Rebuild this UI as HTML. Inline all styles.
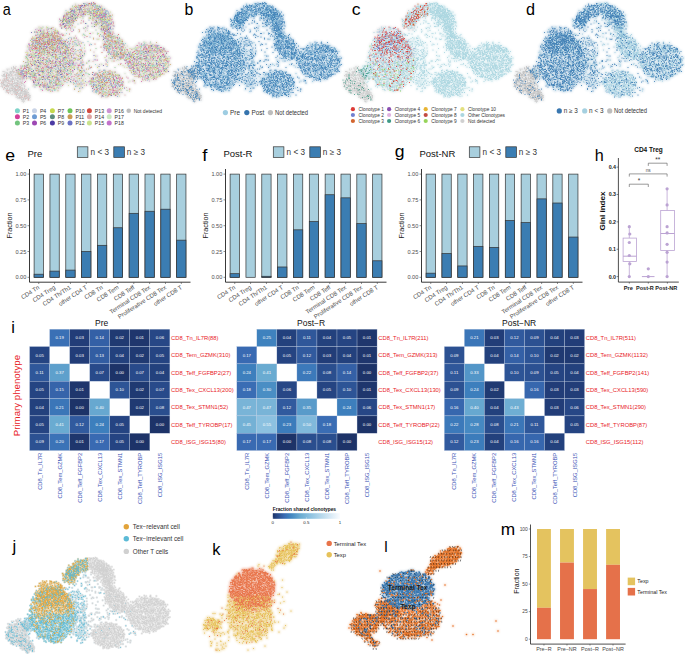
<!DOCTYPE html><html><head><meta charset="utf-8"><style>html,body{margin:0;padding:0;background:#fff;width:685px;height:654px;overflow:hidden}svg text{font-family:"Liberation Sans",sans-serif}</style></head><body><svg width="685" height="654" viewBox="0 0 685 654" style="display:block" font-family="Liberation Sans, sans-serif">
<rect width="685" height="654" fill="#fff"/>
<defs><filter id="bl" x="-5%" y="-5%" width="110%" height="110%"><feGaussianBlur stdDeviation="1.6"/></filter><filter id="bd" x="-5%" y="-5%" width="110%" height="110%"><feGaussianBlur stdDeviation="0.6"/></filter><g id="Asparse"><path id="Asparse0" d="M173 47h0m11 6h0m16 0h0m7 1h0m-12 12h0m8 6h0m-27 11h0m44 3h0m-39 2h0m47 0h0m1 6h0m-20 3h0m9 1h0m17 6h0m11 10h0m-11 5h0m-20 6h0m-24 4h0m68 2h0m-59 9h0m-29 6h0m3 1h0m5 21h0m39 8h0m26 9h0"/><path id="Asparse1" d="M181 67h0m-2 23h0m76 10h0m-85 2h0m64 3h0m-21 7h0m-21 8h0m3 0h0m47 7h0m9 0h0m-47 26h0m5 3h0m27 0h0m20 0h0m-73 1h0m-4 5h0m87 0h0m-93 8h0m59 0h0m27 8h0m-25 4h0"/><path id="Asparse2" d="M178 40h0m12 4h0m13 12h0m16 14h0m4 0h0m-43 4h0m41 11h0m-38 4h0m33 3h0m-5 1h0m30 4h0m-72 11h0m21 11h0m68 3h0m-84 4h0m40 7h0m-16 8h0m10 0h0m-21 4h0m38 1h0m-6 2h0m-48 15h0m75 2h0m-12 12h0m-49 5h0m50 11h0"/><path id="Asparse3" d="M193 41h0m-14 26h0m18 0h0m20 2h0m3 3h0m-3 9h0m4 9h0m-52 6h0m22 16h0m19 3h0m-37 11h0m42 4h0m52 1h0m-72 4h0m59 0h0m-82 10h0m40 6h0m-14 8h0m-17 4h0m-13 3h0m37 4h0m40 2h0m-52 7h0m66 3h0"/><path id="Asparse4" d="M193 43h0m6 3h0m-8 2h0m-4 28h0m0 2h0m23 9h0m-29 13h0m60 18h0m27 10h0m-27 1h0m23 0h0m-81 5h0m-10 4h0m4 0h0m91 3h0m-58 7h0m60 5h0m4 0h0m-78 15h0m17 8h0m47 2h0"/><path id="Asparse5" d="M199 72h0m-25 1h0m48 1h0m-32 14h0m30 1h0m-18 5h0m24 3h0m-22 8h0m17 12h0m7 5h0m30 1h0m-46 5h0m-30 7h0m92 3h0m-89 7h0m21 2h0m8 10h0m55 4h0m-64 10h0m14 8h0m12 12h0"/><path id="Asparse6" d="M171 62h0m45 2h0m-22 14h0m13 0h0m35 19h0m1 1h0m-55 6h0m70 3h0m-7 14h0m12 0h0m-77 2h0m13 6h0m-31 1h0m45 18h0m-44 2h0m84 4h0m-27 6h0m21 5h0m23 1h0m-102 1h0m47 5h0m6 0h0m32 3h0m-3 15h0"/><path id="Asparse7" d="M174 56h0m-5 19h0m47 20h0m11 2h0m-19 3h0m-39 6h0m25 6h0m-6 8h0m-9 1h0m34 2h0m43 1h0m-88 16h0m1 3h0m8 20h0m1 1h0m66 21h0"/><path id="Asparse8" d="M196 44h0m-7 5h0m-18 6h0m-3 2h0m24 3h0m3 8h0m-27 1h0m33 0h0m-31 2h0m-1 19h0m23 7h0m-23 10h0m48 2h0m1 7h0m24 2h0m-65 4h0m2 10h0m81 2h0m-30 1h0m-35 12h0m-18 1h0m2 1h0m44 2h0m7 9h0m38 1h0m-14 20h0m-25 8h0"/><path id="Asparse9" d="M171 47h0m5 5h0m13 1h0m14 5h0m12 26h0m14 9h0m-21 2h0m47 14h0m-67 2h0m24 9h0m37 0h0m5 4h0m-47 7h0m-9 2h0m-18 3h0m88 1h0m-2 3h0m-81 9h0m5 1h0m-4 5h0m21 3h0m42 18h0"/><path id="Asparse10" d="M175 61h0m42 24h0m32 15h0m-23 5h0m1 12h0m6 4h0m-54 2h0m24 5h0m1 1h0m-8 3h0m-24 13h0m78 2h0m13 0h0m-87 6h0m-5 4h0m29 0h0m66 2h0m-78 2h0m72 1h0m-3 2h0m-18 1h0m-1 16h0"/><path id="Asparse11" d="M186 53h0m0 13h0m12 12h0m-2 1h0m9 1h0m23 6h0m-60 25h0m62 3h0m-8 3h0m38 0h0m-13 1h0m-31 4h0m8 0h0m13 7h0m9 2h0m3 3h0m-57 14h0m14 0h0m10 5h0m-14 7h0m67 3h0m-95 2h0m38 2h0m-43 4h0m36 2h0m24 14h0m10 5h0"/></g><g id="AsparseL"><path id="AsparseL0" d="M162 46h0m-3 16h0m-35 6h0m15 0h0m-12 2h0m16 8h0m3 5h0m0 10h0m-1 3h0m17 3h0m0 1h0m-31 2h0m16 1h0m9 8h0m-8 6h0m-13 4h0m4 3h0m7 0h0m-14 2h0m8 0h0m16 4h0m3 0h0m4 5h0m1 2h0m3 12h0m-15 1h0m4 3h0m-87 2h0m70 2h0m12 6h0m-84 2h0m89 3h0m3 0h0"/><path id="AsparseL1" d="M163 41h0m4 3h0m-41 25h0m25 3h0m-2 4h0m-16 3h0m-2 8h0m0 0h0m17 3h0m-16 9h0m-5 8h0m18 0h0m16 1h0m-2 1h0m-1 8h0m-24 5h0m28 0h0m5 9h0m-25 1h0m15 3h0m-25 1h0m24 0h0m-10 9h0m14 1h0m-6 1h0m-5 2h0m-79 4h0m78 0h0m1 0h0m11 4h0m3 0h0m4 3h0m-99 10h0m96 6h0"/><path id="AsparseL2" d="M145 50h0m22 6h0m-7 27h0m-12 1h0m-25 2h0m13 4h0m0 6h0m-19 7h0m29 0h0m13 2h0m2 2h0m5 6h0m-17 2h0m3 0h0m11 1h0m-12 1h0m1 9h0m2 0h0m8 0h0m-2 1h0m-13 3h0m14 1h0m4 0h0m-8 2h0m-18 3h0m-1 2h0m5 17h0m8 6h0m-106 1h0m117 2h0m-1 4h0m-111 4h0"/><path id="AsparseL3" d="M166 36h0m-16 45h0m7 3h0m-7 4h0m-19 2h0m8 0h0m15 0h0m1 1h0m-37 10h0m13 6h0m13 0h0m-20 6h0m36 0h0m2 1h0m2 0h0m-1 2h0m-13 1h0m-25 5h0m20 4h0m0 3h0m20 0h0m-49 2h0m10 0h0m22 6h0m15 5h0m-2 3h0m-18 3h0m21 4h0m-111 1h0m84 8h0m5 4h0m18 3h0m-1 9h0"/><path id="AsparseL4" d="M147 60h0m1 16h0m-10 12h0m0 7h0m-17 2h0m8 9h0m36 5h0m-34 3h0m30 3h0m-47 2h0m42 1h0m-26 5h0m14 1h0m2 1h0m-15 6h0m18 6h0m12 2h0m-15 1h0m-84 7h0m6 2h0m97 0h0m-17 7h0m-6 1h0m12 3h0m-13 1h0m23 5h0"/><path id="AsparseL5" d="M130 84h0m26 0h0m-9 6h0m-1 6h0m-1 1h0m-26 2h0m15 0h0m24 3h0m-4 9h0m-19 2h0m15 8h0m12 3h0m-20 6h0m-3 1h0m-20 1h0m32 0h0m4 0h0m-12 5h0m13 3h0m-20 3h0m23 0h0m2 4h0m-28 2h0m35 4h0m-28 2h0m-75 1h0m93 0h0m-87 1h0m72 1h0m7 8h0m10 3h0m-94 3h0m100 4h0"/><path id="AsparseL6" d="M158 64h0m7 6h0m-35 1h0m18 5h0m2 1h0m-28 4h0m40 5h0m-22 2h0m18 3h0m-18 2h0m3 14h0m20 1h0m-13 11h0m7 0h0m-12 5h0m-4 7h0m1 5h0m6 0h0m9 0h0m-23 3h0m21 6h0m6 0h0m-106 4h0m106 2h0m-9 4h0m3 5h0m-7 1h0m16 1h0m2 0h0m-8 8h0m-21 1h0m12 6h0m11 5h0"/><path id="AsparseL7" d="M156 48h0m-23 19h0m34 1h0m-27 7h0m12 6h0m-13 5h0m-10 2h0m23 0h0m7 0h0m-24 3h0m17 1h0m12 4h0m-29 2h0m24 1h0m-22 2h0m15 2h0m8 2h0m-8 14h0m-18 7h0m-9 2h0m29 8h0m11 0h0m-30 6h0m29 3h0m-2 2h0m-10 2h0m12 0h0m-43 1h0m20 0h0m-77 3h0m59 1h0m-62 1h0m93 1h0m5 4h0m-2 4h0m5 1h0m-13 2h0m3 3h0m2 3h0m-97 5h0"/><path id="AsparseL8" d="M167 42h0m-34 14h0m11 7h0m-19 8h0m28 5h0m3 4h0m-15 2h0m-11 1h0m5 2h0m5 2h0m18 1h0m3 4h0m-29 2h0m4 1h0m11 3h0m-6 1h0m3 3h0m-11 3h0m-5 1h0m19 4h0m-11 1h0m2 0h0m23 1h0m-46 5h0m7 6h0m44 1h0m-45 1h0m26 0h0m-1 3h0m4 3h0m7 0h0m1 0h0m-32 12h0m-2 3h0m20 7h0m2 8h0m-95 2h0m-2 2h0"/><path id="AsparseL9" d="M120 76h0m23 0h0m-6 1h0m-16 4h0m11 0h0m5 2h0m13 2h0m16 0h0m0 0h0m-21 3h0m8 0h0m-20 2h0m1 3h0m-1 3h0m12 2h0m6 1h0m-14 4h0m25 0h0m-12 3h0m-2 2h0m-4 7h0m3 1h0m-22 5h0m13 3h0m24 0h0m-28 2h0m11 0h0m17 0h0m-21 2h0m9 0h0m17 1h0m-3 1h0m-32 2h0m1 1h0m5 3h0m17 2h0m13 3h0m-49 4h0m39 4h0m-2 1h0m-32 5h0m39 1h0m-16 9h0m6 1h0m-2 7h0m-81 1h0m95 1h0m-5 1h0"/><path id="AsparseL10" d="M160 35h0m-10 19h0m-5 30h0m-10 11h0m-5 5h0m8 0h0m11 0h0m5 10h0m-18 2h0m21 1h0m-6 6h0m-3 2h0m-6 12h0m6 0h0m1 1h0m10 7h0m5 0h0m-2 3h0m-93 6h0m89 7h0m7 3h0m-9 12h0"/><path id="AsparseL11" d="M147 44h0m-5 1h0m16 14h0m5 27h0m-22 14h0m15 1h0m7 0h0m2 3h0m-25 1h0m12 3h0m-2 9h0m6 1h0m3 1h0m6 1h0m-1 6h0m-1 7h0m-7 2h0m2 4h0m1 3h0m5 1h0m-23 1h0m22 0h0m-94 2h0m85 1h0m-20 4h0m0 0h0m24 0h0m1 6h0m-12 11h0m15 4h0m-13 7h0m8 4h0"/></g><g id="Agrey"><path id="Agrey0" d="M8 143h0m19 1h0m7 0h0m-20 1h0m1 2h0m26 0h0m-19 1h0m-3 1h0m12 0h0m3 0h0m4 1h0m-24 1h0m-4 1h0m31 0h0m-22 2h0m12 0h0m-11 3h0m19 0h0m-26 1h0m13 0h0m-13 1h0m3 0h0m1 3h0m-10 3h0m26 0h0m0 0h0m-17 1h0m1 1h0m12 0h0m1 0h0m-8 1h0m14 0h0m3 0h0m-27 1h0m3 0h0m-11 2h0m32 0h0m-26 1h0m21 0h0m-19 1h0m20 0h0m-17 1h0m3 1h0m14 0h0m12 0h0m1 1h0m-14 1h0m18 0h0m-18 2h0m2 0h0m-9 1h0m4 0h0m15 0h0m7 0h0m-29 3h0m16 0h0m6 1h0m8 0h0m-17 1h0m16 0h0m-29 1h0m29 0h0m-8 1h0m-8 2h0m23 0h0m-9 1h0m10 0h0m-16 2h0m-7 1h0m14 0h0m-1 1h0m-4 2h0m-8 1h0m11 0h0m0 1h0m9 0h0"/><path id="Agrey1" d="M32 139h0m-5 5h0m2 0h0m6 1h0m-1 1h0m-17 3h0m19 0h0m3 0h0m9 2h0m-36 1h0m1 1h0m30 1h0m-11 3h0m-9 1h0m-14 1h0m32 0h0m-17 1h0m-10 1h0m21 0h0m-5 4h0m0 0h0m10 0h0m-16 1h0m11 0h0m-33 1h0m43 0h0m-9 1h0m2 0h0m-2 5h0m3 0h0m-12 1h0m9 0h0m-21 3h0m-7 1h0m23 0h0m-3 1h0m5 0h0m4 2h0m-9 2h0m-11 2h0m15 3h0m4 1h0m4 2h0m2 3h0m11 0h0m-9 1h0m5 1h0m2 2h0"/><path id="Agrey2" d="M27 138h0m7 1h0m-13 5h0m3 0h0m12 0h0m8 0h0m-12 1h0m-12 1h0m20 1h0m-23 1h0m13 1h0m-22 1h0m5 0h0m31 1h0m-39 1h0m12 0h0m18 3h0m1 0h0m-9 2h0m12 0h0m-23 4h0m20 1h0m-7 2h0m15 1h0m-9 1h0m-7 1h0m0 1h0m6 0h0m-1 1h0m-13 1h0m-5 1h0m18 0h0m-16 1h0m32 0h0m-47 1h0m29 0h0m5 0h0m-12 2h0m4 0h0m3 5h0m7 0h0m2 0h0m-26 1h0m15 0h0m3 0h0m3 0h0m19 0h0m-24 2h0m1 0h0m12 0h0m-10 2h0m9 1h0m7 0h0m7 2h0m2 0h0m-19 2h0m4 2h0m0 1h0m-11 1h0m2 0h0m20 0h0m-14 1h0m0 2h0m10 2h0"/><path id="Agrey3" d="M23 136h0m1 7h0m17 1h0m-19 1h0m4 2h0m17 0h0m-25 3h0m12 0h0m13 0h0m-23 1h0m3 0h0m11 2h0m14 1h0m-30 1h0m28 0h0m-8 1h0m-24 2h0m8 0h0m16 0h0m4 0h0m-16 1h0m2 0h0m4 0h0m7 0h0m-5 2h0m-14 1h0m-3 1h0m18 3h0m0 0h0m-32 2h0m28 0h0m10 0h0m-35 1h0m16 1h0m3 0h0m14 0h0m-17 1h0m7 0h0m-17 1h0m21 0h0m4 1h0m-13 3h0m-4 1h0m6 0h0m19 1h0m-6 1h0m1 0h0m0 0h0m-21 2h0m5 0h0m1 0h0m4 2h0m20 0h0m-35 1h0m1 0h0m38 0h0m1 0h0m-26 1h0m7 0h0m6 1h0m-9 1h0m9 0h0m7 0h0m1 1h0m3 2h0m8 1h0m-1 1h0m-10 1h0m-9 1h0m-4 1h0m24 0h0m-7 2h0m0 0h0m3 3h0"/><path id="Agrey4" d="M24 143h0m-12 3h0m-3 2h0m28 0h0m-28 1h0m28 0h0m-22 1h0m3 0h0m16 1h0m10 1h0m-22 1h0m3 1h0m6 2h0m10 0h0m-33 1h0m18 0h0m18 0h0m-8 1h0m9 0h0m-37 2h0m2 0h0m-4 2h0m1 0h0m6 0h0m12 0h0m-4 1h0m5 0h0m3 1h0m8 0h0m-23 1h0m11 0h0m22 3h0m-39 1h0m28 1h0m-11 1h0m-7 1h0m8 1h0m5 0h0m7 0h0m-33 1h0m26 0h0m7 0h0m11 0h0m-36 2h0m11 0h0m0 1h0m6 0h0m15 0h0m-29 2h0m10 2h0m19 1h0m-13 1h0m17 0h0m2 0h0m-19 1h0m-2 1h0m27 0h0m-31 1h0m29 0h0m-5 1h0m3 0h0m-8 1h0m-13 2h0m22 0h0m-9 1h0m6 0h0m9 2h0m-3 1h0m3 0h0m-2 2h0m0 0h0m-9 6h0m-2 2h0"/><path id="Agrey5" d="M30 135h0m-7 1h0m-5 2h0m7 5h0m-6 1h0m2 0h0m11 2h0m-23 2h0m29 1h0m-7 1h0m5 0h0m-19 1h0m32 0h0m-11 1h0m12 1h0m-22 3h0m-16 1h0m10 1h0m18 2h0m-30 1h0m12 1h0m-19 2h0m39 0h0m1 2h0m-24 1h0m6 2h0m-10 1h0m18 0h0m-23 1h0m2 0h0m2 0h0m4 0h0m11 0h0m1 0h0m13 0h0m-9 2h0m4 0h0m-10 3h0m12 0h0m-18 1h0m1 0h0m2 1h0m16 0h0m-22 1h0m18 2h0m13 1h0m-38 2h0m41 0h0m2 0h0m-12 2h0m-10 1h0m4 0h0m4 3h0m13 2h0m3 0h0m-15 2h0m-3 1h0m16 0h0m-7 2h0m-4 2h0"/><path id="Agrey6" d="M29 137h0m-2 1h0m5 3h0m6 0h0m2 2h0m-14 1h0m1 0h0m-13 2h0m22 0h0m-17 4h0m-5 2h0m24 1h0m-1 2h0m8 0h0m-31 4h0m18 1h0m-10 1h0m18 3h0m-28 1h0m-7 1h0m7 0h0m20 0h0m-29 2h0m19 0h0m-2 1h0m4 0h0m-16 1h0m19 3h0m4 0h0m6 0h0m-16 1h0m8 0h0m12 2h0m-6 1h0m-10 1h0m18 0h0m4 0h0m-16 1h0m4 0h0m10 0h0m-31 1h0m36 0h0m-35 1h0m34 0h0m-33 1h0m18 0h0m-7 1h0m20 0h0m-29 2h0m28 1h0m7 3h0m0 0h0m1 0h0m-17 1h0m12 0h0m-9 1h0m20 0h0m-10 2h0m2 1h0m-9 2h0m16 1h0m-12 2h0"/><path id="Agrey7" d="M27 133h0m-3 5h0m11 1h0m-9 1h0m11 1h0m-31 2h0m37 3h0m-29 1h0m-7 2h0m-3 2h0m4 0h0m1 1h0m2 0h0m-3 1h0m3 0h0m30 1h0m-22 1h0m6 1h0m10 1h0m-10 2h0m12 3h0m-21 4h0m17 0h0m1 0h0m-25 3h0m24 1h0m11 0h0m-20 1h0m3 1h0m7 1h0m2 1h0m-2 1h0m5 0h0m-28 2h0m4 0h0m5 1h0m8 1h0m14 0h0m-17 1h0m14 0h0m6 0h0m0 1h0m-32 2h0m29 0h0m-10 1h0m3 0h0m6 0h0m4 0h0m-16 2h0m9 1h0m8 1h0m-12 1h0m7 1h0m13 1h0m-5 2h0m3 0h0m-1 3h0m-11 1h0m11 1h0m-5 1h0m1 1h0"/><path id="Agrey8" d="M27 135h0m4 2h0m-6 4h0m10 3h0m-14 3h0m13 1h0m6 0h0m-33 1h0m15 3h0m25 3h0m-21 1h0m16 0h0m-6 1h0m5 0h0m-24 1h0m9 0h0m15 0h0m1 0h0m-18 2h0m18 0h0m-33 2h0m26 0h0m-24 1h0m1 0h0m28 1h0m-13 3h0m8 1h0m7 0h0m-33 2h0m39 0h0m-33 2h0m18 0h0m-21 1h0m-7 1h0m1 0h0m32 1h0m-26 5h0m17 0h0m1 0h0m2 0h0m1 0h0m4 0h0m-13 2h0m21 0h0m5 0h0m-2 1h0m-18 1h0m1 0h0m3 1h0m-17 1h0m22 0h0m-8 1h0m20 1h0m-21 1h0m21 0h0m-18 2h0m17 2h0m-12 2h0m0 1h0m18 1h0m-13 2h0m17 1h0m-16 2h0"/><path id="Agrey9" d="M32 133h0m-18 5h0m21 3h0m0 0h0m-2 1h0m-12 1h0m2 1h0m14 0h0m3 1h0m-19 2h0m25 0h0m-14 3h0m6 0h0m-10 1h0m-21 1h0m28 0h0m3 1h0m2 1h0m11 0h0m-36 1h0m17 2h0m16 2h0m-43 1h0m10 0h0m-5 1h0m19 0h0m-6 1h0m19 1h0m-36 1h0m3 0h0m-3 2h0m0 1h0m17 5h0m17 0h0m-27 1h0m12 0h0m16 0h0m-1 1h0m-3 1h0m-22 2h0m9 0h0m7 2h0m-10 2h0m24 0h0m-15 2h0m4 0h0m18 1h0m-17 1h0m7 0h0m9 1h0m1 1h0m-2 1h0m4 2h0m-17 1h0m8 0h0m6 1h0m-12 1h0m10 2h0m7 2h0m-9 1h0"/><path id="Agrey10" d="M15 140h0m28 2h0m-33 2h0m18 0h0m12 2h0m-20 2h0m0 0h0m3 0h0m0 1h0m-14 1h0m31 1h0m-14 3h0m-11 1h0m10 0h0m-16 1h0m28 0h0m10 0h0m-34 2h0m-1 1h0m5 1h0m-3 1h0m-7 1h0m28 0h0m-28 3h0m11 1h0m13 0h0m-25 1h0m2 1h0m18 0h0m-19 1h0m16 0h0m2 0h0m-18 1h0m12 0h0m0 0h0m-7 1h0m5 2h0m25 1h0m-33 1h0m1 1h0m0 1h0m27 0h0m-18 1h0m9 0h0m-15 1h0m9 1h0m9 0h0m10 0h0m-16 1h0m8 0h0m10 0h0m-24 1h0m31 1h0m-17 2h0m15 0h0m-13 2h0m4 1h0m7 0h0m7 0h0m-4 1h0m-8 1h0m5 5h0m5 1h0m-8 2h0m14 0h0m-12 2h0m1 3h0"/><path id="Agrey11" d="M30 136h0m2 4h0m5 2h0m-9 1h0m10 0h0m-3 2h0m7 3h0m-29 1h0m28 0h0m-16 1h0m-12 1h0m29 0h0m-29 1h0m27 1h0m3 1h0m3 0h0m-33 1h0m-1 1h0m33 0h0m-31 1h0m-6 1h0m37 0h0m-44 2h0m9 0h0m6 1h0m-10 1h0m13 0h0m6 1h0m-22 2h0m3 1h0m10 0h0m4 0h0m23 0h0m-19 1h0m12 0h0m-4 4h0m3 0h0m-31 1h0m9 0h0m3 0h0m23 2h0m-30 1h0m31 0h0m-16 1h0m5 1h0m13 0h0m-35 1h0m31 0h0m-4 1h0m18 0h0m-37 1h0m16 0h0m2 0h0m-20 1h0m4 0h0m26 0h0m-28 3h0m20 1h0m-18 1h0m13 2h0m-6 1h0m9 0h0m20 1h0m-3 1h0m-1 2h0m3 0h0m-7 1h0m11 0h0m-16 1h0m12 2h0m5 1h0m0 2h0"/></g><g id="AbigL"><path id="AbigL0" d="M58 87h0m1 4h0m9 0h0m-8 3h0m0 7h0m58 3h0m-46 7h0m-10 4h0m64 1h0m-61 2h0m5 3h0m24 0h0m-28 1h0m75 0h0m3 0h0m-40 1h0m23 1h0m-24 2h0m-42 1h0m45 0h0m29 0h0m-24 3h0m-34 1h0m33 0h0m-18 1h0m11 0h0m25 0h0m-72 3h0m25 0h0m4 0h0m12 0h0m6 0h0m-27 1h0m-1 1h0m8 0h0m20 1h0m-27 1h0m21 1h0m-23 1h0m10 0h0m31 0h0m8 0h0m22 0h0m-12 6h0m-20 1h0m22 0h0m-41 1h0m41 0h0m-58 1h0m32 2h0m-24 1h0m-19 1h0m7 0h0m41 0h0m-44 1h0m13 0h0m3 0h0m26 0h0m24 1h0m-66 2h0m63 1h0m-67 2h0m34 0h0m13 1h0m6 1h0m-17 1h0m-26 1h0m35 0h0m-26 3h0m26 0h0m4 0h0m-27 2h0m22 1h0m15 0h0m-40 1h0m22 0h0m-28 1h0m20 2h0m4 0h0m-9 1h0m-1 2h0m5 2h0m-13 1h0m20 1h0"/><path id="AbigL1" d="M107 114h0m22 1h0m-10 2h0m8 1h0m3 3h0m-69 2h0m52 0h0m11 0h0m-11 3h0m5 1h0m28 2h0m-93 1h0m41 0h0m15 0h0m-34 1h0m65 0h0m-44 2h0m-2 1h0m48 0h0m-82 1h0m35 0h0m19 1h0m10 0h0m8 0h0m-70 1h0m59 0h0m10 0h0m-43 1h0m23 0h0m-28 1h0m20 0h0m9 0h0m-55 1h0m28 2h0m41 0h0m-4 3h0m-52 1h0m31 1h0m18 0h0m-51 2h0m9 0h0m38 0h0m-50 1h0m53 0h0m-48 1h0m9 0h0m37 0h0m17 0h0m-76 2h0m66 0h0m-18 1h0m8 0h0m-3 1h0m7 1h0m-34 2h0m8 0h0m22 0h0m-33 1h0m11 0h0m10 2h0m-33 1h0m24 0h0m16 4h0m-40 2h0m33 0h0m-7 1h0m23 1h0m-10 1h0m7 0h0m-12 1h0m3 2h0m-11 1h0m-10 4h0m12 1h0"/><path id="AbigL2" d="M74 76h0m-9 12h0m32 13h0m-45 4h0m3 1h0m1 0h0m-1 5h0m11 2h0m64 0h0m-5 3h0m8 1h0m-79 1h0m23 0h0m38 0h0m19 0h0m-78 1h0m24 0h0m11 1h0m9 1h0m6 0h0m24 0h0m-35 1h0m40 0h0m-75 1h0m63 0h0m14 0h0m-80 1h0m13 0h0m13 0h0m-9 1h0m41 0h0m-49 1h0m4 0h0m9 0h0m25 0h0m-36 1h0m20 0h0m15 0h0m15 0h0m-56 1h0m68 1h0m-64 1h0m9 0h0m35 0h0m-3 1h0m0 0h0m-52 1h0m76 0h0m-54 1h0m15 2h0m29 0h0m25 0h0m-47 2h0m40 0h0m-37 1h0m24 1h0m-52 1h0m12 0h0m16 0h0m4 0h0m23 0h0m1 0h0m-72 1h0m18 0h0m64 0h0m-16 1h0m-7 1h0m10 0h0m-70 1h0m9 0h0m48 0h0m16 0h0m-46 1h0m-27 2h0m10 0h0m31 1h0m24 0h0m-37 1h0m-3 1h0m22 0h0m-35 1h0m46 0h0m-4 1h0m2 0h0m-16 1h0m34 1h0m-47 1h0m2 0h0m-30 1h0m36 0h0m1 0h0m11 0h0m18 1h0m-25 1h0m17 0h0m1 0h0m-29 1h0m45 0h0m-52 1h0m24 0h0m24 0h0m-24 1h0m-36 2h0m5 1h0m19 2h0m12 0h0m8 1h0m4 0h0m3 0h0m6 0h0m0 2h0m-9 1h0m-19 2h0m8 0h0m12 3h0m-26 1h0m14 0h0m-8 1h0m5 6h0"/><path id="AbigL3" d="M63 109h0m80 4h0m0 2h0m-89 1h0m32 0h0m-4 1h0m-26 3h0m83 1h0m-92 2h0m15 0h0m42 0h0m0 1h0m-53 1h0m35 0h0m5 0h0m15 1h0m27 0h0m-14 2h0m-6 1h0m11 0h0m-68 1h0m56 0h0m8 1h0m5 0h0m-66 1h0m16 0h0m5 0h0m4 0h0m26 0h0m-17 1h0m18 0h0m20 0h0m6 0h0m-65 3h0m29 0h0m-42 1h0m15 0h0m22 1h0m-21 1h0m4 0h0m-18 1h0m81 3h0m-38 2h0m8 0h0m21 4h0m-66 1h0m30 0h0m4 0h0m-21 1h0m-15 1h0m19 2h0m20 0h0m16 0h0m-20 1h0m9 0h0m-39 1h0m20 0h0m36 0h0m-54 1h0m42 0h0m0 0h0m-7 2h0m-32 1h0m39 0h0m3 5h0m-28 3h0m-17 1h0m41 0h0m-13 1h0m-19 1h0m19 2h0m1 1h0m7 4h0m2 0h0"/><path id="AbigL4" d="M64 94h0m18 14h0m-28 1h0m70 1h0m-64 5h0m35 1h0m-9 1h0m6 2h0m20 3h0m-1 2h0m-24 4h0m2 2h0m23 1h0m-37 1h0m41 1h0m22 0h0m-44 1h0m-40 1h0m47 0h0m3 0h0m18 0h0m-35 1h0m-1 1h0m9 2h0m46 0h0m-54 1h0m41 0h0m-61 1h0m6 0h0m11 0h0m2 0h0m32 0h0m1 0h0m-26 1h0m29 0h0m-65 1h0m60 0h0m-31 2h0m-22 1h0m13 0h0m9 0h0m11 0h0m20 0h0m-43 1h0m-13 1h0m64 0h0m11 1h0m-66 1h0m10 1h0m48 0h0m-66 1h0m45 0h0m22 0h0m-19 1h0m-44 2h0m21 0h0m11 0h0m16 0h0m15 0h0m-24 1h0m-10 1h0m-23 2h0m26 0h0m-32 1h0m70 0h0m-20 1h0m-5 1h0m7 1h0m12 0h0m-60 1h0m33 0h0m-18 1h0m5 3h0m23 0h0m-33 1h0m3 1h0m-2 1h0m11 0h0m-2 1h0m-10 2h0m28 3h0"/><path id="AbigL5" d="M68 90h0m-10 2h0m5 5h0m1 2h0m1 5h0m2 1h0m-5 2h0m21 3h0m47 0h0m-76 1h0m4 0h0m82 1h0m-89 4h0m88 0h0m-17 3h0m-65 2h0m25 0h0m62 0h0m-76 1h0m33 1h0m36 0h0m-40 3h0m14 1h0m-30 1h0m8 0h0m15 0h0m-6 1h0m40 0h0m-69 1h0m6 1h0m2 0h0m18 0h0m9 0h0m10 0h0m-51 1h0m7 0h0m3 0h0m-11 1h0m26 1h0m47 0h0m-65 2h0m10 0h0m-9 1h0m35 0h0m-6 1h0m20 0h0m-18 1h0m32 0h0m-74 1h0m58 0h0m5 0h0m-56 1h0m5 0h0m12 1h0m24 0h0m-34 1h0m40 0h0m-26 1h0m33 0h0m1 1h0m-7 1h0m-26 1h0m-9 2h0m35 1h0m3 0h0m-3 4h0m-50 1h0m56 0h0m-17 1h0m33 0h0m-29 1h0m19 0h0m7 0h0m-28 2h0m26 0h0m-32 1h0m0 0h0m-35 1h0m24 1h0m24 0h0m-24 2h0m5 1h0m18 0h0m-10 1h0m-13 2h0m3 0h0m2 0h0m-17 1h0m10 0h0m40 0h0m-54 1h0m21 0h0m15 1h0m-4 1h0m-8 1h0m21 1h0m-18 1h0m8 0h0m-6 6h0m14 0h0m-14 1h0"/><path id="AbigL6" d="M67 85h0m-2 4h0m11 0h0m-18 6h0m3 0h0m20 7h0m20 7h0m-44 3h0m49 2h0m30 3h0m-5 1h0m14 2h0m-5 1h0m-79 2h0m13 2h0m35 0h0m-43 1h0m28 0h0m45 0h0m-58 1h0m4 0h0m24 0h0m2 0h0m16 0h0m13 1h0m-26 1h0m7 0h0m13 0h0m-30 1h0m9 0h0m6 0h0m14 0h0m-55 1h0m31 0h0m10 0h0m-29 1h0m31 0h0m-10 1h0m16 0h0m-74 1h0m35 0h0m18 1h0m39 0h0m-44 2h0m-49 1h0m22 0h0m55 0h0m-43 2h0m34 0h0m1 1h0m9 0h0m1 0h0m-50 1h0m50 0h0m-34 1h0m-18 1h0m8 0h0m5 2h0m5 0h0m22 1h0m-33 3h0m29 0h0m12 0h0m-32 1h0m31 0h0m0 0h0m-38 1h0m-21 1h0m30 0h0m-38 1h0m13 0h0m16 1h0m1 1h0m4 1h0m-29 1h0m12 0h0m-7 1h0m38 0h0m6 0h0m-13 1h0m22 1h0m-23 2h0m6 0h0m3 3h0m-39 1h0m31 0h0m11 0h0m11 1h0m-42 1h0m14 0h0m-13 1h0m12 3h0m4 0h0m11 1h0m-12 1h0m21 2h0m-19 2h0m2 1h0"/><path id="AbigL7" d="M68 77h0m-7 4h0m4 3h0m-3 14h0m40 13h0m19 2h0m-68 2h0m11 0h0m-9 2h0m74 2h0m10 1h0m-38 2h0m-5 1h0m5 0h0m45 0h0m-91 1h0m27 0h0m24 0h0m12 0h0m-39 2h0m14 1h0m51 1h0m-88 1h0m26 0h0m39 0h0m-66 1h0m37 0h0m-43 1h0m5 0h0m90 0h0m-88 1h0m24 1h0m-3 1h0m26 0h0m24 0h0m-18 3h0m21 0h0m-72 1h0m72 0h0m-59 2h0m19 0h0m5 0h0m27 0h0m14 1h0m-55 1h0m-16 1h0m12 0h0m35 0h0m-27 1h0m43 0h0m-41 1h0m8 0h0m4 0h0m-28 2h0m35 0h0m18 0h0m18 0h0m-83 1h0m26 0h0m29 0h0m-45 2h0m1 1h0m29 0h0m-33 1h0m60 1h0m-39 1h0m17 0h0m26 0h0m-70 2h0m18 0h0m1 0h0m2 2h0m14 1h0m17 0h0m-38 1h0m1 1h0m35 3h0m7 0h0m5 0h0m-21 1h0m6 0h0m-7 1h0m10 0h0m3 0h0m-25 2h0m17 0h0m13 0h0m-46 3h0m2 0h0m5 0h0m9 2h0m11 0h0m-1 1h0m2 5h0m-4 1h0"/><path id="AbigL8" d="M66 80h0m0 7h0m-8 2h0m6 0h0m9 5h0m-2 2h0m13 8h0m46 2h0m11 0h0m-5 1h0m-15 1h0m15 6h0m6 6h0m-65 1h0m9 0h0m14 0h0m-7 1h0m7 0h0m11 1h0m0 1h0m9 0h0m-68 1h0m86 1h0m-58 1h0m21 0h0m21 0h0m-65 1h0m71 0h0m3 0h0m-62 1h0m1 0h0m67 0h0m-16 2h0m18 0h0m-13 1h0m-18 1h0m-55 1h0m76 1h0m-31 1h0m6 0h0m13 0h0m12 2h0m-51 2h0m40 0h0m3 0h0m14 0h0m-68 1h0m35 0h0m13 1h0m-49 1h0m14 0h0m4 0h0m2 0h0m15 0h0m20 0h0m-6 1h0m-19 1h0m33 1h0m9 1h0m-68 1h0m9 1h0m42 0h0m2 0h0m-4 2h0m-51 1h0m24 0h0m-32 1h0m27 0h0m11 0h0m7 0h0m19 0h0m-28 1h0m16 1h0m-17 1h0m-7 2h0m27 0h0m3 0h0m-33 1h0m13 0h0m-20 1h0m40 0h0m10 0h0m-57 1h0m-4 2h0m11 1h0m21 0h0m-31 1h0m9 2h0m-1 1h0m19 0h0m-14 1h0m31 1h0m8 0h0m-32 1h0m8 1h0m-9 2h0m3 0h0m7 1h0"/><path id="AbigL9" d="M55 94h0m52 15h0m29 3h0m-85 2h0m76 1h0m-36 7h0m-34 1h0m77 1h0m11 0h0m-93 1h0m36 0h0m40 0h0m4 0h0m-77 2h0m9 0h0m-14 1h0m58 3h0m22 0h0m3 0h0m-77 1h0m2 0h0m4 0h0m20 0h0m-28 2h0m64 0h0m-61 1h0m21 0h0m63 0h0m-31 1h0m-33 1h0m33 0h0m16 0h0m12 0h0m-58 1h0m8 0h0m-26 1h0m3 0h0m10 0h0m11 1h0m43 0h0m-13 1h0m-19 2h0m-31 1h0m-8 1h0m43 0h0m-12 1h0m10 1h0m14 0h0m-28 1h0m2 2h0m43 0h0m-34 1h0m23 0h0m9 0h0m-47 4h0m47 1h0m-66 1h0m30 0h0m3 1h0m31 0h0m-53 1h0m57 0h0m-28 1h0m2 0h0m-14 2h0m-7 2h0m5 0h0m36 0h0m4 1h0m-30 3h0m-20 1h0m5 1h0m-2 4h0m39 2h0m-25 1h0m18 0h0m-32 2h0m10 0h0m15 0h0"/><path id="AbigL10" d="M55 92h0m7 15h0m76 1h0m4 10h0m-10 1h0m-16 1h0m14 0h0m11 1h0m-74 2h0m42 2h0m19 1h0m3 1h0m-65 1h0m-10 1h0m55 0h0m-11 1h0m-50 2h0m24 1h0m66 0h0m2 2h0m-12 1h0m7 1h0m-53 1h0m59 0h0m-87 1h0m23 0h0m5 0h0m10 0h0m-13 1h0m10 0h0m21 0h0m-4 1h0m10 0h0m-14 1h0m0 0h0m35 0h0m-80 3h0m36 0h0m-32 1h0m5 0h0m27 0h0m42 0h0m-51 2h0m21 0h0m-40 1h0m18 0h0m26 0h0m-48 1h0m3 1h0m7 0h0m24 0h0m6 1h0m7 1h0m27 2h0m-32 2h0m-43 1h0m14 0h0m7 1h0m54 0h0m-34 3h0m-1 1h0m-28 1h0m9 0h0m16 3h0m-5 1h0m25 0h0m-2 1h0m-40 1h0m5 0h0m1 0h0m26 2h0m4 3h0m-18 3h0m17 0h0m-17 3h0m14 0h0m7 1h0"/><path id="AbigL11" d="M71 77h0m-9 18h0m-5 3h0m29 3h0m50 8h0m-2 2h0m-80 1h0m1 5h0m76 0h0m-49 1h0m-26 2h0m38 1h0m-23 1h0m22 0h0m37 0h0m3 1h0m-65 1h0m26 0h0m21 7h0m3 0h0m23 0h0m-62 2h0m17 1h0m19 0h0m-42 1h0m56 1h0m-37 1h0m29 0h0m-51 1h0m22 0h0m-29 1h0m38 0h0m16 0h0m11 0h0m-47 3h0m22 0h0m2 0h0m-16 1h0m44 0h0m9 0h0m-47 1h0m21 0h0m-50 1h0m9 0h0m61 1h0m-74 1h0m0 0h0m76 0h0m-73 1h0m51 1h0m-27 1h0m14 0h0m11 1h0m-47 1h0m6 1h0m10 0h0m54 0h0m-36 2h0m11 0h0m-2 1h0m14 0h0m7 1h0m-70 1h0m34 0h0m2 1h0m10 2h0m1 0h0m-6 1h0m1 0h0m7 0h0m-8 1h0m19 0h0m-2 1h0m15 1h0m-35 1h0m-16 1h0m16 0h0m-26 1h0m-3 1h0m52 0h0m-7 1h0m-21 1h0m2 1h0m-1 1h0m27 0h0m-7 1h0m-6 5h0m-5 1h0m7 0h0m-6 1h0m4 0h0"/></g><g id="AbigU"><path id="AbigU0" d="M82 55h0m11 3h0m4 0h0m11 1h0m-30 1h0m28 6h0m6 0h0m1 0h0m-3 1h0m4 1h0m4 0h0m-35 2h0m7 0h0m5 0h0m10 0h0m11 0h0m-25 1h0m14 0h0m5 0h0m-33 1h0m3 0h0m20 0h0m3 1h0m15 0h0m-12 1h0m2 0h0m1 0h0m-11 1h0m11 1h0m6 0h0m6 0h0m-42 1h0m8 0h0m1 0h0m19 0h0m4 0h0m9 0h0m-57 2h0m48 2h0m-28 1h0m5 0h0m21 0h0m16 0h0m-55 1h0m25 1h0m10 0h0m-29 1h0m50 0h0m-40 1h0m17 0h0m13 0h0m-21 1h0m21 0h0m-39 1h0m49 0h0m-41 1h0m7 0h0m18 0h0m-43 1h0m11 0h0m19 0h0m12 0h0m3 0h0m6 0h0m6 0h0m8 0h0m-54 1h0m8 0h0m19 0h0m9 2h0m-30 1h0m4 0h0m13 0h0m6 1h0m15 0h0m-11 1h0m-33 1h0m24 0h0m9 0h0m1 0h0m-32 1h0m24 0h0m2 0h0m-17 1h0m13 0h0m18 0h0m-36 1h0m0 0h0m11 1h0m2 0h0m12 0h0m10 0h0m14 0h0m-54 1h0m8 0h0m3 0h0m18 1h0m-37 1h0m66 0h0m-57 1h0m1 0h0m11 0h0m20 0h0m8 0h0m7 0h0m-29 1h0m4 0h0m23 0h0m-28 1h0m-36 1h0m20 0h0m3 0h0m-9 1h0m14 0h0m49 0h0m-13 1h0m-65 1h0m52 2h0m-28 1h0m-9 1h0m6 5h0m-3 5h0m-8 2h0m34 0h0m-8 1h0m18 2h0m-22 4h0m-6 3h0m-26 8h0"/><path id="AbigU1" d="M95 55h0m-21 3h0m32 0h0m-35 1h0m45 4h0m-1 4h0m-19 1h0m27 0h0m-41 1h0m0 0h0m21 1h0m6 0h0m6 0h0m-30 1h0m16 0h0m-21 1h0m16 0h0m-22 2h0m38 0h0m1 0h0m1 0h0m-36 1h0m2 0h0m6 0h0m23 1h0m-33 1h0m13 0h0m8 0h0m-26 1h0m18 0h0m23 0h0m-24 2h0m22 0h0m-8 1h0m16 0h0m7 0h0m4 0h0m-63 1h0m57 0h0m-47 1h0m9 0h0m15 0h0m14 0h0m-38 1h0m4 0h0m35 0h0m-40 1h0m49 0h0m-49 1h0m10 0h0m3 0h0m37 0h0m3 0h0m-46 2h0m30 0h0m1 0h0m4 2h0m-24 2h0m11 0h0m-13 1h0m25 1h0m-26 1h0m17 0h0m8 0h0m-43 1h0m15 0h0m25 0h0m4 0h0m7 0h0m-41 1h0m33 0h0m5 0h0m-58 1h0m4 0h0m28 0h0m20 0h0m3 0h0m2 0h0m18 0h0m-38 1h0m0 1h0m23 0h0m-36 1h0m12 0h0m5 0h0m8 0h0m31 0h0m-88 1h0m42 0h0m3 0h0m9 1h0m6 0h0m-14 1h0m-25 1h0m10 0h0m18 0h0m11 0h0m-42 1h0m24 0h0m0 0h0m-26 1h0m57 0h0m-9 1h0m6 0h0m10 0h0m-51 2h0m22 0h0m28 0h0m0 0h0m-69 2h0m32 1h0m16 1h0m4 0h0m-44 1h0m10 0h0m4 0h0m3 1h0m42 0h0m7 1h0m-31 4h0m5 2h0m-25 1h0m-5 4h0m7 3h0"/><path id="AbigU2" d="M86 54h0m9 1h0m5 2h0m2 1h0m8 3h0m1 0h0m-25 1h0m-17 2h0m45 1h0m-18 1h0m17 0h0m1 0h0m-27 1h0m13 0h0m-1 1h0m-23 1h0m22 1h0m-18 1h0m12 0h0m5 0h0m8 1h0m7 0h0m-21 1h0m-4 1h0m23 0h0m-34 1h0m4 0h0m20 0h0m-36 4h0m48 0h0m0 1h0m-40 2h0m13 0h0m5 0h0m5 0h0m26 1h0m-31 1h0m2 1h0m8 0h0m1 0h0m13 0h0m-41 1h0m7 0h0m9 0h0m35 0h0m4 0h0m-52 1h0m11 0h0m13 0h0m-18 1h0m31 0h0m15 0h0m-18 1h0m0 0h0m-27 1h0m-19 1h0m14 0h0m26 0h0m7 0h0m17 0h0m-59 1h0m46 0h0m19 0h0m-64 1h0m31 0h0m-30 1h0m46 1h0m-29 1h0m-9 1h0m25 0h0m-20 1h0m50 0h0m-44 1h0m-11 1h0m7 0h0m-8 1h0m14 0h0m1 0h0m37 0h0m-33 1h0m13 0h0m11 0h0m-13 2h0m20 0h0m-6 1h0m3 1h0m-54 1h0m25 0h0m39 0h0m-66 1h0m49 1h0m-41 1h0m1 0h0m24 0h0m-38 1h0m4 1h0m3 0h0m52 0h0m-71 1h0m20 0h0m34 0h0m1 0h0m-3 1h0m13 2h0m-36 1h0m17 0h0m-28 4h0m69 0h0m-44 2h0m-15 6h0"/><path id="AbigU3" d="M96 58h0m-15 5h0m-11 1h0m5 0h0m41 0h0m-53 1h0m42 1h0m-21 1h0m-3 1h0m15 2h0m4 1h0m2 0h0m12 0h0m-9 2h0m-1 1h0m-28 1h0m6 0h0m23 1h0m5 0h0m12 0h0m-48 1h0m42 0h0m-30 1h0m-8 1h0m30 0h0m-10 1h0m3 0h0m6 0h0m-39 1h0m40 0h0m-21 1h0m-8 1h0m16 0h0m9 0h0m17 0h0m-26 1h0m28 1h0m-52 1h0m11 0h0m6 0h0m7 0h0m15 0h0m9 0h0m3 0h0m8 0h0m-51 1h0m3 0h0m15 0h0m8 0h0m22 0h0m-23 1h0m2 0h0m14 0h0m4 0h0m-48 1h0m22 0h0m2 0h0m-18 1h0m24 0h0m-17 2h0m5 0h0m-13 1h0m13 0h0m6 0h0m-26 1h0m14 1h0m5 0h0m15 0h0m-25 1h0m25 0h0m11 0h0m-28 1h0m35 0h0m-42 1h0m-19 1h0m38 0h0m8 2h0m25 0h0m-60 1h0m13 0h0m44 0h0m-58 1h0m8 1h0m38 0h0m-13 1h0m-20 1h0m11 0h0m32 0h0m-37 3h0m11 0h0m-46 1h0m53 0h0m-40 1h0m32 0h0m39 0h0m-31 3h0m-35 1h0m16 0h0m34 1h0m-29 2h0m23 2h0m-46 1h0m10 0h0m-12 3h0m5 0h0m-1 1h0m-12 6h0m46 1h0m-34 1h0m21 1h0"/><path id="AbigU4" d="M96 55h0m-1 1h0m-16 1h0m5 1h0m-10 4h0m1 1h0m40 0h0m3 1h0m-39 1h0m26 0h0m-13 1h0m6 0h0m17 2h0m-38 1h0m13 1h0m0 0h0m8 0h0m1 1h0m14 0h0m-38 1h0m29 0h0m8 0h0m1 0h0m1 0h0m-29 1h0m18 0h0m3 0h0m-15 1h0m19 0h0m-7 2h0m7 0h0m-22 1h0m33 0h0m-43 1h0m18 0h0m8 0h0m8 0h0m11 0h0m-29 1h0m7 1h0m5 0h0m-5 2h0m0 0h0m6 0h0m7 0h0m-7 2h0m-34 1h0m14 3h0m-1 1h0m3 0h0m27 0h0m-48 1h0m30 0h0m-15 1h0m28 0h0m-44 1h0m12 0h0m31 0h0m14 1h0m-37 1h0m-16 1h0m3 0h0m15 0h0m12 0h0m32 0h0m-59 1h0m18 1h0m16 0h0m21 0h0m-33 1h0m25 0h0m12 0h0m-48 1h0m6 0h0m38 0h0m-64 1h0m17 0h0m4 0h0m11 0h0m-24 1h0m30 0h0m14 0h0m-34 1h0m21 0h0m-30 1h0m1 0h0m-8 1h0m41 1h0m-22 1h0m47 0h0m4 2h0m-73 1h0m50 0h0m16 0h0m-40 1h0m43 0h0m9 1h0m-26 1h0m6 0h0m1 0h0m-30 2h0m12 1h0m-9 1h0m-13 1h0m28 3h0m-11 4h0m-38 1h0m27 5h0m-37 1h0"/><path id="AbigU5" d="M78 54h0m15 6h0m22 1h0m-27 1h0m15 0h0m8 0h0m-33 2h0m35 3h0m-19 2h0m-7 2h0m17 0h0m11 0h0m-19 1h0m-12 1h0m5 1h0m11 0h0m6 0h0m0 1h0m-13 1h0m3 0h0m18 0h0m-39 1h0m26 0h0m-23 1h0m9 1h0m12 0h0m6 0h0m-28 1h0m15 1h0m6 0h0m17 0h0m-14 1h0m2 0h0m8 0h0m-19 1h0m30 0h0m13 0h0m-47 1h0m42 0h0m-59 1h0m4 0h0m7 0h0m21 0h0m11 0h0m-15 1h0m-18 1h0m19 0h0m6 0h0m6 0h0m-16 1h0m-22 3h0m3 0h0m18 0h0m29 0h0m-16 2h0m-31 1h0m10 0h0m15 1h0m8 0h0m10 0h0m5 0h0m1 0h0m-37 1h0m20 0h0m11 0h0m-20 1h0m-19 1h0m22 0h0m21 1h0m-39 1h0m19 1h0m6 1h0m1 0h0m20 0h0m-59 1h0m65 0h0m2 1h0m-51 1h0m17 0h0m13 0h0m20 1h0m-56 1h0m14 1h0m-19 1h0m1 0h0m18 1h0m-6 1h0m-23 1h0m10 0h0m51 0h0m2 1h0m-26 1h0m9 0h0m6 0h0m-7 2h0m-37 3h0m31 0h0m-45 1h0m61 0h0m-46 2h0m5 1h0m0 12h0m-16 3h0"/><path id="AbigU6" d="M82 57h0m3 7h0m11 2h0m-21 2h0m1 0h0m5 0h0m7 0h0m20 0h0m-23 1h0m8 1h0m3 0h0m11 1h0m-6 1h0m-9 1h0m24 0h0m4 0h0m-27 1h0m-5 1h0m3 1h0m16 1h0m10 0h0m-39 1h0m14 1h0m4 0h0m4 0h0m2 0h0m25 1h0m-55 1h0m14 0h0m-16 1h0m20 0h0m1 1h0m15 0h0m-39 1h0m20 0h0m17 0h0m-4 1h0m-33 1h0m3 0h0m32 0h0m28 0h0m-55 1h0m0 0h0m11 0h0m34 0h0m-47 1h0m6 0h0m1 0h0m7 0h0m0 0h0m16 0h0m-25 2h0m20 0h0m32 1h0m-44 1h0m26 0h0m-21 1h0m36 0h0m-58 1h0m39 0h0m7 0h0m1 0h0m-39 1h0m29 0h0m-17 1h0m21 0h0m-22 1h0m21 0h0m2 0h0m14 0h0m-44 1h0m10 1h0m14 0h0m7 0h0m-46 1h0m4 1h0m21 0h0m16 0h0m14 0h0m-14 1h0m-28 1h0m7 0h0m1 0h0m7 0h0m-10 1h0m8 1h0m-18 2h0m60 0h0m-34 1h0m20 0h0m4 0h0m10 0h0m-74 1h0m50 0h0m-25 1h0m29 0h0m-50 1h0m25 0h0m-20 1h0m8 0h0m1 0h0m0 2h0m31 2h0m-6 1h0m-16 1h0m28 1h0m-46 3h0m-1 4h0m2 2h0"/><path id="AbigU7" d="M80 60h0m8 0h0m-11 1h0m4 0h0m14 1h0m21 3h0m-23 2h0m3 0h0m21 0h0m-21 2h0m24 0h0m-46 1h0m13 0h0m17 0h0m-10 2h0m4 0h0m8 0h0m-18 1h0m6 0h0m13 0h0m5 0h0m8 1h0m-46 1h0m2 0h0m12 0h0m3 0h0m4 0h0m-14 1h0m39 1h0m-17 1h0m14 0h0m-39 1h0m27 0h0m10 0h0m-46 1h0m17 0h0m12 0h0m1 0h0m7 1h0m3 0h0m-7 1h0m1 0h0m-15 1h0m-24 1h0m7 0h0m10 0h0m16 0h0m3 0h0m22 0h0m-45 1h0m10 0h0m20 0h0m16 0h0m-56 1h0m12 0h0m38 0h0m-34 1h0m8 1h0m26 0h0m8 1h0m-37 1h0m-23 2h0m2 0h0m48 0h0m7 0h0m-20 2h0m12 0h0m-45 2h0m6 0h0m9 0h0m31 0h0m-44 1h0m28 0h0m-40 1h0m28 1h0m16 0h0m-24 1h0m32 1h0m5 0h0m15 0h0m-70 2h0m65 0h0m-47 1h0m-8 1h0m2 0h0m6 0h0m19 0h0m1 0h0m22 0h0m0 1h0m17 1h0m-28 1h0m15 0h0m6 0h0m-25 1h0m-30 2h0m-14 3h0m-1 1h0m7 0h0m19 0h0m25 3h0m-47 1h0m61 0h0m-21 3h0m11 0h0m3 1h0m-37 2h0m16 0h0m-34 5h0m32 0h0m-42 1h0m40 2h0"/><path id="AbigU8" d="M103 56h0m-21 4h0m16 3h0m-11 1h0m17 0h0m-15 3h0m27 0h0m-14 1h0m-31 2h0m32 0h0m-24 2h0m0 1h0m-4 2h0m33 0h0m-9 1h0m20 1h0m-23 1h0m3 0h0m-22 1h0m38 0h0m4 0h0m0 1h0m4 0h0m-45 1h0m5 0h0m16 1h0m4 0h0m-29 1h0m20 0h0m24 0h0m-47 1h0m39 0h0m1 0h0m1 0h0m1 0h0m6 0h0m-44 1h0m1 0h0m16 0h0m-18 2h0m11 0h0m31 0h0m-38 1h0m3 0h0m-17 1h0m6 0h0m24 0h0m37 0h0m-4 1h0m-56 1h0m-1 1h0m13 0h0m49 0h0m-46 1h0m1 0h0m4 0h0m14 0h0m14 0h0m7 0h0m-7 1h0m11 0h0m5 0h0m-54 1h0m1 0h0m43 0h0m-29 1h0m-17 1h0m21 0h0m34 0h0m-26 1h0m-6 1h0m18 0h0m-45 1h0m2 0h0m30 0h0m-34 1h0m57 2h0m3 0h0m-44 1h0m6 0h0m0 0h0m39 0h0m-29 1h0m8 0h0m-24 1h0m17 0h0m16 1h0m-65 3h0m20 1h0m50 0h0m10 1h0m-18 1h0m13 1h0m-39 1h0m35 0h0m4 0h0m-12 1h0m-44 1h0m53 0h0m-14 1h0m-17 2h0m-17 1h0m61 0h0m-50 3h0m40 1h0m-60 6h0m36 2h0"/><path id="AbigU9" d="M93 54h0m-9 3h0m19 0h0m8 1h0m4 5h0m-35 1h0m6 0h0m8 1h0m16 1h0m-21 2h0m11 1h0m-3 1h0m11 0h0m-22 3h0m-16 1h0m14 0h0m10 0h0m5 0h0m15 0h0m1 0h0m0 0h0m-48 2h0m55 0h0m-48 1h0m12 0h0m3 0h0m19 0h0m16 0h0m-42 3h0m29 1h0m6 0h0m1 0h0m1 0h0m-44 1h0m-11 1h0m40 0h0m23 0h0m-59 1h0m25 1h0m1 0h0m-7 1h0m15 1h0m19 2h0m-56 1h0m9 0h0m29 0h0m17 0h0m6 0h0m-65 1h0m41 1h0m3 0h0m-23 2h0m1 0h0m49 0h0m-33 1h0m-25 1h0m25 0h0m10 0h0m14 0h0m-46 1h0m28 0h0m-31 1h0m17 1h0m46 0h0m-77 1h0m30 0h0m-26 1h0m2 0h0m13 0h0m1 1h0m20 1h0m28 0h0m2 0h0m-42 1h0m-4 2h0m6 0h0m48 0h0m-30 1h0m-40 1h0m31 0h0m-22 1h0m24 1h0m12 3h0m-2 1h0m4 1h0m-45 1h0m-1 1h0m-3 3h0m19 4h0m-11 5h0m20 0h0"/><path id="AbigU10" d="M106 55h0m6 7h0m-29 2h0m5 0h0m15 2h0m-6 1h0m15 0h0m-25 1h0m-7 1h0m6 0h0m23 0h0m-29 1h0m14 0h0m7 1h0m6 0h0m-22 1h0m4 0h0m3 0h0m13 0h0m3 0h0m12 0h0m-3 1h0m-52 1h0m17 0h0m15 0h0m14 0h0m5 0h0m-43 1h0m6 1h0m31 1h0m-37 1h0m46 0h0m-39 1h0m42 0h0m-52 1h0m1 0h0m46 0h0m-33 1h0m13 0h0m14 0h0m-33 1h0m21 0h0m6 0h0m12 0h0m2 0h0m-55 1h0m14 0h0m14 0h0m5 0h0m7 0h0m-30 1h0m40 0h0m15 0h0m-54 1h0m12 0h0m2 0h0m15 0h0m3 0h0m4 0h0m-12 1h0m26 0h0m-11 1h0m-37 1h0m6 0h0m3 0h0m1 0h0m-22 2h0m18 0h0m46 0h0m-21 1h0m-40 2h0m59 0h0m-24 1h0m4 0h0m6 0h0m19 0h0m-27 1h0m18 0h0m10 0h0m-54 1h0m-6 1h0m62 0h0m-24 1h0m20 0h0m-45 1h0m17 0h0m15 0h0m11 0h0m-40 2h0m-16 1h0m12 0h0m3 0h0m28 1h0m14 0h0m-34 1h0m31 0h0m-47 1h0m16 0h0m8 0h0m-20 1h0m46 0h0m-64 2h0m30 0h0m0 0h0m-9 1h0m-4 1h0m30 0h0m-17 2h0m2 0h0m13 0h0m-1 1h0m21 0h0m-20 1h0m-17 2h0m6 7h0m-39 3h0"/><path id="AbigU11" d="M103 57h0m5 6h0m-35 1h0m22 1h0m15 0h0m-20 1h0m19 0h0m-5 3h0m-17 1h0m-15 1h0m25 0h0m15 0h0m-26 1h0m29 0h0m-23 3h0m16 0h0m1 1h0m-45 1h0m9 0h0m12 0h0m-4 1h0m2 0h0m16 0h0m12 0h0m-8 1h0m-8 1h0m21 0h0m-44 1h0m1 0h0m2 0h0m4 0h0m36 0h0m5 0h0m-17 1h0m10 1h0m18 0h0m-58 1h0m26 0h0m9 1h0m-17 1h0m4 0h0m-11 1h0m0 1h0m8 0h0m5 0h0m2 0h0m11 0h0m-21 1h0m1 0h0m6 0h0m13 0h0m-34 1h0m22 0h0m-26 1h0m32 0h0m12 0h0m-36 1h0m2 1h0m7 0h0m43 0h0m-59 1h0m7 0h0m-9 1h0m26 0h0m-32 1h0m8 0h0m28 0h0m25 0h0m-58 1h0m5 0h0m16 0h0m4 0h0m51 0h0m-69 1h0m13 0h0m-17 1h0m44 0h0m-34 1h0m15 0h0m0 0h0m10 0h0m2 0h0m4 0h0m25 0h0m-42 1h0m11 0h0m7 1h0m-3 1h0m12 1h0m0 0h0m-26 1h0m36 1h0m-54 1h0m2 0h0m62 1h0m-30 1h0m-30 3h0m-18 1h0m16 1h0m50 1h0m3 0h0m-21 1h0m-23 3h0m38 2h0m-55 2h0m49 1h0m-57 5h0m28 0h0m-35 6h0"/></g><g id="AtopL"><path id="AtopL0" d="M169 14h0m-23 1h0m7 1h0m15 3h0m-20 2h0m8 0h0m9 0h0m-24 1h0m11 0h0m17 1h0m-32 3h0m13 2h0m-17 1h0m2 1h0m-3 1h0m0 0h0m16 1h0m14 0h0m-24 1h0m-4 2h0m3 1h0m5 1h0m8 0h0m-17 4h0m14 0h0m2 0h0m-22 4h0m11 1h0m-9 1h0m6 0h0m7 0h0m-7 1h0m8 0h0m-13 3h0m8 0h0m-4 1h0m4 0h0"/><path id="AtopL1" d="M170 8h0m-6 6h0m2 0h0m-11 1h0m10 5h0m-33 1h0m11 0h0m2 0h0m2 0h0m15 0h0m-15 2h0m13 0h0m-18 1h0m4 0h0m-10 2h0m8 0h0m-1 1h0m4 0h0m23 0h0m-25 1h0m5 0h0m-15 1h0m35 0h0m-21 1h0m22 0h0m-5 2h0m-32 1h0m11 0h0m-7 3h0m14 1h0m-23 1h0m0 0h0m1 0h0m1 0h0m20 0h0m-31 1h0m19 0h0m10 0h0m2 0h0m-21 1h0m12 0h0m-3 1h0m-4 1h0m9 0h0m-24 1h0m13 1h0m4 0h0m2 1h0m2 1h0m-2 1h0m8 0h0m-22 1h0m11 2h0m1 0h0m-6 1h0m13 5h0m-7 1h0"/><path id="AtopL2" d="M169 10h0m-20 3h0m4 0h0m9 0h0m0 0h0m-6 1h0m3 0h0m-8 1h0m19 1h0m-28 2h0m-1 1h0m18 2h0m-15 2h0m26 0h0m-19 1h0m15 0h0m1 0h0m-18 1h0m6 0h0m-17 1h0m8 1h0m21 0h0m2 0h0m-35 1h0m24 0h0m-17 1h0m-6 1h0m26 0h0m-32 1h0m26 0h0m8 0h0m-34 2h0m2 0h0m19 0h0m-9 1h0m14 2h0m-9 1h0m-27 1h0m27 0h0m-13 1h0m-7 1h0m21 1h0m-13 1h0m-1 1h0m9 0h0m0 0h0m-6 1h0m0 3h0m-15 1h0m-1 1h0m5 0h0m6 1h0m-9 2h0m8 2h0m11 2h0"/><path id="AtopL3" d="M170 7h0m0 3h0m-9 3h0m-4 3h0m-17 2h0m19 1h0m-4 1h0m8 0h0m9 3h0m-38 4h0m-2 1h0m18 0h0m-4 1h0m6 0h0m-3 1h0m17 0h0m-36 1h0m12 0h0m-10 2h0m11 0h0m2 0h0m-8 1h0m-6 1h0m12 3h0m-22 3h0m19 0h0m-2 1h0m5 0h0m-11 1h0m7 0h0m4 2h0m-13 2h0m10 2h0m-16 1h0m12 1h0m-5 6h0"/><path id="AtopL4" d="M171 11h0m-20 1h0m-2 1h0m4 0h0m-10 6h0m9 0h0m1 1h0m-18 4h0m2 0h0m3 1h0m1 0h0m27 0h0m-16 1h0m-10 1h0m5 1h0m5 0h0m-15 1h0m34 0h0m-24 1h0m-15 1h0m2 0h0m8 1h0m20 0h0m1 1h0m-32 1h0m14 0h0m-13 2h0m-1 2h0m5 1h0m-11 1h0m4 0h0m14 0h0m-16 3h0m4 0h0m14 1h0m-21 1h0m13 2h0m2 3h0m-7 1h0m-4 2h0m8 4h0m-3 3h0"/><path id="AtopL5" d="M163 10h0m-3 1h0m0 3h0m7 1h0m-14 1h0m-11 1h0m30 0h0m-27 1h0m15 0h0m1 1h0m6 0h0m-12 1h0m15 1h0m1 1h0m-8 2h0m-11 1h0m10 1h0m6 2h0m-28 1h0m31 0h0m-42 1h0m27 3h0m-12 1h0m-6 1h0m13 0h0m-22 1h0m-2 1h0m5 0h0m13 1h0m5 0h0m1 1h0m-14 1h0m0 0h0m15 1h0m1 0h0m-11 1h0m3 2h0m1 1h0m-5 1h0m5 0h0m-9 1h0m7 5h0m-20 4h0"/><path id="AtopL6" d="M158 11h0m3 0h0m8 1h0m-8 5h0m-18 5h0m21 1h0m-23 1h0m19 0h0m10 0h0m-32 1h0m18 1h0m-23 2h0m24 1h0m9 0h0m4 0h0m-25 1h0m-3 3h0m10 0h0m-5 1h0m-20 1h0m0 2h0m6 1h0m2 1h0m8 1h0m-21 1h0m9 0h0m13 0h0m-13 1h0m3 1h0m1 0h0m-10 3h0m18 3h0m-21 2h0m22 0h0m-13 2h0m-2 1h0m9 0h0m1 0h0"/><path id="AtopL7" d="M151 10h0m6 0h0m-4 2h0m16 0h0m-9 2h0m2 3h0m-9 1h0m17 0h0m-13 1h0m8 2h0m5 1h0m-28 1h0m7 0h0m-16 2h0m6 0h0m12 1h0m1 0h0m-15 1h0m3 1h0m20 1h0m-30 1h0m22 2h0m-24 1h0m5 1h0m5 0h0m5 0h0m-12 1h0m1 0h0m5 1h0m5 0h0m9 2h0m-16 1h0m7 0h0m-8 2h0m-2 1h0m3 0h0m2 0h0m1 0h0m4 1h0m2 0h0m-10 1h0m2 0h0m6 0h0m-19 1h0m22 0h0m-8 6h0m-17 1h0m10 0h0m7 3h0m4 5h0"/><path id="AtopL8" d="M157 11h0m7 0h0m3 1h0m-2 2h0m-12 2h0m16 0h0m-19 4h0m12 1h0m-11 2h0m-9 1h0m6 2h0m2 0h0m21 0h0m-27 2h0m4 0h0m13 0h0m-10 1h0m16 0h0m-5 1h0m-18 1h0m13 0h0m-24 1h0m2 0h0m14 0h0m19 0h0m-41 1h0m38 0h0m-14 1h0m-18 1h0m0 2h0m2 0h0m9 0h0m-17 1h0m14 1h0m-14 1h0m3 0h0m4 0h0m6 0h0m4 0h0m-7 2h0m-3 2h0m6 1h0m0 1h0m-5 1h0m-2 1h0m6 7h0"/><path id="AtopL9" d="M168 7h0m-23 5h0m11 0h0m0 2h0m-8 2h0m12 2h0m10 1h0m-15 1h0m3 0h0m-6 3h0m-14 2h0m1 0h0m25 0h0m-22 1h0m4 1h0m1 1h0m3 1h0m-9 1h0m10 1h0m-13 1h0m10 2h0m4 0h0m3 0h0m-14 1h0m7 0h0m5 0h0m-5 2h0m3 0h0m-25 1h0m2 0h0m18 0h0m-7 1h0m1 0h0m-4 1h0m-9 1h0m5 1h0m13 0h0m-12 1h0m1 0h0m5 1h0m-6 1h0m3 1h0"/><path id="AtopL10" d="M167 7h0m-3 4h0m1 0h0m4 0h0m-6 1h0m-2 3h0m-1 3h0m3 0h0m-5 1h0m-12 1h0m3 0h0m-5 1h0m-2 2h0m6 0h0m17 0h0m-17 1h0m11 0h0m5 4h0m3 0h0m-20 1h0m5 0h0m-2 2h0m-23 1h0m17 0h0m1 1h0m-7 2h0m4 1h0m-5 1h0m14 0h0m-16 1h0m9 0h0m-16 1h0m-2 1h0m12 2h0m1 0h0m-14 1h0m23 0h0m-14 3h0m-8 1h0m2 0h0m-1 2h0m14 1h0m-9 1h0m-3 1h0m-6 4h0"/><path id="AtopL11" d="M151 8h0m16 0h0m-11 5h0m15 2h0m-20 2h0m20 0h0m-15 4h0m8 1h0m0 2h0m-12 1h0m3 0h0m-25 1h0m40 1h0m-22 1h0m7 0h0m5 0h0m-9 1h0m4 0h0m15 1h0m-12 1h0m-8 1h0m13 0h0m-31 1h0m15 0h0m5 0h0m-23 3h0m14 2h0m-17 1h0m9 0h0m5 2h0m2 2h0m-17 3h0m11 2h0m5 0h0m2 0h0m-8 1h0m7 0h0m1 2h0m-19 1h0m3 2h0"/></g><g id="AtopR"><path id="AtopR0" d="M179 7h0m11 1h0m1 0h0m3 3h0m-2 3h0m0 1h0m4 4h0m9 3h0m-9 1h0m2 0h0m7 0h0m-4 1h0m-7 1h0m16 0h0m3 3h0m-28 1h0m11 0h0m17 0h0m-29 1h0m25 0h0m16 0h0m-9 2h0m-20 1h0m2 0h0m23 0h0m-1 1h0m-42 2h0m8 1h0m23 0h0m-7 1h0m18 0h0m-19 1h0m10 0h0m-14 1h0m-11 1h0m28 1h0m-5 4h0m-4 1h0m2 0h0m-15 4h0m12 1h0m4 1h0m6 2h0m-7 2h0"/><path id="AtopR1" d="M187 5h0m-8 2h0m1 0h0m10 0h0m-7 1h0m1 2h0m-12 1h0m15 1h0m-15 1h0m14 0h0m10 0h0m-11 3h0m11 1h0m-2 1h0m8 0h0m-14 1h0m1 0h0m2 0h0m18 0h0m-30 2h0m7 0h0m13 0h0m3 0h0m-7 1h0m4 0h0m6 0h0m0 0h0m-23 1h0m-8 1h0m28 1h0m1 0h0m2 0h0m0 0h0m-24 1h0m26 0h0m-20 1h0m8 0h0m6 0h0m-1 1h0m5 0h0m-12 1h0m6 0h0m8 0h0m-15 1h0m12 0h0m-6 1h0m12 0h0m-12 1h0m-9 1h0m3 0h0m7 1h0m6 1h0m1 0h0m-3 1h0m-2 1h0m9 0h0m-24 1h0m19 1h0m13 1h0m4 0h0m-30 1h0m13 2h0m5 2h0m-15 1h0m8 0h0m5 0h0m5 0h0m14 0h0m-17 1h0m-3 1h0m15 0h0m4 2h0m-23 1h0m6 1h0m5 0h0m-8 1h0m1 3h0m10 3h0"/><path id="AtopR2" d="M177 7h0m-3 2h0m6 0h0m-3 3h0m26 0h0m-21 2h0m18 0h0m-15 2h0m18 0h0m-20 1h0m19 1h0m-23 1h0m14 0h0m12 0h0m-15 1h0m20 0h0m-20 1h0m24 0h0m-26 1h0m14 0h0m-3 1h0m-11 1h0m3 0h0m8 0h0m6 0h0m-27 1h0m3 0h0m19 1h0m-15 1h0m17 0h0m1 1h0m-24 1h0m12 0h0m21 0h0m-21 1h0m16 0h0m-6 1h0m-8 1h0m7 0h0m-15 3h0m25 0h0m-29 1h0m17 0h0m26 0h0m-10 1h0m7 0h0m-19 2h0m0 1h0m15 6h0m3 1h0m-16 1h0m-8 1h0m15 1h0m-19 2h0m20 1h0m-6 1h0m2 0h0m12 0h0m-1 3h0m7 0h0m-21 3h0"/><path id="AtopR3" d="M174 6h0m9 0h0m6 0h0m-5 1h0m-8 1h0m10 5h0m14 0h0m-16 2h0m6 0h0m-13 1h0m-1 1h0m-4 1h0m38 0h0m-14 1h0m-21 1h0m31 1h0m4 0h0m-18 1h0m5 0h0m0 1h0m-13 1h0m10 1h0m13 0h0m-26 1h0m9 0h0m27 0h0m-10 1h0m12 1h0m-7 1h0m-30 1h0m8 0h0m5 0h0m0 2h0m10 0h0m2 2h0m-7 1h0m9 1h0m-11 2h0m4 0h0m4 2h0m3 0h0m-5 1h0m-1 1h0m8 1h0m13 0h0m-33 1h0m36 0h0m-38 1h0m-1 1h0m24 0h0m9 0h0m-12 1h0m6 1h0m-13 2h0m8 1h0m-3 2h0m15 0h0m-6 2h0m-10 1h0m10 1h0"/><path id="AtopR4" d="M173 9h0m26 4h0m-6 1h0m1 2h0m-14 1h0m20 3h0m5 0h0m-20 1h0m3 1h0m4 0h0m-1 1h0m-8 1h0m-8 1h0m17 0h0m2 0h0m-15 1h0m22 0h0m-18 1h0m8 0h0m22 0h0m-27 1h0m22 0h0m-32 1h0m33 0h0m1 0h0m-7 1h0m5 0h0m-13 1h0m9 1h0m18 0h0m-19 2h0m-22 3h0m21 0h0m3 0h0m-6 1h0m2 0h0m6 0h0m-6 1h0m6 0h0m-16 2h0m20 1h0m4 1h0m4 3h0m-9 1h0m-5 1h0m-1 2h0m9 0h0m-7 2h0m10 1h0"/><path id="AtopR5" d="M183 6h0m-6 2h0m10 0h0m2 0h0m-4 3h0m7 1h0m8 2h0m1 1h0m-9 2h0m5 0h0m8 1h0m-6 1h0m-2 1h0m-4 1h0m-16 1h0m10 0h0m10 0h0m3 2h0m10 0h0m1 0h0m-29 2h0m27 0h0m3 0h0m0 0h0m-18 1h0m10 0h0m0 1h0m7 0h0m-8 2h0m-22 1h0m5 0h0m8 0h0m15 0h0m-3 1h0m1 0h0m3 0h0m-13 1h0m11 0h0m2 0h0m8 0h0m-24 2h0m1 0h0m9 0h0m5 4h0m3 0h0m6 2h0m-25 2h0m9 1h0m-10 1h0m22 0h0m9 1h0m-6 2h0m-24 1h0m12 0h0m-2 2h0m13 0h0m12 1h0m-20 4h0m13 0h0m-9 2h0m-5 1h0m10 0h0"/><path id="AtopR6" d="M176 9h0m22 2h0m-4 1h0m-21 1h0m13 0h0m19 1h0m-24 1h0m11 0h0m-15 1h0m8 0h0m4 0h0m2 1h0m1 1h0m11 1h0m-21 1h0m14 0h0m3 1h0m-20 1h0m12 0h0m9 0h0m4 0h0m-6 1h0m15 0h0m-29 1h0m6 0h0m13 0h0m3 0h0m9 0h0m-6 1h0m4 1h0m-8 2h0m-10 2h0m10 0h0m13 0h0m-33 1h0m29 0h0m3 0h0m-20 1h0m5 0h0m-7 1h0m9 0h0m-24 2h0m27 0h0m5 2h0m1 0h0m9 0h0m-28 2h0m19 0h0m-3 1h0m-4 3h0m14 0h0m2 0h0m-5 1h0m9 0h0m-16 1h0m-5 1h0m3 2h0m-1 2h0m-7 2h0m23 0h0"/><path id="AtopR7" d="M185 7h0m8 4h0m3 1h0m-1 1h0m-11 1h0m-4 1h0m20 0h0m-25 1h0m28 0h0m-27 3h0m8 1h0m-10 1h0m37 0h0m-35 2h0m16 0h0m3 1h0m6 0h0m20 0h0m-43 1h0m26 0h0m-32 2h0m46 0h0m-23 1h0m3 0h0m-10 2h0m9 0h0m17 0h0m-25 1h0m11 0h0m-19 1h0m14 0h0m7 0h0m-9 1h0m14 0h0m3 0h0m2 0h0m3 0h0m-24 1h0m4 0h0m21 1h0m0 5h0m-13 1h0m19 1h0m-22 2h0m4 0h0m-2 1h0m9 2h0m-7 1h0m1 0h0m13 0h0m-7 1h0m-20 2h0m18 0h0m3 4h0m-14 1h0m12 0h0m4 1h0"/><path id="AtopR8" d="M186 11h0m1 0h0m5 0h0m3 3h0m1 0h0m13 3h0m-30 1h0m27 0h0m-31 1h0m29 0h0m-4 1h0m-24 1h0m11 0h0m6 0h0m13 1h0m6 0h0m-29 1h0m27 2h0m-30 2h0m11 0h0m22 0h0m-27 1h0m19 1h0m12 0h0m-32 1h0m22 0h0m-9 1h0m12 0h0m-18 1h0m7 0h0m19 0h0m-22 1h0m26 0h0m-10 1h0m1 0h0m-24 1h0m18 0h0m-22 2h0m8 1h0m5 0h0m5 2h0m2 0h0m0 1h0m-1 1h0m4 0h0m5 0h0m1 0h0m4 1h0m-8 1h0m-12 1h0m17 0h0m8 0h0m-39 2h0m25 0h0m2 1h0m9 0h0m-24 1h0m20 0h0m-4 1h0m8 0h0m-4 5h0"/><path id="AtopR9" d="M176 11h0m14 5h0m-14 2h0m19 0h0m11 2h0m-26 4h0m15 1h0m-8 1h0m2 0h0m1 0h0m-2 1h0m12 0h0m8 0h0m5 2h0m-26 1h0m9 0h0m3 0h0m-8 1h0m8 0h0m2 0h0m5 0h0m13 0h0m2 0h0m-12 1h0m3 0h0m-5 1h0m4 0h0m-10 1h0m3 0h0m5 0h0m-13 1h0m6 0h0m-8 1h0m21 0h0m4 0h0m-23 1h0m0 0h0m-6 1h0m34 1h0m-15 1h0m-7 1h0m2 2h0m2 0h0m4 0h0m16 1h0m-43 2h0m27 0h0m11 2h0m-3 1h0m-4 1h0m4 0h0m1 6h0"/><path id="AtopR10" d="M174 10h0m2 0h0m5 0h0m9 0h0m1 0h0m4 2h0m4 0h0m-10 2h0m9 0h0m-13 6h0m2 1h0m8 0h0m17 0h0m-19 1h0m20 0h0m2 0h0m-36 1h0m1 0h0m11 0h0m26 1h0m-41 1h0m40 2h0m-16 1h0m2 2h0m8 1h0m-13 1h0m2 0h0m-12 1h0m18 0h0m-19 1h0m25 0h0m-16 1h0m2 0h0m15 0h0m-3 4h0m-9 1h0m6 3h0m4 0h0m4 0h0m-14 1h0m6 1h0m8 0h0m-20 1h0m13 1h0m-2 1h0m12 2h0m0 6h0m9 2h0"/><path id="AtopR11" d="M177 8h0m11 1h0m6 2h0m-14 1h0m5 2h0m9 2h0m-12 2h0m14 0h0m4 0h0m3 0h0m-19 2h0m-6 2h0m10 0h0m18 0h0m-30 1h0m21 0h0m7 0h0m-15 1h0m1 0h0m-7 1h0m5 0h0m15 1h0m-10 1h0m2 0h0m4 0h0m4 0h0m0 0h0m-25 2h0m11 1h0m30 1h0m1 0h0m-34 2h0m7 0h0m-12 1h0m5 0h0m23 0h0m-30 2h0m18 0h0m24 1h0m-37 1h0m19 0h0m11 0h0m4 0h0m-9 1h0m7 0h0m1 0h0m-8 1h0m-1 1h0m-3 1h0m9 0h0m-22 4h0m5 0h0m21 1h0m-25 2h0m10 4h0m5 1h0m-4 1h0"/></g><g id="Amid"><path id="Amid0" d="M221 66h0m-10 7h0m-4 1h0m17 0h0m15 2h0m-29 1h0m26 1h0m-20 2h0m8 0h0m14 4h0m4 3h0m-20 1h0m23 0h0m-29 2h0m32 0h0m-9 1h0m-31 1h0m11 1h0m1 0h0m23 0h0m-18 1h0m12 0h0m6 0h0m-29 2h0m6 1h0m-3 1h0m27 1h0m1 1h0m-17 1h0m-12 4h0m34 2h0m-16 1h0m3 1h0m15 0h0m-4 1h0m-23 4h0m16 0h0m1 2h0"/><path id="Amid1" d="M222 66h0m5 5h0m-7 2h0m1 3h0m3 1h0m6 3h0m2 1h0m1 2h0m-21 1h0m25 0h0m-22 2h0m1 0h0m20 0h0m-30 1h0m31 1h0m5 0h0m-13 1h0m-1 1h0m1 0h0m-18 1h0m36 0h0m8 1h0m-22 1h0m-11 1h0m5 1h0m-13 1h0m6 2h0m21 2h0m-16 2h0m25 2h0m-3 1h0m3 0h0m-7 1h0m-15 2h0m5 1h0m-8 1h0m-2 1h0m3 2h0m15 1h0m2 4h0"/><path id="Amid2" d="M215 69h0m1 2h0m8 1h0m5 0h0m6 2h0m-17 1h0m8 0h0m-5 1h0m6 0h0m4 1h0m10 1h0m4 3h0m-30 1h0m5 0h0m14 1h0m-16 1h0m26 2h0m1 0h0m-26 1h0m22 0h0m-29 1h0m2 0h0m19 0h0m11 0h0m-28 2h0m4 1h0m14 0h0m-4 1h0m11 0h0m-6 1h0m2 0h0m-19 2h0m33 0h0m-39 1h0m18 0h0m6 0h0m3 0h0m-22 1h0m2 0h0m7 1h0m8 3h0m10 1h0m-24 1h0m7 1h0m21 0h0m-15 1h0m-16 2h0m4 2h0m5 1h0m14 0h0m-14 3h0m4 0h0m12 4h0m-4 3h0"/><path id="Amid3" d="M218 69h0m17 2h0m-16 2h0m2 1h0m3 1h0m12 4h0m-26 1h0m28 0h0m-23 1h0m4 0h0m11 0h0m4 0h0m-24 2h0m4 0h0m22 1h0m9 0h0m-34 1h0m22 1h0m9 0h0m-23 1h0m19 0h0m9 0h0m4 0h0m-25 2h0m3 0h0m-5 3h0m5 0h0m13 1h0m-13 2h0m6 0h0m-20 1h0m18 0h0m10 0h0m-23 1h0m18 0h0m-16 1h0m28 0h0m-21 2h0m-10 1h0m30 0h0m-33 1h0m16 0h0m-4 2h0m4 2h0m-6 1h0m4 0h0m-2 1h0m7 0h0m13 0h0m-6 1h0m-7 3h0m11 0h0m-20 2h0m26 0h0"/><path id="Amid4" d="M221 67h0m-8 7h0m6 0h0m2 1h0m14 0h0m-22 8h0m-3 3h0m24 2h0m4 0h0m-25 1h0m11 1h0m8 1h0m13 2h0m1 1h0m-4 1h0m-11 1h0m-21 1h0m16 0h0m7 0h0m10 3h0m1 1h0m-28 1h0m7 2h0m5 0h0m-8 2h0m7 0h0m13 0h0m1 0h0m0 1h0m2 1h0m-19 1h0m22 0h0m0 1h0m-3 4h0m3 1h0"/><path id="Amid5" d="M216 67h0m5 4h0m-1 1h0m10 0h0m-5 1h0m-2 3h0m-14 1h0m15 1h0m-11 2h0m6 1h0m21 0h0m-23 1h0m18 2h0m-4 1h0m2 0h0m-7 1h0m11 0h0m10 2h0m-39 3h0m8 0h0m22 3h0m-5 1h0m7 1h0m-25 1h0m26 0h0m-21 2h0m-3 1h0m1 3h0m11 0h0m4 0h0m8 0h0m-22 1h0m27 1h0m-13 1h0m-11 1h0m-1 2h0m8 5h0m12 1h0m-17 2h0m16 0h0"/><path id="Amid6" d="M219 67h0m-2 4h0m-5 2h0m4 0h0m3 0h0m2 0h0m-7 1h0m11 0h0m7 0h0m-2 3h0m-6 1h0m10 4h0m9 0h0m-12 4h0m11 0h0m-8 2h0m0 1h0m-11 1h0m25 0h0m-33 2h0m15 1h0m6 2h0m7 0h0m-27 1h0m22 2h0m7 0h0m-31 1h0m35 0h0m0 0h0m-20 5h0m11 1h0m0 0h0m7 1h0m-19 1h0m21 0h0m-8 1h0m4 0h0m-1 1h0m2 0h0"/><path id="Amid7" d="M217 70h0m-1 1h0m11 2h0m-16 4h0m16 0h0m-7 4h0m10 0h0m-7 1h0m13 0h0m-21 1h0m7 0h0m7 0h0m-4 1h0m7 0h0m-3 2h0m-12 2h0m0 0h0m-9 1h0m3 0h0m29 0h0m-33 2h0m6 2h0m11 0h0m-4 1h0m25 0h0m2 0h0m-35 1h0m7 1h0m18 7h0m5 3h0m-7 1h0m5 3h0m-12 1h0m0 0h0m6 1h0m2 0h0m-6 2h0m1 3h0m10 0h0m3 0h0"/><path id="Amid8" d="M209 67h0m28 2h0m-21 3h0m1 0h0m-6 2h0m21 1h0m3 1h0m-19 2h0m4 2h0m4 0h0m0 0h0m1 2h0m3 0h0m3 1h0m14 0h0m-8 2h0m-18 1h0m13 0h0m12 1h0m-35 2h0m22 4h0m1 4h0m-19 1h0m21 0h0m6 1h0m14 0h0m-29 1h0m15 0h0m-27 1h0m36 3h0m-8 1h0m0 0h0m1 3h0m-14 1h0m18 0h0m-17 1h0m5 0h0m13 0h0m-14 1h0m-6 1h0m19 0h0m-14 1h0m-3 3h0m17 0h0"/><path id="Amid9" d="M218 74h0m10 2h0m16 3h0m-31 3h0m2 3h0m21 1h0m-29 2h0m25 0h0m-19 2h0m9 0h0m18 0h0m1 0h0m-6 3h0m0 1h0m12 0h0m-23 1h0m10 0h0m-15 1h0m5 0h0m-7 1h0m17 0h0m7 0h0m5 0h0m-5 2h0m-5 4h0m14 1h0m-26 1h0m-5 1h0m9 0h0m1 0h0m1 0h0m17 1h0m-15 1h0m-3 2h0m19 1h0m-12 4h0"/><path id="Amid10" d="M213 70h0m11 0h0m2 3h0m-16 2h0m22 0h0m-24 1h0m7 1h0m12 0h0m-8 4h0m6 0h0m-16 2h0m28 1h0m-10 1h0m1 0h0m3 3h0m13 1h0m2 1h0m-8 1h0m-14 3h0m18 0h0m-15 1h0m-19 5h0m23 1h0m-7 1h0m9 2h0m-1 6h0m11 2h0m-7 7h0"/><path id="Amid11" d="M218 72h0m10 2h0m-6 1h0m-12 1h0m7 0h0m22 0h0m3 7h0m-8 1h0m-10 2h0m-6 1h0m14 0h0m-13 3h0m3 1h0m-11 1h0m4 0h0m-2 1h0m3 3h0m23 3h0m5 1h0m-1 2h0m-10 2h0m2 0h0m-16 2h0m18 1h0m-4 1h0m-3 1h0m22 0h0m-19 1h0m13 0h0m-14 1h0m-8 2h0m12 0h0"/></g><g id="Aright"><path id="Aright0" d="M283 88h0m-3 2h0m4 1h0m-1 3h0m14 0h0m16 1h0m9 0h0m5 1h0m-13 2h0m-42 1h0m33 1h0m20 0h0m0 1h0m-55 1h0m11 0h0m9 0h0m19 1h0m13 0h0m1 0h0m-23 2h0m-5 3h0m36 2h0m-68 1h0m17 1h0m-22 1h0m11 0h0m36 1h0m5 2h0m-42 1h0m2 0h0m24 0h0m26 0h0m-54 1h0m12 0h0m15 0h0m5 0h0m-24 1h0m9 1h0m15 0h0m2 0h0m21 0h0m1 0h0m11 1h0m2 0h0m-41 2h0m22 0h0m-30 5h0m4 1h0m31 0h0m-25 1h0m1 0h0m11 0h0m-52 1h0m43 0h0m-42 1h0m34 0h0m-33 1h0m69 0h0m1 0h0m-10 2h0m-59 1h0m9 3h0m21 0h0m31 0h0m-48 3h0m10 0h0m3 0h0m7 1h0m25 2h0m-51 4h0m31 0h0m9 0h0m14 1h0m-28 1h0m-2 3h0m-5 1h0m9 1h0m1 4h0"/><path id="Aright1" d="M302 88h0m-7 2h0m-6 2h0m-8 1h0m29 1h0m1 1h0m-38 1h0m24 0h0m1 0h0m-38 1h0m33 1h0m9 1h0m-32 1h0m2 0h0m0 1h0m31 0h0m-26 1h0m22 0h0m13 0h0m4 0h0m-5 1h0m-32 2h0m43 0h0m-22 1h0m21 0h0m-51 1h0m-1 1h0m-4 1h0m4 0h0m-1 1h0m55 1h0m-60 2h0m14 0h0m11 0h0m2 0h0m21 0h0m-48 1h0m0 1h0m30 0h0m2 0h0m-15 1h0m-23 1h0m81 0h0m-72 1h0m21 0h0m32 1h0m10 0h0m-66 2h0m49 0h0m-22 1h0m-30 1h0m58 1h0m-37 1h0m26 0h0m-38 1h0m26 0h0m-23 1h0m3 0h0m29 0h0m-21 1h0m35 0h0m15 0h0m-65 1h0m20 0h0m3 1h0m16 0h0m20 1h0m3 0h0m-52 1h0m24 0h0m3 0h0m4 1h0m-33 2h0m18 1h0m8 0h0m12 1h0m-1 1h0m-4 1h0m19 0h0m-51 1h0m1 0h0m38 0h0m18 0h0m-68 1h0m-3 1h0m54 0h0m12 0h0m-14 1h0m-9 1h0m-20 2h0m15 1h0m24 1h0m-44 1h0m6 1h0m34 0h0m-41 3h0m28 0h0m0 1h0m4 0h0m-25 1h0m19 0h0m-2 2h0"/><path id="Aright2" d="M313 85h0m-24 10h0m8 0h0m-16 1h0m32 0h0m-2 1h0m-7 1h0m-11 1h0m21 0h0m-27 1h0m31 0h0m-26 1h0m8 0h0m25 0h0m6 1h0m-40 1h0m17 0h0m24 0h0m1 4h0m-71 1h0m22 1h0m3 0h0m22 1h0m-45 2h0m29 0h0m18 1h0m-47 1h0m40 0h0m-37 2h0m55 0h0m-33 1h0m43 0h0m-48 1h0m-23 1h0m11 0h0m2 2h0m20 0h0m39 1h0m-74 1h0m77 0h0m-19 2h0m-17 1h0m31 0h0m2 0h0m-77 1h0m2 0h0m64 0h0m-23 1h0m5 1h0m37 0h0m-58 1h0m48 0h0m6 0h0m-10 1h0m-63 1h0m6 0h0m26 1h0m19 0h0m-8 1h0m-48 1h0m7 0h0m35 0h0m5 0h0m-3 1h0m29 0h0m-34 2h0m3 0h0m29 0h0m-44 2h0m2 1h0m3 0h0m13 0h0m-20 1h0m27 0h0m16 0h0m-42 1h0m46 0h0m-30 1h0m16 0h0m15 0h0m-69 1h0m16 0h0m11 0h0m-21 1h0m44 0h0m8 0h0m-48 1h0m55 1h0m-26 1h0m21 0h0m-46 2h0m22 0h0m-16 2h0m19 0h0m-22 1h0m28 0h0m6 1h0m-5 2h0m-12 2h0m-11 1h0m5 0h0"/><path id="Aright3" d="M288 90h0m4 0h0m6 1h0m11 0h0m-11 2h0m5 0h0m-25 1h0m38 0h0m-18 1h0m23 0h0m-8 1h0m-23 1h0m-3 1h0m-23 1h0m28 0h0m17 0h0m11 0h0m3 0h0m-14 1h0m10 0h0m-35 1h0m16 0h0m7 0h0m14 0h0m-45 1h0m3 0h0m43 0h0m-55 2h0m31 0h0m27 0h0m-38 1h0m-7 1h0m-9 1h0m42 2h0m14 0h0m-61 1h0m-5 2h0m32 0h0m23 0h0m-8 1h0m-35 1h0m19 0h0m10 0h0m5 0h0m-40 1h0m37 1h0m28 0h0m-50 1h0m21 0h0m32 0h0m-54 1h0m50 0h0m-61 2h0m58 0h0m-37 1h0m31 0h0m10 0h0m-4 1h0m10 0h0m-79 1h0m9 1h0m68 2h0m-74 1h0m25 0h0m41 0h0m-71 1h0m15 0h0m2 0h0m44 1h0m-48 2h0m17 0h0m6 0h0m22 0h0m5 0h0m-29 1h0m23 0h0m-47 2h0m34 0h0m35 0h0m-25 1h0m-12 1h0m10 0h0m18 0h0m-51 1h0m56 2h0m-57 1h0m3 0h0m-18 1h0m36 0h0m4 1h0m-21 2h0m27 0h0m9 0h0m-47 2h0m33 2h0m-2 1h0m-5 1h0m26 2h0m-26 5h0m18 1h0"/><path id="Aright4" d="M289 89h0m-2 1h0m-14 1h0m29 0h0m11 1h0m-7 1h0m8 0h0m-16 3h0m3 1h0m-12 1h0m7 0h0m2 0h0m2 0h0m-12 1h0m6 0h0m14 1h0m-30 1h0m25 0h0m4 0h0m10 0h0m6 1h0m6 0h0m-25 1h0m12 0h0m12 0h0m-67 1h0m59 0h0m-40 1h0m7 0h0m2 0h0m6 0h0m14 0h0m-23 1h0m31 0h0m10 1h0m1 2h0m-39 1h0m-1 1h0m0 0h0m4 0h0m32 2h0m-50 1h0m49 0h0m-5 1h0m-16 1h0m5 2h0m15 0h0m-48 1h0m0 0h0m9 0h0m6 0h0m13 0h0m3 0h0m22 1h0m-68 1h0m35 0h0m7 0h0m-32 2h0m0 2h0m13 1h0m38 0h0m-5 1h0m-52 3h0m-7 1h0m63 0h0m6 1h0m-24 1h0m4 0h0m9 0h0m5 0h0m-45 1h0m32 3h0m-2 1h0m-39 1h0m40 0h0m21 1h0m-39 1h0m48 1h0m-42 1h0m15 2h0m-29 1h0m-1 3h0m26 0h0m8 0h0m5 2h0m-27 1h0m14 0h0m-26 1h0m34 0h0m-35 2h0m15 2h0m5 0h0"/><path id="Aright5" d="M300 86h0m-6 3h0m12 0h0m-16 1h0m-1 2h0m17 0h0m4 0h0m2 0h0m-41 2h0m44 1h0m-39 2h0m19 0h0m16 0h0m-2 1h0m9 1h0m-45 1h0m32 0h0m11 1h0m5 0h0m1 0h0m-12 1h0m21 0h0m-47 1h0m39 2h0m-47 2h0m-13 2h0m13 0h0m6 0h0m18 0h0m-45 2h0m64 0h0m11 3h0m-47 1h0m32 1h0m26 0h0m-78 1h0m8 0h0m16 0h0m8 0h0m8 0h0m-25 2h0m19 0h0m-7 1h0m47 3h0m-85 1h0m39 0h0m46 1h0m-59 1h0m24 0h0m-36 1h0m54 0h0m5 0h0m-7 1h0m-21 1h0m18 0h0m-38 1h0m-5 1h0m2 0h0m8 0h0m9 0h0m36 0h0m1 0h0m-43 1h0m-20 1h0m44 1h0m-51 1h0m42 0h0m3 0h0m-43 1h0m1 0h0m45 0h0m3 0h0m-49 1h0m15 1h0m0 1h0m18 1h0m-5 1h0m16 0h0m-34 1h0m50 0h0m-15 1h0m-31 2h0m26 0h0m-26 2h0m1 1h0m38 2h0m-34 1h0m3 0h0m8 4h0m22 1h0m-13 3h0m-7 1h0m7 2h0"/><path id="Aright6" d="M288 84h0m13 0h0m4 6h0m-3 1h0m-19 2h0m25 1h0m11 2h0m-31 1h0m28 0h0m-41 5h0m18 1h0m-7 1h0m1 0h0m14 0h0m-44 1h0m41 0h0m14 0h0m-47 1h0m9 0h0m14 3h0m15 1h0m-14 2h0m35 0h0m8 1h0m-60 1h0m3 0h0m52 0h0m-66 1h0m20 0h0m24 0h0m-49 1h0m19 0h0m17 0h0m28 1h0m-29 1h0m3 0h0m-10 1h0m35 0h0m0 1h0m-9 1h0m10 1h0m-22 3h0m-2 1h0m-29 1h0m10 0h0m7 0h0m-29 1h0m51 2h0m6 0h0m17 0h0m-60 1h0m32 0h0m3 0h0m11 0h0m-32 1h0m1 0h0m-24 1h0m4 1h0m23 0h0m1 0h0m-14 1h0m28 1h0m-24 1h0m5 0h0m1 1h0m12 0h0m36 0h0m-56 2h0m36 0h0m-42 3h0m23 0h0m13 0h0m14 1h0m-13 1h0m-35 1h0m-4 1h0m32 0h0m-11 1h0m24 0h0m8 0h0m-23 1h0m11 3h0m-12 4h0m-8 2h0m8 1h0"/><path id="Aright7" d="M303 91h0m13 0h0m-4 1h0m3 0h0m-12 1h0m-13 2h0m11 0h0m4 2h0m11 0h0m-19 5h0m15 0h0m9 0h0m-30 1h0m6 0h0m-9 1h0m5 0h0m21 0h0m-56 2h0m46 0h0m29 0h0m-50 1h0m7 0h0m4 0h0m-27 2h0m7 0h0m33 1h0m-11 1h0m-37 1h0m29 0h0m-12 1h0m11 0h0m34 0h0m8 0h0m-62 1h0m26 1h0m-14 1h0m3 0h0m8 1h0m17 0h0m-38 1h0m5 2h0m39 1h0m10 1h0m-43 1h0m-24 1h0m10 0h0m7 0h0m40 2h0m-13 1h0m26 0h0m-51 1h0m38 0h0m-47 1h0m14 0h0m8 0h0m-26 1h0m35 0h0m-24 1h0m50 0h0m-38 2h0m-5 1h0m5 0h0m-19 1h0m30 0h0m-6 1h0m38 1h0m5 0h0m-44 1h0m4 0h0m-27 1h0m9 0h0m21 0h0m-8 1h0m29 0h0m-41 1h0m53 0h0m-10 1h0m-52 1h0m70 0h0m-35 5h0m17 1h0m-13 2h0m-10 2h0m1 1h0m11 2h0"/><path id="Aright8" d="M292 85h0m9 1h0m-11 1h0m-7 2h0m5 4h0m16 1h0m10 0h0m-43 1h0m33 0h0m-15 1h0m-25 1h0m64 0h0m-62 1h0m17 0h0m-18 1h0m7 0h0m41 0h0m11 0h0m4 0h0m-19 3h0m-36 2h0m56 0h0m-53 1h0m4 0h0m28 0h0m-27 1h0m25 0h0m-19 2h0m-19 1h0m11 0h0m18 0h0m23 0h0m-7 1h0m-24 1h0m-24 1h0m43 0h0m-12 1h0m3 1h0m-28 1h0m15 0h0m21 0h0m15 0h0m6 0h0m-32 1h0m34 0h0m-27 1h0m3 1h0m-7 2h0m25 1h0m11 0h0m-44 1h0m10 0h0m18 0h0m-59 2h0m21 0h0m30 0h0m-8 1h0m4 1h0m23 0h0m3 0h0m-59 2h0m17 0h0m1 1h0m-6 1h0m7 0h0m46 0h0m-32 2h0m-42 1h0m14 0h0m21 0h0m16 2h0m6 0h0m-33 2h0m9 0h0m34 0h0m-48 1h0m12 0h0m-31 1h0m9 0h0m3 0h0m46 0h0m-54 1h0m22 0h0m11 0h0m32 0h0m-64 1h0m6 1h0m12 0h0m-26 1h0m27 0h0m10 1h0m-26 4h0m16 0h0m12 3h0m13 0h0m1 0h0m-34 1h0m4 2h0m2 1h0m14 0h0m5 1h0m-10 2h0m1 0h0m1 0h0m1 1h0"/><path id="Aright9" d="M309 90h0m-1 2h0m-33 3h0m26 0h0m-29 1h0m28 0h0m26 0h0m-58 1h0m45 0h0m5 0h0m0 0h0m-12 1h0m-16 1h0m5 0h0m34 0h0m-8 1h0m-5 1h0m-5 1h0m14 0h0m3 0h0m-68 1h0m51 0h0m13 1h0m-35 1h0m-16 1h0m-9 1h0m16 0h0m15 0h0m-14 2h0m-1 1h0m25 0h0m11 1h0m14 0h0m-54 1h0m11 0h0m14 0h0m1 0h0m1 2h0m7 0h0m20 0h0m-28 1h0m21 0h0m-50 1h0m10 1h0m34 0h0m-19 1h0m13 0h0m25 0h0m-80 1h0m23 0h0m46 0h0m8 0h0m2 0h0m3 1h0m-54 1h0m21 0h0m13 1h0m9 0h0m-45 1h0m-5 1h0m45 0h0m-60 1h0m59 0h0m-47 1h0m58 1h0m-57 3h0m11 0h0m3 1h0m0 0h0m12 1h0m34 0h0m-21 1h0m-28 1h0m46 0h0m-39 1h0m27 0h0m-57 1h0m3 0h0m42 0h0m2 0h0m-40 1h0m2 0h0m5 0h0m26 0h0m-16 1h0m0 0h0m21 0h0m3 1h0m16 0h0m-66 1h0m8 1h0m21 0h0m29 0h0m14 1h0m-40 4h0m1 0h0m11 0h0m-35 2h0m40 0h0m8 0h0m6 0h0m-8 1h0m-40 4h0m39 0h0m3 0h0m-38 1h0m21 0h0"/><path id="Aright10" d="M289 87h0m-1 2h0m-2 1h0m6 0h0m-4 1h0m30 0h0m-35 1h0m21 0h0m-12 2h0m-22 2h0m44 0h0m-11 1h0m15 0h0m-37 1h0m19 0h0m25 0h0m4 0h0m-57 1h0m43 1h0m-35 2h0m4 0h0m18 0h0m-41 2h0m12 0h0m1 0h0m10 0h0m-4 2h0m4 0h0m22 0h0m-24 1h0m-21 1h0m6 1h0m20 0h0m9 0h0m-16 2h0m46 0h0m-33 1h0m32 1h0m13 0h0m-10 1h0m-70 1h0m34 0h0m18 0h0m12 0h0m7 0h0m-44 1h0m50 0h0m-28 3h0m-46 1h0m3 2h0m5 0h0m34 0h0m9 0h0m-33 1h0m35 0h0m-52 2h0m69 0h0m4 0h0m-9 1h0m-44 2h0m33 0h0m-28 1h0m13 1h0m27 0h0m2 0h0m9 0h0m-32 1h0m2 0h0m-36 1h0m33 0h0m5 0h0m-5 1h0m1 0h0m7 1h0m22 1h0m-40 1h0m21 0h0m-53 1h0m68 0h0m-3 1h0m-39 1h0m38 0h0m-47 2h0m3 0h0m47 1h0m-37 1h0m25 0h0m-28 1h0m29 1h0m-7 1h0m-32 1h0m7 0h0m16 2h0m-21 1h0m36 0h0m-23 1h0m-17 1h0m19 0h0m-6 1h0m17 0h0m-1 6h0"/><path id="Aright11" d="M278 86h0m5 2h0m29 2h0m-37 1h0m26 1h0m-10 1h0m-3 1h0m34 1h0m1 0h0m-30 1h0m11 0h0m-11 1h0m35 0h0m-40 1h0m39 0h0m-40 1h0m-13 1h0m0 0h0m21 0h0m33 0h0m-54 1h0m36 0h0m-41 2h0m27 0h0m40 0h0m-16 1h0m-55 1h0m12 1h0m19 0h0m19 1h0m-56 2h0m66 0h0m2 0h0m-45 2h0m44 0h0m-35 1h0m9 0h0m29 0h0m-40 1h0m17 0h0m11 0h0m11 1h0m-12 1h0m-15 1h0m-42 1h0m18 0h0m15 0h0m23 0h0m-47 1h0m38 2h0m-41 1h0m49 0h0m-54 1h0m0 1h0m37 0h0m38 0h0m-58 1h0m-18 1h0m2 0h0m22 1h0m8 1h0m8 0h0m7 1h0m-15 2h0m27 0h0m-42 1h0m-10 2h0m-2 2h0m62 0h0m-52 1h0m18 0h0m2 0h0m20 0h0m-52 1h0m6 0h0m48 0h0m10 1h0m-49 2h0m10 0h0m11 0h0m24 1h0m-43 1h0m19 0h0m19 0h0m-23 1h0m29 0h0m-52 1h0m44 0h0m-4 1h0m-5 1h0m19 1h0m-55 2h0m9 0h0m24 1h0m-12 1h0m-13 2h0m8 0h0m9 3h0m-10 2h0m22 1h0m-24 4h0"/></g><g id="Abot"><path id="Abot0" d="M217 142h0m-3 1h0m6 4h0m-6 3h0m11 2h0m-22 2h0m29 1h0m9 0h0m-7 3h0m9 0h0m0 1h0m-33 2h0m2 0h0m28 0h0m-30 1h0m14 1h0m11 0h0m-51 1h0m5 0h0m-7 1h0m62 0h0m-30 2h0m17 0h0m-33 1h0m30 1h0m8 0h0m-25 1h0m29 2h0m-30 2h0m10 2h0m-32 2h0m25 0h0m-10 2h0m-16 1h0m13 0h0m-8 1h0m0 0h0m11 0h0m23 3h0m-22 1h0m0 3h0"/><path id="Abot1" d="M210 144h0m1 1h0m6 0h0m5 3h0m-18 2h0m16 2h0m16 0h0m-21 1h0m11 1h0m-34 1h0m0 1h0m13 0h0m8 0h0m14 1h0m8 0h0m-44 1h0m26 0h0m-34 1h0m46 0h0m-29 2h0m3 0h0m-22 1h0m35 0h0m16 0h0m-39 2h0m12 0h0m30 0h0m7 0h0m-39 1h0m-20 1h0m54 0h0m-2 1h0m-33 1h0m20 0h0m23 0h0m-4 1h0m-44 1h0m11 1h0m10 0h0m-20 1h0m-2 1h0m17 0h0m27 0h0m5 0h0m-51 2h0m17 4h0m31 1h0m-49 1h0m13 1h0m4 1h0m25 1h0m-5 1h0m-25 1h0m18 1h0m7 3h0m-19 1h0m10 0h0"/><path id="Abot2" d="M208 140h0m-1 5h0m-15 3h0m26 0h0m7 0h0m-29 3h0m9 1h0m26 0h0m-36 2h0m13 0h0m18 1h0m-25 1h0m-14 1h0m29 0h0m-8 3h0m21 0h0m-8 2h0m8 0h0m-46 1h0m26 0h0m29 0h0m-41 1h0m7 0h0m7 1h0m22 1h0m-34 1h0m23 0h0m14 1h0m-49 1h0m18 0h0m-13 1h0m19 0h0m19 0h0m-42 1h0m12 0h0m23 0h0m-19 1h0m35 0h0m-52 1h0m39 0h0m4 1h0m-37 1h0m7 1h0m7 0h0m-22 1h0m11 0h0m10 1h0m-10 4h0m38 3h0m-14 3h0m7 0h0m9 0h0m-31 3h0m18 0h0m-17 2h0"/><path id="Abot3" d="M212 143h0m4 2h0m13 0h0m-7 2h0m7 0h0m-28 1h0m1 0h0m4 0h0m19 0h0m-11 1h0m8 0h0m12 0h0m-37 3h0m27 0h0m1 4h0m-20 2h0m30 1h0m-48 1h0m7 0h0m13 1h0m28 0h0m-5 3h0m9 0h0m-58 2h0m13 2h0m14 0h0m26 0h0m-10 2h0m4 2h0m-37 1h0m10 0h0m13 0h0m-2 1h0m-6 2h0m16 0h0m1 2h0m-25 1h0m33 0h0m6 0h0m-18 1h0m10 1h0m-33 2h0m5 1h0m13 1h0m-16 2h0m4 0h0m12 1h0m-4 4h0m1 2h0"/><path id="Abot4" d="M223 143h0m5 1h0m-29 1h0m16 5h0m18 0h0m5 0h0m-43 1h0m28 2h0m-4 1h0m-21 2h0m5 4h0m-20 1h0m22 1h0m-14 1h0m22 0h0m1 0h0m11 0h0m-15 1h0m-12 2h0m5 0h0m31 0h0m12 0h0m-36 1h0m15 2h0m15 0h0m-52 1h0m7 0h0m10 1h0m2 1h0m6 0h0m4 1h0m2 1h0m-24 2h0m4 3h0m25 0h0m-36 1h0m13 0h0m3 1h0m33 1h0m-44 4h0m22 1h0m13 0h0m1 2h0m6 0h0m-32 1h0m17 0h0"/><path id="Abot5" d="M210 140h0m21 4h0m-24 1h0m17 0h0m-26 5h0m41 0h0m-29 1h0m16 1h0m-5 1h0m-21 1h0m5 0h0m0 2h0m-8 3h0m22 0h0m7 2h0m7 0h0m2 0h0m-23 1h0m-13 1h0m46 0h0m-63 2h0m28 0h0m19 0h0m13 0h0m-58 1h0m22 0h0m1 0h0m24 0h0m-43 1h0m35 0h0m20 1h0m-12 1h0m-42 1h0m-4 1h0m46 0h0m-38 1h0m16 0h0m29 0h0m-6 1h0m-26 1h0m-15 1h0m34 0h0m0 0h0m-37 1h0m16 4h0m2 0h0m20 0h0m-34 1h0m5 0h0m17 0h0m19 1h0m-38 1h0m12 0h0m-16 1h0m16 0h0m-15 1h0m48 0h0m-41 1h0m19 0h0"/><path id="Abot6" d="M220 144h0m-31 4h0m18 1h0m32 2h0m-12 1h0m-16 1h0m-17 1h0m4 0h0m35 1h0m7 0h0m-21 1h0m18 0h0m-4 1h0m9 0h0m-57 1h0m54 0h0m-32 2h0m33 0h0m-22 1h0m-22 2h0m41 0h0m9 0h0m-59 1h0m11 0h0m2 0h0m15 1h0m12 2h0m-4 1h0m20 1h0m3 1h0m-5 1h0m-49 1h0m-9 1h0m48 0h0m-44 1h0m15 0h0m15 1h0m8 0h0m3 0h0m3 0h0m-5 2h0m1 1h0m-38 1h0m6 0h0m41 1h0m-10 1h0m1 0h0m3 0h0m-31 3h0m26 0h0m-24 1h0m25 0h0m5 5h0"/><path id="Abot7" d="M198 144h0m18 1h0m-11 2h0m0 1h0m9 0h0m-20 1h0m37 0h0m-30 2h0m37 0h0m-38 2h0m0 1h0m27 0h0m-15 1h0m-17 1h0m15 0h0m-24 2h0m1 1h0m26 0h0m5 0h0m-16 2h0m1 0h0m8 0h0m2 0h0m7 0h0m-25 1h0m2 0h0m23 0h0m-29 2h0m30 0h0m-34 1h0m13 2h0m44 0h0m-62 2h0m8 0h0m18 0h0m12 0h0m-32 1h0m49 0h0m-40 1h0m27 0h0m9 0h0m-10 2h0m1 0h0m-23 1h0m34 0h0m-34 1h0m25 0h0m-27 3h0m-6 2h0m-1 2h0m0 1h0m1 1h0m28 0h0m11 0h0m-20 1h0m18 0h0m-16 1h0m0 5h0m-11 1h0"/><path id="Abot8" d="M216 143h0m-8 3h0m16 0h0m-6 2h0m4 1h0m9 0h0m5 0h0m-32 3h0m-6 1h0m11 0h0m-15 2h0m19 0h0m24 0h0m8 2h0m-55 2h0m11 1h0m5 0h0m-8 1h0m45 0h0m-58 1h0m4 1h0m27 1h0m-15 1h0m4 0h0m6 0h0m20 0h0m-18 1h0m-32 1h0m17 0h0m12 4h0m-8 1h0m-11 1h0m11 0h0m6 0h0m15 0h0m-20 3h0m33 0h0m5 1h0m4 0h0m-42 1h0m8 1h0m2 1h0m19 1h0m-35 1h0m21 0h0m-13 1h0m11 1h0m-6 1h0m-3 3h0m5 0h0m15 0h0m-15 1h0m0 0h0"/><path id="Abot9" d="M220 141h0m-9 1h0m7 5h0m-10 1h0m10 0h0m3 0h0m-26 1h0m6 0h0m1 1h0m25 1h0m7 0h0m-5 1h0m9 0h0m-27 1h0m8 0h0m-19 1h0m0 1h0m0 0h0m24 0h0m-40 1h0m28 0h0m9 1h0m0 1h0m-39 2h0m23 3h0m1 2h0m13 0h0m-10 2h0m0 2h0m-16 1h0m-10 2h0m3 2h0m0 0h0m8 3h0m31 1h0m15 0h0m-1 1h0m-44 2h0m22 1h0m1 2h0m-17 1h0m9 0h0m18 2h0m-31 1h0m9 2h0m10 3h0"/><path id="Abot10" d="M204 143h0m26 1h0m-30 1h0m-8 1h0m28 1h0m-4 2h0m10 0h0m-38 2h0m9 0h0m5 0h0m-3 2h0m46 3h0m-18 1h0m-29 1h0m6 1h0m23 0h0m-33 2h0m23 0h0m-31 1h0m17 2h0m1 0h0m8 1h0m2 0h0m13 0h0m12 0h0m-4 1h0m10 4h0m-44 2h0m4 3h0m-2 3h0m5 0h0m-6 1h0m18 0h0m2 1h0m6 2h0m4 2h0m7 1h0m-40 1h0m3 0h0m32 0h0m-26 2h0m10 0h0m1 1h0m3 0h0m-5 1h0"/><path id="Abot11" d="M220 143h0m-2 1h0m7 0h0m-27 4h0m-1 1h0m-1 1h0m13 0h0m15 1h0m-21 2h0m11 0h0m27 1h0m-50 1h0m25 0h0m-36 1h0m14 0h0m46 2h0m-56 1h0m42 0h0m-3 1h0m-3 1h0m-15 1h0m22 0h0m3 0h0m-47 1h0m40 1h0m-40 1h0m2 0h0m1 0h0m11 0h0m21 0h0m19 0h0m6 0h0m-31 1h0m-5 2h0m6 0h0m27 1h0m2 1h0m2 0h0m-27 1h0m14 0h0m-47 1h0m43 5h0m5 0h0m-40 1h0m40 2h0m-37 1h0m22 2h0m1 0h0m-30 1h0m30 0h0m-20 1h0m24 0h0m-11 1h0m5 4h0m17 0h0m-30 4h0m11 0h0"/></g><g id="Abridge"><path id="Abridge0" d="M43 136h0m9 6h0m-5 1h0m10 0h0m-21 2h0m19 0h0m-16 3h0m0 1h0m2 3h0"/><path id="Abridge1" d="M44 132h0m6 3h0m-4 6h0m8 3h0m1 2h0m-5 2h0"/><path id="Abridge2" d="M49 134h0m6 1h0m-13 2h0m7 0h0m2 0h0m-9 4h0m0 1h0m8 1h0m0 1h0m-6 2h0m6 0h0m-12 1h0m11 0h0m-11 1h0m11 3h0m2 0h0m-5 1h0"/><path id="Abridge3" d="M41 140h0m-8 4h0m18 3h0m-14 1h0m9 2h0"/><path id="Abridge4" d="M41 132h0m3 2h0m5 2h0m10 2h0m-12 3h0m-12 2h0m1 1h0m18 0h0m-14 1h0m1 0h0m3 7h0m5 0h0m-2 2h0"/><path id="Abridge5" d="M46 132h0m5 0h0m4 3h0m2 3h0m0 1h0m-5 3h0m-16 4h0m18 0h0m-10 4h0m4 3h0"/><path id="Abridge6" d="M57 135h0m-4 4h0m-19 2h0m11 1h0m18 1h0m-21 1h0m11 0h0m-7 3h0m12 0h0m-11 1h0m6 0h0m-11 1h0m7 3h0m4 0h0m-5 4h0"/><path id="Abridge7" d="M40 137h0m2 1h0m13 3h0m-14 2h0m-6 1h0m11 0h0m7 1h0"/><path id="Abridge8" d="M50 131h0m-6 7h0m-9 3h0m19 0h0m-15 5h0m11 1h0m12 0h0m-9 11h0"/><path id="Abridge9" d="M45 132h0m-6 7h0m0 2h0m8 0h0m1 6h0m-6 2h0m4 2h0"/><path id="Abridge10" d="M50 133h0m-8 3h0m6 1h0m9 1h0m-20 1h0m10 0h0m11 2h0m-12 2h0m7 2h0m0 0h0m-11 1h0m10 0h0m-10 3h0m6 2h0m0 1h0m5 4h0"/><path id="Abridge11" d="M44 141h0m14 0h0m-16 1h0m6 0h0m-5 2h0m2 0h0m0 4h0"/></g><g id="Aconn"><path id="Aconn0" d="M215 54h0m-4 4h0m-2 3h0m6 2h0m5 0h0m-5 6h0m-1 1h0m4 2h0m25 35h0m-2 7h0m12 1h0"/><path id="Aconn1" d="M213 54h0m8 0h0m-3 3h0m-14 3h0m11 1h0m-3 2h0m-3 1h0m8 0h0m1 0h0m-1 1h0m2 1h0m1 2h0m-14 4h0m1 7h0m40 31h0m1 2h0m14 1h0m-23 1h0m14 6h0"/><path id="Aconn2" d="M206 56h0m10 0h0m0 4h0m6 0h0m-15 1h0m10 0h0m-4 15h0m34 35h0m13 0h0m7 1h0m-14 5h0m2 2h0"/><path id="Aconn3" d="M213 52h0m-3 1h0m6 0h0m-7 2h0m-3 2h0m-2 7h0m9 0h0m3 2h0m-6 2h0m8 4h0m33 29h0m12 10h0m-12 5h0m5 1h0"/><path id="Aconn4" d="M218 52h0m0 0h0m3 5h0m-5 2h0m-14 3h0m4 0h0m12 1h0m-8 4h0m10 0h0m-9 6h0m3 1h0m0 3h0m29 24h0m15 6h0m-17 8h0m10 0h0m0 2h0"/><path id="Aconn5" d="M212 55h0m-10 3h0m12 2h0m5 0h0m-11 1h0m3 2h0m-2 2h0m1 3h0m2 0h0m6 5h0m-4 4h0m32 29h0m16 7h0"/><path id="Aconn6" d="M214 48h0m-4 8h0m3 0h0m9 3h0m-10 1h0m1 1h0m0 1h0m2 2h0m7 0h0m-6 1h0m-3 3h0m29 44h0m11 0h0"/><path id="Aconn7" d="M213 52h0m4 7h0m-11 6h0m11 1h0m4 1h0m1 0h0m-11 1h0m5 2h0m3 0h0m-3 3h0m40 30h0m-4 5h0m-4 4h0m9 5h0m-2 1h0"/><path id="Aconn8" d="M212 52h0m3 4h0m0 1h0m-13 1h0m9 0h0m3 1h0m1 0h0m-4 2h0m14 8h0m-16 1h0m10 1h0m48 38h0m-19 2h0m16 3h0m-6 4h0m-5 1h0"/><path id="Aconn9" d="M208 57h0m9 6h0m9 1h0m-5 2h0m-10 1h0m-3 1h0m17 0h0m-2 4h0m29 32h0m-9 2h0m12 5h0m-4 9h0"/><path id="Aconn10" d="M213 55h0m-5 3h0m8 4h0m1 2h0m-7 3h0m0 0h0m0 0h0m11 2h0m1 1h0m1 0h0m-7 9h0m27 33h0m11 0h0m-5 1h0m5 1h0m-13 1h0m0 2h0m14 1h0"/><path id="Aconn11" d="M214 53h0m2 10h0m-2 1h0m14 3h0m-10 1h0m-3 4h0m5 1h0m37 37h0m-9 1h0m-5 3h0"/></g><g id="Kblob"><path id="Kblob0" d="M99 69h0m-5 1h0m11 1h0m13 1h0m6 1h0m-19 1h0m7 0h0m3 1h0m16 0h0m-52 1h0m54 0h0m-55 1h0m39 0h0m-12 1h0m5 0h0m20 0h0m-44 1h0m-5 1h0m18 0h0m32 0h0m-46 1h0m10 0h0m36 0h0m-10 1h0m-39 2h0m40 0h0m-12 1h0m6 2h0m1 0h0m1 0h0m13 0h0m-55 1h0m2 0h0m42 0h0m-31 1h0m15 0h0m-9 1h0m35 0h0m-7 2h0m5 1h0m-31 1h0m23 0h0m13 0h0m-27 1h0m-12 1h0m29 1h0m5 0h0m11 0h0m-43 1h0m11 0h0m8 0h0m-39 2h0m16 0h0m1 0h0m6 0h0m17 1h0m26 2h0m5 1h0m-76 1h0m5 0h0m8 1h0m30 0h0m5 0h0m8 0h0m-63 1h0m43 0h0m16 0h0m-43 1h0m24 0h0m-16 1h0m31 0h0m19 0h0m6 0h0m-85 1h0m48 1h0m0 0h0m-35 1h0m27 0h0m12 0h0m7 0h0m7 0h0m0 0h0m-7 1h0m-58 1h0m5 0h0m20 0h0m43 0h0m11 0h0m-73 1h0m26 0h0m7 0h0m12 0h0m-35 1h0m9 0h0m9 1h0m17 0h0m-43 1h0m20 0h0m47 0h0m-42 1h0m3 0h0m2 0h0m-10 1h0m4 0h0m8 0h0m6 0h0m14 0h0m-37 1h0m40 0h0m-27 1h0m2 0h0m5 0h0m1 0h0m28 0h0m2 0h0m8 0h0m-27 1h0m22 0h0m-49 2h0m23 0h0m3 0h0m-50 1h0m10 1h0m4 0h0m5 0h0m-10 1h0m40 0h0m-18 1h0m19 0h0m-12 1h0m2 1h0m30 1h0m-22 1h0m-3 2h0m-34 1h0m8 0h0m37 0h0m-36 1h0m37 0h0m-35 1h0m6 0h0m8 2h0m12 0h0m2 0h0m13 0h0m-24 1h0m16 1h0m-17 2h0"/><path id="Kblob1" d="M84 70h0m6 0h0m2 1h0m8 0h0m13 0h0m-7 3h0m-1 1h0m-9 1h0m6 1h0m8 0h0m9 0h0m7 0h0m-5 1h0m7 0h0m-19 1h0m1 0h0m-33 1h0m11 1h0m3 0h0m4 0h0m36 0h0m-28 1h0m15 0h0m0 0h0m-42 2h0m11 0h0m49 0h0m-53 2h0m32 1h0m-32 1h0m44 0h0m13 0h0m4 0h0m-46 1h0m40 1h0m6 0h0m-14 2h0m10 0h0m1 0h0m1 0h0m2 0h0m-27 1h0m-33 1h0m2 0h0m3 0h0m36 0h0m-1 1h0m-14 1h0m24 0h0m-32 1h0m-37 2h0m32 0h0m25 0h0m27 0h0m-61 1h0m-20 1h0m3 0h0m10 0h0m57 1h0m-35 1h0m4 0h0m12 0h0m23 0h0m-29 1h0m17 0h0m18 0h0m-65 1h0m50 0h0m13 0h0m-63 2h0m47 0h0m-32 1h0m5 0h0m27 0h0m0 0h0m-64 1h0m25 0h0m8 0h0m8 1h0m-4 1h0m-18 1h0m8 0h0m56 0h0m-89 1h0m7 0h0m5 0h0m61 0h0m9 0h0m-76 1h0m33 0h0m1 0h0m36 0h0m-24 1h0m35 0h0m-23 2h0m-56 1h0m12 0h0m-8 1h0m7 0h0m40 0h0m15 0h0m8 0h0m-56 1h0m4 0h0m-17 1h0m-10 1h0m13 0h0m13 0h0m16 1h0m36 0h0m-53 1h0m7 1h0m2 0h0m28 0h0m4 1h0m-31 1h0m10 0h0m16 0h0m17 0h0m-67 1h0m24 0h0m19 0h0m20 0h0m-48 1h0m9 0h0m-16 1h0m50 0h0m3 0h0m-40 2h0m-24 1h0m26 0h0m17 0h0m-26 1h0m11 1h0m7 0h0m-25 1h0m25 1h0m-19 1h0m1 0h0m9 0h0m20 0h0m-23 2h0m4 0h0m3 2h0m14 1h0m5 0h0"/><path id="Kblob2" d="M106 66h0m-13 3h0m4 1h0m9 0h0m-16 1h0m15 0h0m-10 1h0m30 1h0m-25 1h0m10 1h0m17 0h0m-50 1h0m19 0h0m15 0h0m18 0h0m-35 1h0m18 1h0m20 0h0m-46 1h0m26 0h0m5 0h0m24 0h0m-62 1h0m28 0h0m-34 2h0m12 0h0m49 0h0m-53 1h0m37 0h0m21 0h0m-68 1h0m18 1h0m47 1h0m-66 1h0m46 1h0m-27 1h0m1 0h0m4 0h0m29 0h0m-59 1h0m1 1h0m21 0h0m7 0h0m-9 1h0m0 0h0m37 2h0m-17 1h0m29 0h0m2 1h0m-50 1h0m9 0h0m26 0h0m-51 1h0m15 0h0m11 0h0m-16 1h0m32 0h0m3 1h0m6 0h0m30 0h0m-58 3h0m53 0h0m-28 2h0m5 0h0m-18 1h0m3 0h0m-15 2h0m29 0h0m0 0h0m8 0h0m-56 1h0m45 0h0m-12 1h0m19 0h0m-21 1h0m6 1h0m9 0h0m12 0h0m-62 1h0m23 0h0m2 0h0m42 0h0m-61 1h0m5 0h0m3 0h0m8 0h0m21 0h0m-42 1h0m30 1h0m14 0h0m-37 1h0m24 0h0m17 0h0m13 0h0m-68 1h0m1 0h0m33 0h0m5 0h0m-7 1h0m26 0h0m16 1h0m4 0h0m3 0h0m-68 1h0m4 0h0m5 0h0m27 0h0m3 0h0m-54 1h0m66 0h0m-53 1h0m12 0h0m30 0h0m-9 2h0m9 0h0m23 0h0m-50 1h0m8 1h0m8 0h0m16 0h0m15 1h0m-63 4h0m14 1h0m13 0h0m28 0h0m3 0h0m-38 1h0m27 0h0m6 0h0m-12 2h0m-22 1h0m6 0h0m24 1h0m-24 1h0m20 0h0m-1 1h0m-10 2h0m-21 2h0m16 1h0"/><path id="Kblob3" d="M98 68h0m-11 3h0m20 1h0m-12 3h0m5 0h0m22 0h0m6 1h0m-24 1h0m31 1h0m-40 2h0m21 0h0m12 0h0m-13 1h0m-35 1h0m25 0h0m3 0h0m-30 1h0m-6 1h0m21 0h0m1 0h0m29 0h0m-51 1h0m40 0h0m7 0h0m3 0h0m11 0h0m-46 1h0m19 0h0m33 0h0m-31 1h0m29 0h0m3 0h0m-63 1h0m4 0h0m17 0h0m17 0h0m10 0h0m7 0h0m-5 1h0m-58 1h0m40 0h0m12 0h0m7 0h0m-61 1h0m9 0h0m62 0h0m-66 1h0m57 0h0m5 0h0m-55 2h0m25 0h0m15 0h0m23 0h0m6 0h0m-83 1h0m13 0h0m40 0h0m3 0h0m-31 1h0m46 1h0m-67 1h0m17 0h0m7 0h0m30 0h0m13 0h0m7 0h0m-74 1h0m0 0h0m15 0h0m25 0h0m24 1h0m3 1h0m-43 1h0m-15 3h0m2 0h0m14 0h0m22 0h0m-49 1h0m79 0h0m3 0h0m-77 1h0m22 0h0m3 0h0m51 0h0m-61 1h0m18 0h0m10 0h0m1 0h0m-4 1h0m35 1h0m-82 1h0m33 0h0m9 0h0m9 0h0m26 0h0m-76 2h0m49 0h0m28 0h0m-85 1h0m4 0h0m8 0h0m8 1h0m13 1h0m18 0h0m17 0h0m-58 1h0m19 0h0m11 0h0m26 0h0m15 0h0m-73 1h0m9 0h0m38 0h0m-34 1h0m59 2h0m-63 1h0m33 0h0m19 0h0m2 0h0m2 0h0m5 0h0m-51 1h0m5 0h0m6 0h0m46 1h0m-64 1h0m29 0h0m15 0h0m2 0h0m-58 1h0m18 0h0m8 0h0m46 0h0m-38 1h0m9 0h0m21 1h0m-39 1h0m3 0h0m36 0h0m8 0h0m-69 1h0m36 1h0m-28 2h0m44 0h0m-41 1h0m26 0h0m29 0h0m-51 1h0m28 0h0m15 0h0m-47 2h0m30 3h0m-13 1h0m2 4h0m8 3h0"/><path id="Kblob4" d="M91 70h0m4 1h0m19 1h0m-22 1h0m4 0h0m29 2h0m-7 2h0m17 0h0m-50 1h0m44 1h0m-37 1h0m3 0h0m9 1h0m2 0h0m-15 1h0m17 0h0m18 0h0m-45 1h0m1 1h0m41 0h0m18 1h0m-3 1h0m-42 1h0m15 0h0m27 0h0m-31 1h0m-25 1h0m27 0h0m20 1h0m2 0h0m-48 1h0m18 0h0m-35 1h0m28 0h0m41 0h0m-41 1h0m1 0h0m-30 1h0m21 0h0m3 2h0m11 1h0m1 1h0m16 0h0m-24 4h0m36 0h0m10 0h0m-23 1h0m9 0h0m-57 1h0m38 0h0m28 0h0m-48 1h0m25 0h0m-38 1h0m70 0h0m-63 1h0m24 0h0m4 0h0m-44 1h0m6 1h0m18 0h0m26 0h0m10 0h0m24 0h0m-39 1h0m18 0h0m19 0h0m-62 1h0m17 0h0m12 0h0m24 1h0m-72 2h0m9 0h0m11 1h0m17 2h0m18 0h0m2 1h0m-61 1h0m23 0h0m41 0h0m-18 2h0m-25 1h0m-4 1h0m29 0h0m2 0h0m4 0h0m28 0h0m-27 1h0m-19 1h0m41 0h0m-37 1h0m31 1h0m-43 1h0m40 0h0m-28 4h0m7 0h0m-23 1h0m35 0h0m-20 1h0m32 0h0m0 1h0m-27 1h0m3 0h0m-5 1h0m17 0h0m-7 1h0m-16 1h0m15 0h0m5 0h0m2 0h0m-22 1h0m23 2h0m-13 1h0"/><path id="Kblob5" d="M106 68h0m-3 2h0m-5 1h0m11 3h0m-23 1h0m35 0h0m-23 1h0m31 0h0m-32 3h0m4 0h0m18 0h0m-31 1h0m13 0h0m18 0h0m9 3h0m4 0h0m-60 1h0m5 0h0m22 0h0m37 0h0m-67 1h0m31 0h0m14 0h0m10 0h0m-41 1h0m10 0h0m-1 1h0m51 1h0m-37 1h0m-23 1h0m33 1h0m3 0h0m7 0h0m18 0h0m-69 1h0m43 0h0m-41 1h0m20 0h0m-19 1h0m2 0h0m4 0h0m62 0h0m-63 1h0m29 0h0m-24 1h0m-23 1h0m9 0h0m52 0h0m-10 1h0m22 0h0m-76 1h0m20 0h0m64 0h0m0 0h0m-37 1h0m5 0h0m32 1h0m-74 1h0m12 0h0m8 0h0m47 0h0m-46 1h0m22 0h0m20 1h0m3 0h0m0 0h0m-7 1h0m-53 1h0m6 0h0m31 0h0m6 0h0m-49 1h0m16 1h0m22 0h0m21 1h0m-25 1h0m19 0h0m5 0h0m9 0h0m-34 1h0m18 0h0m-43 1h0m-21 1h0m31 0h0m-26 1h0m16 0h0m40 0h0m-47 1h0m31 0h0m25 0h0m-53 1h0m12 1h0m15 0h0m6 0h0m19 0h0m-63 1h0m65 0h0m11 0h0m-48 1h0m39 0h0m-12 1h0m14 0h0m-69 1h0m5 0h0m13 0h0m30 0h0m15 0h0m-50 1h0m25 0h0m14 0h0m-5 1h0m-16 1h0m6 0h0m34 0h0m-25 1h0m12 0h0m-30 1h0m41 0h0m-28 1h0m19 0h0m-30 1h0m-9 1h0m1 0h0m20 0h0m-37 1h0m7 0h0m53 0h0m8 0h0m-55 1h0m6 0h0m22 0h0m-7 1h0m4 0h0m-24 1h0m4 0h0m37 1h0m-1 2h0m3 0h0m-11 1h0m11 0h0m-35 1h0m26 0h0m-38 1h0m4 0h0m6 1h0m30 0h0"/><path id="Kblob6" d="M104 66h0m-4 2h0m6 3h0m4 0h0m-17 3h0m-6 2h0m25 0h0m-22 2h0m10 0h0m7 0h0m1 1h0m27 0h0m-18 4h0m4 0h0m13 0h0m-36 1h0m10 0h0m31 0h0m-65 1h0m3 0h0m45 0h0m-37 1h0m10 0h0m20 0h0m-21 1h0m31 0h0m-28 1h0m7 2h0m37 0h0m-37 1h0m35 0h0m-71 1h0m0 0h0m52 0h0m6 0h0m-56 1h0m57 0h0m-56 1h0m13 0h0m10 0h0m2 0h0m36 0h0m-51 1h0m56 0h0m-67 1h0m33 0h0m-34 1h0m35 0h0m-30 1h0m27 0h0m33 0h0m4 0h0m-73 1h0m17 0h0m62 1h0m-51 2h0m-29 1h0m2 0h0m70 1h0m-34 1h0m2 0h0m24 0h0m-44 1h0m6 0h0m27 2h0m3 1h0m-61 1h0m8 0h0m7 0h0m17 0h0m10 0h0m-31 1h0m25 0h0m12 0h0m18 0h0m2 0h0m-50 1h0m16 0h0m15 0h0m-44 1h0m12 0h0m47 1h0m10 0h0m-30 1h0m37 0h0m-78 1h0m30 0h0m22 0h0m18 0h0m-70 1h0m9 0h0m10 0h0m5 0h0m45 0h0m4 0h0m-36 1h0m-16 1h0m-21 1h0m30 0h0m12 0h0m15 0h0m-34 2h0m55 0h0m-74 1h0m22 0h0m17 1h0m-39 1h0m44 0h0m17 0h0m-13 1h0m18 0h0m-62 1h0m6 0h0m41 0h0m-18 1h0m-26 1h0m49 0h0m-42 1h0m7 1h0m27 1h0m2 0h0m2 0h0m12 0h0m-53 1h0m21 0h0m2 1h0m-9 1h0m32 3h0m-26 1h0m23 0h0m-29 1h0m23 0h0m-21 5h0"/><path id="Kblob7" d="M93 71h0m30 1h0m-37 3h0m19 0h0m31 2h0m-1 1h0m-37 1h0m-26 2h0m17 0h0m7 0h0m3 0h0m5 1h0m-33 2h0m18 0h0m-15 1h0m68 0h0m-37 1h0m22 0h0m-18 1h0m31 0h0m-68 1h0m16 0h0m44 0h0m-64 1h0m27 0h0m42 0h0m0 0h0m-43 1h0m36 0h0m6 0h0m-48 1h0m36 0h0m4 1h0m13 0h0m-75 1h0m15 0h0m66 1h0m-39 1h0m30 0h0m-77 1h0m18 0h0m1 1h0m1 1h0m21 0h0m9 0h0m1 0h0m0 0h0m13 0h0m-48 1h0m43 1h0m3 0h0m-54 1h0m41 0h0m30 0h0m-4 1h0m-61 1h0m36 0h0m37 1h0m-45 1h0m16 0h0m2 0h0m-37 1h0m60 0h0m-58 1h0m53 1h0m-66 1h0m4 0h0m2 0h0m10 0h0m6 1h0m46 0h0m-59 1h0m3 0h0m6 0h0m4 0h0m22 0h0m-39 1h0m66 0h0m5 0h0m-72 1h0m30 0h0m4 0h0m6 0h0m-18 1h0m-37 1h0m33 0h0m7 0h0m18 1h0m22 0h0m-80 1h0m84 0h0m-72 1h0m6 0h0m9 0h0m32 0h0m1 0h0m13 0h0m-67 1h0m27 0h0m-19 1h0m-5 1h0m21 0h0m7 0h0m25 0h0m2 1h0m-48 1h0m31 0h0m15 0h0m-43 1h0m49 1h0m-43 1h0m0 1h0m11 0h0m17 0h0m-16 1h0m3 0h0m3 0h0m10 0h0m-15 1h0m5 0h0m21 0h0m3 0h0m-29 1h0m10 1h0m9 0h0m7 0h0m-39 1h0m-1 1h0m23 0h0m18 0h0m-33 1h0m11 1h0m0 0h0m7 0h0m-5 4h0m4 0h0m1 2h0m-1 1h0m-13 2h0m5 0h0"/><path id="Kblob8" d="M122 68h0m-33 1h0m37 0h0m-14 2h0m9 1h0m-18 2h0m5 1h0m-5 1h0m21 0h0m-24 1h0m19 0h0m1 0h0m1 0h0m13 1h0m-54 2h0m13 0h0m18 0h0m-32 1h0m61 0h0m-37 1h0m3 0h0m10 1h0m-21 1h0m18 0h0m-32 1h0m13 0h0m5 0h0m1 0h0m32 0h0m-57 1h0m44 0h0m16 0h0m10 0h0m-37 1h0m18 0h0m-37 1h0m5 0h0m16 0h0m1 0h0m18 0h0m14 0h0m-58 1h0m37 0h0m6 0h0m-64 1h0m23 0h0m5 0h0m0 0h0m-10 1h0m-2 1h0m23 0h0m31 0h0m-64 2h0m75 0h0m-71 1h0m19 0h0m6 0h0m49 0h0m-60 1h0m5 0h0m19 0h0m19 0h0m11 0h0m7 0h0m-73 1h0m15 1h0m27 1h0m-36 1h0m38 0h0m-41 1h0m17 0h0m24 0h0m28 0h0m-75 1h0m19 0h0m14 0h0m-44 1h0m23 0h0m12 0h0m34 0h0m-66 1h0m6 0h0m15 0h0m16 0h0m17 0h0m24 0h0m-67 1h0m25 0h0m1 0h0m25 0h0m-39 1h0m31 0h0m9 1h0m8 0h0m-55 1h0m51 1h0m7 0h0m-74 3h0m19 0h0m3 1h0m2 0h0m12 1h0m30 0h0m-60 2h0m36 0h0m-37 1h0m8 0h0m31 0h0m8 0h0m25 0h0m-53 1h0m36 1h0m-24 1h0m1 0h0m11 0h0m14 0h0m2 0h0m-59 1h0m57 0h0m7 0h0m-41 1h0m22 1h0m-29 1h0m1 0h0m4 0h0m12 0h0m31 0h0m-17 1h0m-29 1h0m41 0h0m-22 2h0m1 0h0m2 0h0m-40 1h0m6 0h0m7 0h0m12 0h0m-26 1h0m18 0h0m2 1h0m6 0h0m-25 1h0m40 1h0m18 1h0m-43 1h0m27 0h0m-11 1h0m-4 1h0m5 0h0m-21 1h0m-2 1h0m4 0h0m17 0h0m-3 2h0m13 0h0m-14 1h0m13 1h0m-5 3h0m10 0h0"/><path id="Kblob9" d="M97 71h0m-9 1h0m3 0h0m11 1h0m16 1h0m-9 1h0m-17 1h0m0 0h0m20 0h0m20 0h0m-19 1h0m6 0h0m1 0h0m-30 1h0m4 1h0m7 1h0m21 1h0m2 0h0m-54 2h0m13 2h0m-6 1h0m24 0h0m1 0h0m29 0h0m4 0h0m6 0h0m-54 1h0m17 0h0m35 1h0m-47 1h0m11 1h0m-29 1h0m-4 1h0m69 0h0m-21 1h0m-27 1h0m27 0h0m-37 1h0m10 0h0m46 0h0m-62 1h0m27 0h0m37 0h0m-22 1h0m-46 1h0m59 0h0m-63 1h0m0 0h0m27 0h0m21 1h0m-44 1h0m43 0h0m1 0h0m29 1h0m-85 1h0m57 0h0m7 0h0m-25 1h0m18 1h0m-55 2h0m59 0h0m21 0h0m-36 1h0m6 0h0m-36 1h0m17 0h0m14 1h0m0 1h0m-39 1h0m70 0h0m-74 1h0m13 0h0m-15 1h0m14 0h0m34 0h0m2 0h0m29 0h0m-65 1h0m30 0h0m17 0h0m-49 1h0m35 0h0m2 0h0m18 0h0m5 0h0m8 0h0m-74 1h0m13 0h0m7 0h0m21 0h0m5 2h0m18 0h0m-57 1h0m4 0h0m15 0h0m7 0h0m33 0h0m-2 1h0m16 0h0m-45 1h0m18 0h0m-50 1h0m53 1h0m-57 1h0m39 0h0m-23 1h0m2 0h0m24 0h0m6 0h0m6 0h0m-16 1h0m19 0h0m3 0h0m-8 2h0m-50 2h0m7 0h0m5 0h0m49 0h0m-17 1h0m21 0h0m-33 1h0m12 0h0m5 0h0m-13 2h0m15 0h0m-10 1h0m-2 1h0m-25 1h0m3 0h0m30 0h0m-22 4h0m12 0h0m-10 1h0m3 2h0"/><path id="Kblob10" d="M86 69h0m13 0h0m-5 1h0m22 0h0m0 0h0m-10 2h0m1 0h0m3 0h0m-15 1h0m25 0h0m1 0h0m-8 1h0m1 1h0m-37 2h0m18 0h0m6 0h0m30 0h0m-30 1h0m3 0h0m1 2h0m23 0h0m-14 1h0m12 1h0m6 1h0m4 1h0m-59 1h0m21 0h0m30 0h0m-43 1h0m17 0h0m1 0h0m-32 1h0m2 0h0m69 0h0m-74 1h0m6 0h0m25 0h0m-17 1h0m55 0h0m2 1h0m-14 1h0m-58 1h0m0 0h0m1 1h0m19 0h0m-18 1h0m5 0h0m3 0h0m16 0h0m20 0h0m-50 1h0m41 0h0m13 0h0m5 0h0m15 0h0m-69 1h0m21 0h0m14 2h0m29 0h0m-51 1h0m41 0h0m15 0h0m-51 1h0m10 0h0m3 0h0m29 0h0m-52 1h0m-4 1h0m39 0h0m-12 1h0m41 0h0m-57 1h0m2 0h0m56 0h0m-48 1h0m2 0h0m44 1h0m5 0h0m-30 1h0m23 1h0m-19 1h0m9 0h0m14 0h0m-36 1h0m16 0h0m3 0h0m5 0h0m-62 1h0m27 1h0m34 0h0m5 0h0m7 0h0m2 3h0m-57 1h0m16 0h0m17 0h0m1 0h0m27 0h0m-49 1h0m29 0h0m-40 1h0m55 0h0m-59 1h0m58 0h0m-13 1h0m9 0h0m-65 1h0m28 0h0m36 0h0m-74 1h0m14 1h0m24 0h0m-11 1h0m31 1h0m-42 1h0m43 0h0m5 1h0m-46 1h0m-5 1h0m11 2h0m45 1h0m-56 1h0m44 0h0m-35 2h0m-3 2h0m0 0h0m14 0h0m14 0h0m9 1h0m-40 1h0m33 0h0m-29 1h0m6 0h0m4 0h0m11 0h0m0 0h0m-20 2h0m15 1h0"/><path id="Kblob11" d="M119 67h0m-17 1h0m-4 3h0m28 0h0m-37 1h0m25 0h0m5 0h0m-31 1h0m5 1h0m30 0h0m8 0h0m-42 1h0m20 0h0m5 0h0m13 0h0m2 0h0m3 1h0m-20 2h0m9 0h0m13 0h0m-55 1h0m7 0h0m44 1h0m-22 1h0m4 0h0m17 0h0m-41 1h0m14 0h0m-29 1h0m20 0h0m3 0h0m-20 1h0m15 0h0m40 0h0m-31 1h0m35 0h0m-58 1h0m16 0h0m15 0h0m2 0h0m-2 2h0m17 0h0m11 0h0m-55 1h0m-9 1h0m39 0h0m6 0h0m2 0h0m-18 1h0m8 0h0m19 0h0m10 0h0m6 0h0m-67 1h0m22 0h0m35 2h0m-73 1h0m58 1h0m2 0h0m15 0h0m8 0h0m-72 1h0m44 0h0m11 0h0m-52 1h0m-4 1h0m22 0h0m27 0h0m24 0h0m-65 1h0m20 0h0m2 0h0m13 0h0m-11 1h0m32 0h0m7 0h0m-45 1h0m11 0h0m-40 1h0m26 0h0m2 1h0m6 0h0m25 0h0m-51 1h0m-14 1h0m64 0h0m5 0h0m-67 1h0m16 0h0m32 0h0m29 0h0m-64 1h0m22 0h0m36 0h0m5 1h0m-18 1h0m-42 1h0m23 1h0m3 0h0m-31 1h0m7 1h0m12 0h0m3 0h0m12 0h0m26 0h0m-74 1h0m11 0h0m28 0h0m9 0h0m-19 1h0m5 0h0m33 0h0m-41 1h0m1 0h0m-16 2h0m26 0h0m8 0h0m36 0h0m-65 1h0m4 0h0m15 1h0m-30 1h0m3 0h0m39 0h0m-17 1h0m40 2h0m-58 1h0m59 0h0m2 0h0m-16 2h0m20 0h0m-60 1h0m26 0h0m-32 2h0m21 2h0m30 0h0m-39 1h0m15 0h0m22 0h0m-40 1h0m19 0h0m9 1h0m-12 1h0m14 0h0m13 0h0m-20 1h0m23 0h0m-48 1h0m45 0h0"/></g><g id="Kband"><path id="Kband0" d="M110 122h0m-13 2h0m9 0h0m-19 2h0m-4 1h0m11 0h0m6 0h0m29 1h0m-28 1h0m18 2h0m-10 1h0m35 1h0m-9 1h0m13 0h0m-61 1h0m-10 1h0m60 0h0m-66 1h0m12 0h0m-14 2h0m9 0h0m62 0h0m-13 2h0m-12 2h0m19 0h0m2 0h0m-49 1h0m15 0h0m28 1h0m-55 2h0m25 6h0"/><path id="Kband1" d="M139 125h0m-2 1h0m-4 2h0m-52 3h0m10 0h0m19 1h0m4 0h0m-34 1h0m7 1h0m16 1h0m28 0h0m-60 2h0m21 0h0m-23 1h0m14 1h0m-13 1h0m16 0h0m9 3h0m14 0h0m-19 1h0m9 0h0m-25 1h0m28 0h0m1 0h0m-18 2h0m22 0h0m6 2h0"/><path id="Kband2" d="M118 123h0m-36 3h0m40 0h0m-17 1h0m-13 1h0m40 1h0m-13 1h0m-23 1h0m12 0h0m-13 2h0m-21 1h0m53 1h0m6 0h0m8 4h0m-21 1h0m-37 2h0m49 0h0m-48 1h0m2 0h0m16 1h0m13 3h0m-14 1h0m2 1h0"/><path id="Kband3" d="M127 123h0m-2 1h0m-17 1h0m10 0h0m-27 1h0m39 0h0m-39 2h0m58 2h0m-54 1h0m31 0h0m-54 3h0m18 0h0m-11 1h0m17 0h0m27 0h0m13 0h0m-55 1h0m18 2h0m34 2h0m-42 6h0m12 0h0m7 1h0m10 3h0"/><path id="Kband4" d="M136 122h0m-54 1h0m19 2h0m28 0h0m10 1h0m-60 2h0m18 0h0m39 0h0m-46 1h0m18 0h0m0 0h0m17 0h0m-47 1h0m19 0h0m24 0h0m6 0h0m-48 2h0m50 0h0m12 0h0m-50 2h0m33 0h0m-15 1h0m-16 1h0m7 1h0m-9 1h0m5 0h0m47 0h0m-48 1h0m-12 1h0m18 0h0m28 0h0m11 1h0m-47 1h0m47 0h0m-36 1h0m16 0h0m11 0h0m-59 1h0m46 0h0m7 0h0m-46 1h0m32 2h0m-30 1h0m13 0h0m30 0h0m-19 1h0"/><path id="Kband5" d="M118 120h0m-3 3h0m20 1h0m-46 1h0m11 1h0m12 0h0m-11 1h0m1 0h0m6 0h0m20 1h0m-16 1h0m-26 1h0m3 1h0m13 0h0m37 0h0m-19 2h0m6 0h0m-46 1h0m18 0h0m42 0h0m-71 1h0m44 1h0m12 0h0m17 0h0m-21 1h0m2 0h0m2 2h0m-13 2h0m-23 1h0m19 2h0m19 1h0m-35 1h0m30 0h0m-42 1h0m14 0h0m-9 2h0"/><path id="Kband6" d="M117 122h0m7 1h0m-1 2h0m-17 3h0m-34 1h0m4 1h0m13 0h0m55 1h0m-36 1h0m-28 2h0m11 0h0m12 1h0m-23 1h0m10 0h0m44 1h0m-63 2h0m12 0h0m29 1h0m13 0h0m-9 1h0m8 0h0m11 1h0m-9 1h0m-25 1h0m-22 1h0m55 0h0m-60 1h0m5 1h0m19 1h0m12 0h0"/><path id="Kband7" d="M102 124h0m-22 2h0m31 3h0m14 0h0m-20 1h0m14 1h0m9 1h0m11 0h0m-59 3h0m31 0h0m28 0h0m10 0h0m-36 1h0m15 0h0m7 2h0m-61 1h0m-4 2h0m68 0h0m-53 1h0m47 2h0m-53 1h0m10 4h0m15 0h0m20 0h0m-26 3h0"/><path id="Kband8" d="M111 123h0m1 0h0m-9 2h0m8 0h0m-10 2h0m6 0h0m19 1h0m-43 1h0m43 0h0m7 1h0m-42 7h0m21 0h0m17 1h0m-58 1h0m16 0h0m14 1h0m20 1h0m-30 2h0m31 0h0m16 0h0m-50 1h0m1 0h0m32 2h0m0 0h0m-22 1h0m-10 3h0"/><path id="Kband9" d="M91 126h0m47 1h0m2 1h0m-38 1h0m38 0h0m-67 1h0m58 0h0m4 0h0m3 0h0m-61 1h0m50 0h0m-50 1h0m-1 1h0m8 1h0m60 0h0m-46 3h0m-4 2h0m12 0h0m-5 2h0m42 0h0m-39 1h0m25 0h0m-18 1h0m2 0h0m-29 1h0m43 0h0m2 0h0m-37 7h0"/><path id="Kband10" d="M115 119h0m12 2h0m-37 5h0m11 0h0m35 0h0m-36 1h0m-8 1h0m26 1h0m-15 1h0m6 0h0m-22 2h0m49 0h0m-40 1h0m8 0h0m11 0h0m-18 1h0m23 0h0m20 1h0m-55 2h0m43 0h0m-10 2h0m-42 1h0m20 0h0m37 0h0m-14 1h0m8 2h0m-32 3h0m-17 1h0m29 0h0m26 1h0m-40 1h0"/><path id="Kband11" d="M105 123h0m-5 2h0m-10 3h0m50 0h0m-3 1h0m-53 1h0m41 0h0m-48 3h0m8 1h0m12 0h0m-19 1h0m52 1h0m-23 1h0m10 1h0m-17 2h0m23 1h0m10 0h0m9 1h0m-50 1h0m9 0h0m9 6h0m0 1h0m0 0h0m4 2h0"/></g><g id="Klow"><path id="Klow0" d="M68 119h0m-3 1h0m8 1h0m6 0h0m-5 4h0m-15 9h0m69 5h0m-55 1h0m1 0h0m52 2h0m-43 2h0m0 2h0m14 1h0m-33 3h0m33 0h0m-33 1h0m22 1h0m-9 1h0m-20 2h0m17 0h0m58 0h0m-52 1h0m57 0h0m-70 2h0m38 0h0m-14 1h0m34 0h0m-35 1h0m1 0h0m38 0h0m12 0h0m-25 1h0m-44 1h0m14 3h0m42 0h0m-70 2h0m57 0h0m-43 4h0m31 1h0m18 0h0m21 0h0m-75 2h0m40 0h0m-51 1h0m60 1h0m4 3h0m8 1h0m-31 2h0m32 0h0m-38 2h0m1 0h0m25 2h0m-29 3h0m-18 1h0m51 2h0m-23 3h0m7 0h0m10 2h0m8 0h0m-13 2h0m0 8h0"/><path id="Klow1" d="M61 122h0m14 4h0m-6 1h0m-2 9h0m-8 3h0m28 0h0m-5 1h0m-6 2h0m-12 1h0m10 0h0m52 1h0m-9 2h0m-56 1h0m13 3h0m13 0h0m45 0h0m7 0h0m3 0h0m-28 2h0m-31 1h0m3 0h0m9 1h0m44 0h0m3 0h0m-55 1h0m18 0h0m-40 2h0m56 0h0m13 0h0m-20 1h0m-2 1h0m1 0h0m7 0h0m-47 1h0m69 0h0m-75 2h0m59 0h0m14 0h0m-71 1h0m3 0h0m47 1h0m-54 1h0m28 1h0m16 1h0m2 0h0m-48 2h0m9 1h0m48 0h0m-25 4h0m7 4h0m39 0h0m-78 1h0m45 0h0m28 0h0m-29 1h0m-33 2h0m-7 1h0m34 1h0m-30 1h0m36 1h0m28 2h0m-32 3h0m-35 1h0m39 0h0m7 0h0m-23 4h0m41 1h0m-13 2h0m-43 1h0m42 4h0m-27 2h0m11 5h0m9 0h0"/><path id="Klow2" d="M69 120h0m1 5h0m-4 5h0m11 1h0m-13 5h0m26 7h0m1 1h0m40 1h0m1 0h0m-3 2h0m-78 2h0m24 1h0m1 0h0m27 0h0m27 1h0m-70 1h0m4 1h0m-6 1h0m79 0h0m-65 1h0m8 0h0m5 0h0m6 1h0m45 1h0m-50 3h0m-10 2h0m28 0h0m26 0h0m-60 2h0m29 2h0m16 0h0m-58 2h0m27 0h0m-14 1h0m17 0h0m8 1h0m-15 2h0m7 0h0m62 0h0m-26 1h0m18 0h0m-41 1h0m9 0h0m-41 2h0m62 1h0m-32 1h0m9 0h0m16 0h0m14 1h0m-45 1h0m28 0h0m-38 1h0m34 1h0m17 1h0m-22 2h0m14 0h0m-1 6h0m11 0h0m-35 2h0m14 3h0m4 1h0m-43 2h0m51 1h0m-45 4h0m17 0h0m23 1h0m-3 1h0m-9 2h0"/><path id="Klow3" d="M62 124h0m20 1h0m0 12h0m46 3h0m-44 1h0m-16 1h0m18 1h0m-27 1h0m11 0h0m14 0h0m4 1h0m-8 2h0m13 1h0m-35 1h0m20 0h0m-10 2h0m-10 2h0m19 0h0m18 0h0m17 2h0m-42 1h0m36 0h0m34 0h0m-81 1h0m25 0h0m2 0h0m56 0h0m-47 1h0m-18 3h0m-8 3h0m-7 1h0m12 0h0m13 0h0m42 1h0m13 0h0m-72 2h0m-3 3h0m45 0h0m-49 1h0m56 0h0m-31 2h0m45 1h0m17 0h0m-21 2h0m-1 1h0m5 1h0m-71 1h0m77 1h0m-17 1h0m21 1h0m-50 3h0m23 2h0m3 0h0m-28 2h0m4 0h0m-20 7h0m22 0h0m15 4h0m-13 2h0m-8 5h0m31 1h0m-7 2h0m-2 3h0"/><path id="Klow4" d="M86 126h0m-18 6h0m15 6h0m-17 2h0m2 2h0m53 0h0m9 0h0m-9 1h0m-36 1h0m-2 1h0m3 0h0m15 1h0m-10 1h0m3 0h0m41 0h0m-2 1h0m-73 1h0m0 0h0m57 0h0m1 0h0m-51 1h0m61 0h0m-50 1h0m4 0h0m-7 1h0m42 1h0m-48 2h0m4 1h0m25 0h0m-9 1h0m14 0h0m17 0h0m-40 1h0m35 0h0m13 0h0m-65 1h0m16 0h0m58 0h0m4 0h0m-69 2h0m-8 3h0m40 0h0m11 0h0m-18 1h0m-38 1h0m25 0h0m51 0h0m4 2h0m-17 1h0m-56 1h0m12 2h0m23 1h0m7 0h0m2 1h0m-47 6h0m0 0h0m80 1h0m-53 1h0m-3 1h0m14 0h0m3 0h0m-42 1h0m35 2h0m14 3h0m-16 1h0m22 1h0m-11 2h0m16 2h0m-26 1h0m-28 2h0m35 6h0m-17 1h0m20 3h0m-14 1h0"/><path id="Klow5" d="M58 140h0m21 1h0m5 3h0m50 0h0m-8 1h0m-56 2h0m9 0h0m2 0h0m2 1h0m27 0h0m-56 1h0m59 0h0m-48 1h0m6 2h0m13 0h0m5 1h0m-28 2h0m26 1h0m58 0h0m-58 2h0m9 0h0m25 0h0m10 0h0m-53 1h0m38 0h0m21 0h0m-83 1h0m7 0h0m61 0h0m-64 1h0m16 0h0m61 0h0m-75 1h0m1 0h0m24 0h0m-31 1h0m34 0h0m24 0h0m27 0h0m3 0h0m-51 1h0m31 0h0m-9 1h0m26 0h0m-67 6h0m69 4h0m-21 1h0m-35 2h0m23 0h0m32 0h0m-18 2h0m8 0h0m3 2h0m-65 2h0m51 0h0m14 0h0m-41 1h0m27 0h0m11 2h0m-64 1h0m67 0h0m10 1h0m-85 1h0m18 0h0m54 3h0m-50 1h0m22 1h0m-20 3h0m14 0h0m5 0h0m21 0h0m7 2h0m-40 5h0m8 0h0m-17 2h0m26 1h0m-17 1h0m5 4h0m18 1h0"/><path id="Klow6" d="M76 124h0m-5 12h0m9 3h0m-19 1h0m6 4h0m25 0h0m-27 1h0m10 0h0m22 4h0m37 1h0m-49 1h0m-13 1h0m63 1h0m-43 1h0m-4 1h0m36 3h0m-30 2h0m-5 1h0m50 0h0m-39 2h0m34 0h0m-49 1h0m62 0h0m-78 1h0m34 0h0m3 1h0m12 0h0m13 1h0m-56 1h0m0 2h0m47 0h0m-49 1h0m51 1h0m-38 1h0m17 0h0m-34 2h0m41 0h0m4 1h0m22 0h0m-33 2h0m10 0h0m26 0h0m-6 1h0m6 0h0m-25 1h0m18 0h0m-62 1h0m57 0h0m-49 1h0m19 0h0m1 2h0m20 0h0m-49 1h0m75 1h0m-29 2h0m-4 2h0m3 0h0m10 1h0m5 2h0m-53 1h0m30 1h0m29 0h0m-57 2h0m30 0h0m-21 2h0m18 6h0m-19 1h0m19 1h0m17 1h0m-16 2h0m-7 5h0"/><path id="Klow7" d="M74 118h0m-7 1h0m-4 6h0m13 1h0m5 4h0m-14 3h0m13 0h0m-12 2h0m0 2h0m10 2h0m55 1h0m-52 1h0m2 0h0m-9 1h0m4 0h0m4 0h0m3 0h0m-6 1h0m18 4h0m-3 1h0m-28 1h0m2 0h0m16 0h0m50 0h0m4 0h0m-82 2h0m38 1h0m1 0h0m28 0h0m-22 1h0m-31 1h0m29 0h0m-42 2h0m15 0h0m8 0h0m20 0h0m-13 1h0m9 0h0m-18 1h0m29 1h0m6 2h0m3 0h0m7 0h0m-11 1h0m-37 1h0m32 1h0m-2 1h0m13 0h0m-50 1h0m-3 1h0m5 0h0m17 0h0m26 0h0m-17 1h0m-29 2h0m26 1h0m2 0h0m33 1h0m-47 2h0m46 0h0m0 2h0m5 0h0m-23 2h0m-17 1h0m-15 2h0m62 1h0m-7 1h0m-24 1h0m-45 1h0m18 0h0m33 0h0m-40 1h0m41 1h0m-34 1h0m35 0h0m-25 1h0m10 3h0m5 0h0m-16 2h0m-16 2h0m43 2h0m-22 1h0m-24 1h0m54 0h0m-24 2h0m4 0h0m-10 1h0m-8 1h0m-14 2h0m50 1h0m-12 5h0m-24 1h0m24 0h0"/><path id="Klow8" d="M79 127h0m-19 2h0m12 3h0m-15 1h0m20 0h0m-5 1h0m-12 4h0m15 0h0m-20 2h0m14 0h0m17 0h0m-10 3h0m49 0h0m-51 2h0m7 1h0m-5 1h0m61 0h0m-13 1h0m3 0h0m1 2h0m-68 1h0m68 0h0m-39 1h0m7 0h0m-36 1h0m18 0h0m13 1h0m-30 1h0m15 1h0m16 0h0m24 1h0m11 0h0m-45 1h0m47 0h0m13 1h0m-57 1h0m-1 1h0m31 0h0m-50 1h0m17 3h0m16 0h0m-19 1h0m19 1h0m28 0h0m1 0h0m-20 2h0m25 1h0m-30 4h0m39 0h0m0 1h0m-20 1h0m-20 1h0m4 0h0m15 0h0m25 0h0m-8 5h0m-55 1h0m53 0h0m-59 1h0m9 0h0m15 0h0m-39 2h0m24 0h0m3 0h0m7 0h0m-20 2h0m57 1h0m-38 2h0m-12 1h0m22 1h0m27 0h0m-2 2h0m-54 1h0m43 0h0m-10 2h0m8 1h0m-24 2h0m-21 1h0m11 0h0m34 0h0m3 3h0m-11 2h0m-7 1h0m-8 7h0"/><path id="Klow9" d="M78 123h0m-20 12h0m29 1h0m-5 2h0m-6 2h0m13 0h0m40 1h0m-75 1h0m25 0h0m8 0h0m0 3h0m53 0h0m-67 1h0m54 0h0m-46 1h0m34 1h0m-33 1h0m4 0h0m49 2h0m-14 1h0m10 1h0m-61 2h0m48 0h0m13 2h0m-50 1h0m12 0h0m38 0h0m-53 2h0m-11 1h0m8 0h0m22 0h0m32 2h0m-53 1h0m41 0h0m-28 1h0m6 0h0m14 3h0m31 1h0m-39 1h0m11 0h0m-21 1h0m-14 2h0m-15 2h0m37 3h0m5 0h0m18 1h0m-30 2h0m-32 3h0m61 0h0m-29 2h0m36 1h0m-57 1h0m17 0h0m55 0h0m-68 1h0m1 1h0m7 1h0m48 0h0m-15 4h0m-41 1h0m37 0h0m9 2h0m-24 2h0m2 0h0m-26 1h0m27 2h0m-7 1h0m16 6h0"/><path id="Klow10" d="M59 122h0m11 1h0m3 5h0m-15 3h0m15 0h0m-4 3h0m15 5h0m45 2h0m8 0h0m-74 3h0m4 2h0m65 1h0m-23 1h0m-39 1h0m71 3h0m-66 1h0m20 0h0m-20 2h0m5 0h0m-15 1h0m23 0h0m-2 1h0m31 1h0m-18 2h0m-19 1h0m11 0h0m-24 1h0m58 0h0m4 0h0m-60 1h0m48 0h0m31 1h0m-81 1h0m14 0h0m-7 2h0m12 0h0m10 5h0m37 0h0m-51 1h0m44 0h0m-59 1h0m-4 1h0m11 2h0m10 1h0m47 0h0m-72 4h0m32 5h0m3 3h0m51 0h0m-29 1h0m9 0h0m-19 1h0m-20 1h0m17 0h0m16 1h0m-23 2h0m-10 1h0m7 3h0m27 0h0m-49 1h0m53 0h0m9 0h0m-48 5h0m17 1h0m5 1h0m-11 1h0"/><path id="Klow11" d="M63 125h0m-7 7h0m6 0h0m15 2h0m-3 4h0m-1 1h0m3 1h0m-11 3h0m6 2h0m13 1h0m12 1h0m-19 2h0m-4 1h0m3 0h0m28 0h0m1 0h0m24 0h0m-56 1h0m33 0h0m-20 1h0m26 0h0m7 0h0m19 1h0m-35 1h0m4 1h0m-49 1h0m38 2h0m46 1h0m-67 1h0m1 1h0m11 0h0m38 1h0m-67 1h0m39 0h0m-18 1h0m30 0h0m-38 1h0m71 0h0m-47 1h0m-23 1h0m21 1h0m50 2h0m-37 1h0m-33 1h0m51 0h0m-56 2h0m29 0h0m20 0h0m3 0h0m-41 1h0m56 0h0m-30 1h0m-20 1h0m26 3h0m-36 1h0m28 0h0m17 0h0m-54 1h0m31 0h0m8 0h0m18 1h0m-51 5h0m47 0h0m8 1h0m-16 1h0m8 0h0m8 0h0m-35 1h0m-1 1h0m41 0h0m-37 1h0m-10 1h0m39 0h0m-36 3h0m30 5h0m-6 1h0m-28 4h0m9 9h0"/></g><g id="Karm"><path id="Karm0" d="M178 17h0m9 1h0m2 4h0m-16 3h0m13 1h0m-5 1h0m7 0h0m-1 1h0m-20 2h0m14 0h0m10 0h0m-4 1h0m-21 1h0m26 3h0m-30 2h0m8 0h0m-6 1h0m17 2h0m-8 5h0m-10 1h0m18 0h0m-23 4h0m9 1h0m-14 1h0m26 1h0m-23 1h0m-2 1h0m7 0h0m-13 1h0m22 1h0m-24 4h0m1 3h0"/><path id="Karm1" d="M176 22h0m8 1h0m-6 2h0m11 0h0m9 2h0m-25 1h0m15 1h0m-1 2h0m-22 1h0m28 0h0m-28 1h0m13 0h0m6 1h0m6 2h0m-11 1h0m-6 1h0m14 0h0m6 0h0m-41 2h0m22 0h0m-4 2h0m9 1h0m5 0h0m-5 1h0m6 0h0m-21 3h0m19 0h0m-25 1h0m25 0h0m-21 2h0m17 1h0m-16 1h0m-20 14h0"/><path id="Karm2" d="M186 17h0m-6 1h0m6 1h0m2 0h0m10 3h0m-26 1h0m8 1h0m15 2h0m-24 1h0m7 1h0m-15 6h0m12 3h0m-16 2h0m-3 1h0m27 0h0m-25 1h0m6 0h0m19 2h0m6 0h0m-20 1h0m0 1h0m14 0h0m-26 2h0m4 0h0m-10 1h0m17 0h0m14 1h0m-27 3h0m-18 11h0m10 7h0"/><path id="Karm3" d="M192 19h0m-6 1h0m2 0h0m6 0h0m-4 2h0m-23 1h0m7 2h0m15 0h0m-25 1h0m15 0h0m-6 1h0m1 0h0m14 0h0m-14 1h0m17 1h0m-27 1h0m9 1h0m8 0h0m6 1h0m2 0h0m-25 1h0m0 0h0m5 1h0m14 1h0m-7 2h0m-6 3h0m14 0h0m-27 2h0m6 0h0m18 0h0m-22 1h0m12 0h0m-14 3h0m4 0h0m-2 1h0m-7 1h0m29 2h0m-28 6h0m8 0h0m-17 2h0m-1 8h0"/><path id="Karm4" d="M178 17h0m2 2h0m6 2h0m-12 1h0m1 3h0m15 0h0m-31 1h0m39 0h0m-23 2h0m8 1h0m-17 2h0m15 0h0m-5 1h0m18 0h0m-28 1h0m4 1h0m2 0h0m5 1h0m7 4h0m-11 1h0m19 3h0m-37 1h0m4 0h0m20 0h0m-10 1h0m11 0h0m-27 3h0m21 1h0m-22 1h0m5 1h0m16 0h0m4 0h0m-22 1h0m-11 5h0m3 0h0m22 0h0m0 1h0m-19 3h0m-8 4h0"/><path id="Karm5" d="M192 17h0m7 1h0m-28 3h0m24 0h0m0 1h0m-20 2h0m6 1h0m-2 2h0m16 2h0m-17 2h0m-16 1h0m3 0h0m21 0h0m-30 1h0m24 1h0m15 0h0m-16 2h0m5 2h0m-23 1h0m12 0h0m-15 4h0m19 2h0m3 0h0m3 0h0m-6 2h0m-17 1h0m3 1h0m-1 3h0m-16 4h0m-6 7h0"/><path id="Karm6" d="M179 22h0m3 0h0m5 0h0m-8 2h0m7 0h0m-1 1h0m-8 5h0m6 1h0m-13 1h0m19 0h0m-34 2h0m5 1h0m-1 2h0m1 0h0m23 0h0m5 1h0m-28 1h0m0 0h0m20 0h0m-26 2h0m0 0h0m18 2h0m16 0h0m-29 11h0m0 0h0m7 0h0m0 2h0m-17 3h0"/><path id="Karm7" d="M177 20h0m-8 1h0m25 0h0m-34 4h0m31 0h0m-19 1h0m0 3h0m13 1h0m4 1h0m6 0h0m-32 1h0m2 0h0m1 0h0m27 1h0m2 0h0m-30 1h0m25 1h0m-28 1h0m6 1h0m16 1h0m4 0h0m-11 1h0m14 0h0m-29 1h0m-2 1h0m3 0h0m22 0h0m-1 1h0m-23 1h0m20 0h0m9 1h0m-26 2h0m-6 2h0m12 0h0m-13 2h0m-7 2h0m18 1h0m0 0h0m-13 1h0m8 0h0m-9 2h0m15 1h0m-15 1h0m-12 1h0m-3 3h0m7 4h0"/><path id="Karm8" d="M191 18h0m-10 2h0m2 0h0m-8 1h0m-3 4h0m8 0h0m13 0h0m-22 2h0m1 0h0m18 4h0m-26 1h0m3 0h0m3 0h0m-9 1h0m10 0h0m11 1h0m4 1h0m-5 1h0m4 0h0m-22 1h0m3 1h0m20 1h0m-32 2h0m11 0h0m-10 3h0m13 2h0m-5 2h0m14 0h0m-7 1h0m10 0h0m-10 2h0m-22 1h0m17 0h0m-13 4h0m-8 4h0m5 2h0m-5 2h0m-1 6h0"/><path id="Karm9" d="M179 20h0m-4 3h0m-2 1h0m5 0h0m10 0h0m-17 1h0m-4 2h0m4 1h0m17 2h0m-24 1h0m7 0h0m9 0h0m6 0h0m5 0h0m-5 1h0m-20 3h0m-6 2h0m18 0h0m-5 1h0m16 1h0m-20 1h0m12 1h0m-15 3h0m-4 3h0m0 2h0m1 0h0m-1 1h0m-16 1h0m4 0h0m29 0h0m-23 1h0m3 0h0m-16 4h0m11 1h0m-12 3h0m1 2h0"/><path id="Karm10" d="M196 20h0m-23 2h0m16 1h0m-17 2h0m16 1h0m-15 1h0m22 1h0m-29 1h0m30 0h0m-21 1h0m-20 1h0m0 2h0m28 0h0m-19 3h0m0 0h0m6 2h0m17 0h0m3 0h0m-22 1h0m5 0h0m11 0h0m7 0h0m-21 1h0m-3 2h0m-10 1h0m-1 5h0m5 2h0m13 1h0m-24 4h0m-4 9h0m-7 1h0m0 1h0"/><path id="Karm11" d="M182 14h0m2 5h0m11 0h0m-8 5h0m0 0h0m-1 2h0m8 2h0m-20 1h0m-15 2h0m7 0h0m-8 2h0m35 0h0m-4 4h0m-1 1h0m0 1h0m6 0h0m-35 2h0m25 0h0m-29 1h0m-1 1h0m28 3h0m-27 6h0m-4 1h0m2 1h0m12 3h0"/></g><g id="Kllc"><path id="Kllc0" d="M21 167h0m3 1h0m5 1h0m7 4h0m-17 3h0m16 2h0m-11 1h0m7 0h0m-18 2h0m7 1h0m4 0h0m6 0h0m4 3h0m3 0h0m-24 1h0m-2 1h0m16 1h0m-20 1h0m34 23h0m-18 5h0"/><path id="Kllc1" d="M26 157h0m-11 8h0m17 9h0m7 3h0m-16 1h0m8 0h0m9 0h0m-23 2h0m3 0h0m23 6h0m-17 3h0m2 3h0m28 1h0m-21 8h0m6 0h0m-20 12h0m3 1h0"/><path id="Kllc2" d="M20 170h0m1 1h0m8 4h0m-1 1h0m-16 5h0m13 0h0m4 5h0m3 2h0m-18 2h0m12 1h0m-4 30h0m10 7h0"/><path id="Kllc3" d="M30 157h0m-4 10h0m-3 1h0m1 3h0m6 0h0m-13 1h0m8 0h0m13 0h0m-20 4h0m9 2h0m15 0h0m-29 7h0m12 1h0m5 0h0m4 0h0m-1 4h0m-4 1h0m26 3h0m-9 1h0"/><path id="Kllc4" d="M26 166h0m-6 3h0m-13 10h0m22 2h0m-9 1h0m12 2h0m9 0h0m-12 12h0m13 1h0m-8 24h0"/><path id="Kllc5" d="M43 161h0m-24 4h0m1 9h0m5 0h0m-1 2h0m36 0h0m-32 1h0m5 4h0m2 0h0m-24 1h0m25 0h0m-2 7h0m-4 19h0m15 16h0m-11 7h0"/><path id="Kllc6" d="M10 171h0m5 0h0m5 1h0m-2 2h0m14 1h0m-12 1h0m15 0h0m-5 4h0m7 2h0m-25 1h0m23 0h0m-6 1h0m4 0h0m-1 2h0m6 0h0m-5 1h0m-17 1h0m1 0h0m0 1h0m16 1h0m24 6h0m-8 2h0m8 13h0m-10 7h0m-25 4h0m30 0h0m-8 6h0"/><path id="Kllc7" d="M13 170h0m24 0h0m-13 1h0m-1 3h0m-12 1h0m24 0h0m2 1h0m-22 2h0m13 0h0m-5 1h0m-3 1h0m11 0h0m-12 1h0m3 1h0m-7 4h0m14 0h0m-20 1h0m0 9h0m20 4h0m29 4h0m-24 12h0m8 4h0"/><path id="Kllc8" d="M45 160h0m-19 7h0m-9 2h0m10 0h0m-1 1h0m12 0h0m-11 1h0m3 1h0m11 2h0m-30 1h0m15 2h0m-16 2h0m17 1h0m-17 5h0m25 1h0m-21 1h0m5 0h0m23 26h0m6 14h0m-12 1h0"/><path id="Kllc9" d="M40 158h0m4 8h0m-29 3h0m17 4h0m5 2h0m-2 1h0m-4 1h0m-3 2h0m4 2h0m0 1h0m-11 3h0m0 1h0m13 3h0m-2 6h0m6 0h0m13 21h0"/><path id="Kllc10" d="M22 169h0m5 0h0m8 1h0m-20 1h0m15 1h0m-6 2h0m6 1h0m-22 6h0m2 0h0m3 1h0m23 1h0m-22 1h0m1 0h0m13 1h0m1 1h0m4 0h0m-3 1h0m-2 4h0m-4 2h0m17 9h0m-2 29h0"/><path id="Kllc11" d="M46 158h0m7 9h0m-30 4h0m0 0h0m26 0h0m-32 1h0m22 1h0m-2 1h0m7 0h0m-28 1h0m0 5h0m9 4h0m10 2h0m-20 1h0m18 0h0m2 0h0m-5 1h0m-3 6h0m8 7h0m-16 2h0m13 27h0"/></g><g id="Kscat"><path id="Kscat0" d="M80 88h0m24 3h0m60 14h0m-91 11h0m19 16h0m48 2h0m31 47h0m-50 8h0"/><path id="Kscat1" d="M142 87h0m-44 1h0m58 31h0m-100 1h0m41 1h0m15 11h0m6 9h0m-60 27h0m75 13h0m-37 49h0"/><path id="Kscat2" d="M92 76h0m73 14h0m-62 4h0m-3 11h0m-29 10h0m-15 10h0m58 13h0m-33 17h0m26 72h0"/><path id="Kscat3" d="M143 180h0m-32 6h0m-7 23h0m-30 2h0"/><path id="Kscat4" d="M118 59h0m17 38h0m-18 39h0m41 58h0"/><path id="Kscat5" d="M87 71h0m-13 7h0m-12 55h0m99 3h0m-59 4h0m80 12h0m-103 1h0m35 1h0m-20 44h0m-9 18h0"/><path id="Kscat6" d="M62 107h0m112 7h0m-106 9h0m91 32h0m-15 36h0m-62 7h0m24 1h0m-38 2h0m14 2h0m52 3h0m-55 9h0"/><path id="Kscat7" d="M168 133h0"/><path id="Kscat8" d="M113 75h0m8 3h0m28 14h0"/><path id="Kscat9" d="M132 106h0m-35 16h0m68 2h0m-35 6h0m-22 12h0m-9 37h0m69 7h0"/><path id="Kscat10" d="M116 62h0m-32 45h0m21 31h0m-7 7h0m36 25h0m23 4h0m-27 48h0"/><path id="Kscat11" d="M128 62h0m15 30h0m-73 3h0m11 0h0m78 23h0m-61 19h0m-54 9h0m112 1h0m5 3h0m6 8h0m-63 56h0"/></g><g id="Lblob"><path id="Lblob0" d="M130 72h0m-17 2h0m16 0h0m-12 3h0m-8 2h0m-11 1h0m19 1h0m-22 1h0m43 0h0m-40 2h0m56 0h0m-66 1h0m26 0h0m-24 1h0m10 4h0m15 0h0m38 3h0m-54 2h0m36 0h0m31 0h0m-24 1h0m25 0h0m-53 1h0m41 0h0m16 0h0m-91 3h0m43 0h0m-46 1h0m55 0h0m40 0h0m-90 1h0m8 1h0m64 0h0m16 0h0m-93 1h0m19 0h0m8 0h0m57 0h0m10 0h0m-65 1h0m63 0h0m-91 1h0m1 0h0m10 0h0m69 1h0m-16 3h0m-19 2h0m11 0h0m-21 2h0m25 0h0m-9 2h0m42 1h0m3 0h0m-79 1h0m32 0h0m24 1h0m-29 2h0m25 0h0m6 0h0m-67 1h0m76 1h0m-36 1h0m27 0h0m-47 1h0m30 0h0m27 2h0m-55 2h0m19 0h0m-20 2h0m30 0h0m22 0h0m-74 1h0m56 0h0m13 0h0m-28 1h0m3 0h0m1 0h0m-44 1h0m15 0h0m26 1h0m-37 2h0m11 1h0m21 1h0m12 1h0m18 2h0m-47 1h0m18 1h0"/><path id="Lblob1" d="M122 74h0m21 1h0m-4 2h0m-29 1h0m39 3h0m-34 3h0m-16 2h0m-2 1h0m21 1h0m11 0h0m31 1h0m-12 1h0m-35 2h0m38 0h0m-62 1h0m8 2h0m-6 1h0m76 0h0m2 0h0m-86 1h0m1 0h0m37 0h0m-7 1h0m18 0h0m30 0h0m1 0h0m-88 2h0m10 1h0m48 0h0m40 0h0m-87 1h0m80 0h0m-67 2h0m7 0h0m42 1h0m-61 1h0m32 1h0m38 0h0m11 0h0m-82 1h0m5 0h0m22 0h0m20 0h0m14 1h0m-48 1h0m45 1h0m-65 1h0m34 0h0m26 0h0m-44 2h0m7 0h0m42 1h0m-54 1h0m30 0h0m4 0h0m7 0h0m26 1h0m-66 1h0m8 0h0m22 2h0m10 0h0m19 0h0m-56 2h0m43 0h0m-43 1h0m3 1h0m35 1h0m-34 2h0m68 2h0m-76 1h0m10 0h0m39 0h0m12 0h0m-24 1h0m-36 1h0m-5 1h0m15 0h0m35 0h0m1 0h0m-46 2h0m41 0h0m-11 1h0m6 0h0m-4 2h0m2 0h0m-18 1h0m12 0h0m19 0h0m1 0h0m10 0h0m-41 1h0m14 2h0m2 1h0m10 4h0"/><path id="Lblob2" d="M133 70h0m15 4h0m-38 1h0m9 1h0m31 2h0m-41 2h0m-2 1h0m-3 1h0m10 0h0m47 0h0m8 3h0m-42 2h0m17 1h0m9 0h0m-4 7h0m-24 1h0m11 0h0m21 0h0m-40 1h0m44 0h0m-6 1h0m11 0h0m-59 1h0m-22 5h0m38 0h0m-46 1h0m14 0h0m65 0h0m-71 1h0m17 2h0m49 1h0m10 1h0m-33 1h0m10 0h0m-63 2h0m9 0h0m38 0h0m13 0h0m11 0h0m-52 1h0m20 0h0m1 0h0m42 0h0m-74 1h0m2 0h0m62 0h0m2 1h0m-38 3h0m4 0h0m7 0h0m-16 1h0m54 1h0m-15 1h0m-30 1h0m1 0h0m9 0h0m-21 1h0m33 0h0m-24 1h0m40 0h0m-34 1h0m17 0h0m12 0h0m-27 1h0m18 1h0m6 0h0m9 0h0m-19 1h0m15 0h0m15 0h0m-69 1h0m1 1h0m44 0h0m17 2h0m-78 1h0m34 0h0m18 1h0m-28 2h0m35 0h0m-32 1h0m-15 1h0m3 1h0m42 0h0m-38 1h0m5 1h0m0 2h0m38 3h0"/><path id="Lblob3" d="M132 78h0m11 0h0m2 0h0m-15 1h0m16 2h0m-5 1h0m6 1h0m21 0h0m-25 2h0m13 0h0m-25 1h0m-41 1h0m46 0h0m9 0h0m-39 1h0m26 0h0m-10 1h0m11 0h0m21 0h0m2 0h0m5 1h0m-43 1h0m6 0h0m9 0h0m19 0h0m-50 1h0m-14 2h0m44 0h0m-53 1h0m48 0h0m8 0h0m29 0h0m-32 1h0m4 0h0m30 0h0m4 0h0m-64 1h0m16 0h0m22 0h0m-20 2h0m27 0h0m8 0h0m14 0h0m-67 2h0m34 0h0m-26 1h0m-38 1h0m38 0h0m15 0h0m7 0h0m6 1h0m0 0h0m-31 1h0m20 0h0m-34 1h0m35 0h0m-33 2h0m45 0h0m27 0h0m-48 1h0m0 0h0m32 0h0m-79 1h0m2 1h0m56 0h0m-12 1h0m-7 1h0m40 0h0m-47 1h0m44 0h0m-54 3h0m69 0h0m-32 1h0m-14 4h0m4 0h0m20 1h0m-50 1h0m9 0h0m8 0h0m7 0h0m7 0h0m-18 2h0m28 1h0m-44 1h0m13 0h0m46 0h0m-1 1h0m-45 1h0m18 0h0m11 1h0m1 0h0m5 0h0m-5 1h0m2 1h0m11 1h0m-27 1h0m21 0h0m-15 1h0m-30 2h0m0 0h0m13 0h0m4 0h0m-6 2h0m29 0h0m-2 1h0m-31 1h0m9 1h0m35 0h0m-42 1h0m11 2h0"/><path id="Lblob4" d="M130 73h0m-2 2h0m-21 3h0m8 0h0m4 0h0m-18 3h0m3 0h0m57 0h0m-67 1h0m10 1h0m-3 2h0m25 1h0m41 1h0m-74 1h0m12 1h0m28 0h0m16 0h0m-55 1h0m41 1h0m-51 2h0m7 0h0m59 0h0m-20 1h0m34 0h0m-10 2h0m-7 1h0m-66 1h0m13 0h0m37 0h0m-49 1h0m3 0h0m52 0h0m6 0h0m-39 1h0m2 0h0m12 0h0m-14 1h0m68 1h0m1 1h0m-37 1h0m38 0h0m-61 2h0m1 0h0m35 0h0m7 1h0m4 0h0m-85 1h0m6 0h0m1 0h0m15 0h0m17 0h0m32 0h0m20 0h0m-61 1h0m24 0h0m23 0h0m-71 1h0m49 0h0m48 0h0m-53 1h0m25 2h0m14 0h0m12 0h0m-8 1h0m-88 1h0m22 0h0m62 0h0m-79 1h0m29 0h0m12 2h0m26 0h0m10 2h0m7 0h0m-86 1h0m39 0h0m18 0h0m2 0h0m15 0h0m-25 1h0m3 0h0m-54 3h0m41 0h0m43 0h0m-10 1h0m4 0h0m-55 2h0m-6 1h0m25 0h0m21 0h0m1 0h0m7 0h0m2 0h0m-57 1h0m6 0h0m4 0h0m17 1h0m1 0h0m44 0h0m-82 1h0m12 0h0m22 2h0m14 1h0m21 0h0m-32 4h0m20 0h0"/><path id="Lblob5" d="M134 73h0m3 0h0m-22 2h0m3 0h0m12 2h0m-26 2h0m22 0h0m10 1h0m-36 1h0m-10 7h0m72 0h0m-60 2h0m47 0h0m-37 1h0m42 0h0m-64 1h0m17 0h0m2 0h0m62 0h0m-15 1h0m6 0h0m-59 1h0m5 0h0m10 0h0m5 0h0m3 0h0m14 0h0m17 0h0m-25 1h0m19 0h0m16 0h0m-73 2h0m5 1h0m10 3h0m2 0h0m1 0h0m2 0h0m61 0h0m-72 1h0m16 0h0m4 0h0m25 1h0m2 0h0m-45 4h0m6 0h0m35 0h0m-60 1h0m42 0h0m-48 1h0m75 0h0m-66 1h0m4 0h0m36 0h0m-30 1h0m48 0h0m0 0h0m-7 2h0m27 0h0m-41 2h0m36 0h0m-45 1h0m12 0h0m34 0h0m-82 1h0m5 0h0m24 0h0m-25 1h0m34 0h0m47 0h0m-43 1h0m4 0h0m28 0h0m13 0h0m-93 2h0m54 0h0m5 1h0m-6 1h0m-3 2h0m26 0h0m-62 5h0m55 0h0m-40 2h0m41 0h0m-29 1h0m45 0h0m-70 1h0m2 0h0m19 1h0m45 1h0m-46 1h0m16 0h0m-30 1h0m2 0h0m9 0h0m-18 1h0m29 0h0m-16 1h0m13 0h0m2 1h0m6 1h0m14 1h0m-28 1h0m11 0h0m-17 1h0m15 2h0"/><path id="Lblob6" d="M133 72h0m-11 5h0m5 1h0m32 0h0m-54 1h0m24 2h0m14 0h0m18 0h0m-48 2h0m25 0h0m-35 1h0m2 0h0m6 0h0m17 0h0m28 0h0m-43 1h0m36 1h0m4 1h0m9 0h0m5 0h0m-3 2h0m-37 1h0m7 1h0m5 0h0m-6 1h0m8 0h0m-9 1h0m-40 2h0m48 0h0m11 0h0m17 0h0m-65 1h0m21 0h0m24 0h0m-57 3h0m10 0h0m16 0h0m9 0h0m6 0h0m46 0h0m-26 1h0m-76 1h0m25 1h0m-18 1h0m7 0h0m18 0h0m33 0h0m-9 1h0m5 0h0m3 0h0m-5 1h0m26 0h0m4 0h0m-38 1h0m49 1h0m-80 1h0m13 0h0m14 0h0m15 0h0m41 0h0m-90 1h0m4 0h0m6 0h0m12 0h0m4 0h0m-22 2h0m15 0h0m11 0h0m8 1h0m-2 1h0m35 2h0m-32 1h0m32 0h0m-83 1h0m30 0h0m16 0h0m17 0h0m-54 2h0m62 0h0m-35 1h0m42 0h0m20 0h0m-70 1h0m-6 2h0m57 0h0m-50 1h0m3 0h0m2 0h0m8 0h0m36 0h0m-78 1h0m78 1h0m1 0h0m-65 1h0m70 0h0m-19 1h0m-57 1h0m54 1h0m-3 1h0m5 0h0m21 0h0m-78 1h0m20 0h0m3 0h0m39 0h0m-30 2h0m-20 1h0m11 0h0m-10 3h0m50 0h0m-40 1h0m33 0h0m-44 4h0"/><path id="Lblob7" d="M126 73h0m7 4h0m24 2h0m-64 3h0m19 0h0m40 0h0m-25 1h0m2 0h0m7 0h0m-18 3h0m10 0h0m6 0h0m-41 1h0m9 0h0m7 0h0m5 0h0m22 0h0m0 0h0m14 2h0m-55 1h0m49 0h0m-45 4h0m38 0h0m-7 1h0m-30 1h0m45 0h0m-60 1h0m7 0h0m45 0h0m33 0h0m-90 1h0m54 0h0m-45 1h0m1 0h0m17 0h0m25 0h0m-2 1h0m-17 2h0m51 1h0m-60 2h0m21 0h0m14 1h0m5 0h0m20 0h0m-81 2h0m56 1h0m1 0h0m-55 2h0m55 0h0m17 0h0m10 0h0m-20 1h0m-20 1h0m16 0h0m28 1h0m-52 1h0m23 0h0m-26 1h0m34 0h0m19 1h0m-80 1h0m74 0h0m-7 2h0m-49 2h0m15 0h0m-34 1h0m18 0h0m39 0h0m-48 1h0m5 0h0m7 0h0m9 0h0m32 1h0m11 0h0m-26 4h0m2 0h0m-2 1h0m-40 1h0m6 3h0m39 0h0m17 1h0m3 0h0m-11 2h0m-2 2h0m-28 1h0m11 1h0m-10 1h0m29 0h0m-40 3h0"/><path id="Lblob8" d="M135 71h0m-13 4h0m-4 2h0m23 2h0m1 2h0m-46 1h0m30 2h0m14 0h0m-23 3h0m-6 1h0m28 0h0m-46 1h0m79 0h0m-83 2h0m45 0h0m-20 1h0m22 0h0m-8 1h0m11 1h0m4 1h0m30 0h0m-58 1h0m19 2h0m9 0h0m-55 1h0m5 0h0m36 0h0m32 0h0m7 0h0m-35 1h0m-39 1h0m47 0h0m-35 2h0m18 0h0m-17 1h0m34 0h0m-28 1h0m5 1h0m-15 1h0m36 0h0m3 0h0m-4 1h0m37 0h0m-89 3h0m21 0h0m42 0h0m1 0h0m-74 1h0m19 0h0m67 0h0m3 0h0m-40 1h0m6 0h0m-40 2h0m54 0h0m-49 1h0m8 0h0m47 1h0m18 0h0m-34 1h0m-19 1h0m-9 1h0m35 0h0m27 0h0m-63 1h0m58 1h0m-63 2h0m26 1h0m0 2h0m3 0h0m31 0h0m-68 1h0m7 0h0m6 0h0m44 1h0m-54 1h0m4 1h0m4 0h0m24 0h0m2 6h0m8 0h0m-41 1h0m53 0h0m-23 2h0m-9 1h0m-17 1h0m17 1h0m12 5h0"/><path id="Lblob9" d="M149 75h0m-28 3h0m26 0h0m-8 1h0m-32 1h0m25 1h0m25 0h0m-41 1h0m-4 2h0m6 0h0m5 1h0m5 0h0m10 0h0m-16 1h0m6 0h0m23 0h0m-10 1h0m-34 1h0m38 2h0m-8 2h0m-8 1h0m-45 1h0m35 0h0m-35 1h0m1 0h0m7 0h0m36 0h0m-5 1h0m18 0h0m12 0h0m-37 1h0m28 0h0m-4 2h0m25 0h0m-90 1h0m23 0h0m72 0h0m-80 1h0m9 0h0m17 0h0m9 0h0m21 0h0m31 0h0m-27 1h0m21 0h0m3 2h0m-93 1h0m21 1h0m0 0h0m19 0h0m41 0h0m-60 1h0m42 0h0m-54 1h0m19 0h0m8 0h0m-6 2h0m25 0h0m-38 1h0m17 0h0m22 0h0m-25 1h0m39 0h0m-64 3h0m29 0h0m19 0h0m37 0h0m-73 1h0m18 0h0m7 1h0m44 0h0m-51 1h0m26 0h0m-59 1h0m6 0h0m0 0h0m68 0h0m-49 3h0m11 0h0m2 0h0m24 0h0m2 0h0m-40 1h0m1 0h0m-12 1h0m59 0h0m8 0h0m-24 1h0m23 0h0m2 0h0m-54 1h0m19 0h0m3 0h0m35 0h0m-55 1h0m4 0h0m-4 1h0m2 0h0m-27 1h0m78 0h0m-77 2h0m56 0h0m-13 1h0m-19 1h0m19 2h0m-28 1h0m27 0h0m17 0h0m-55 1h0m8 0h0m6 1h0m5 0h0m34 3h0m-6 1h0m-37 1h0m41 0h0m-3 1h0m-7 1h0m-10 1h0"/><path id="Lblob10" d="M142 76h0m-10 1h0m-35 3h0m62 0h0m-50 1h0m13 3h0m40 1h0m-54 1h0m46 0h0m14 2h0m-74 1h0m41 0h0m15 0h0m-48 1h0m13 0h0m11 1h0m21 0h0m-50 1h0m-10 1h0m74 0h0m9 0h0m-57 1h0m40 1h0m17 1h0m-52 1h0m-28 2h0m53 0h0m4 1h0m-55 1h0m4 0h0m24 0h0m23 0h0m2 0h0m17 0h0m-83 1h0m28 0h0m5 0h0m25 0h0m-46 2h0m70 1h0m-30 1h0m7 0h0m16 1h0m-73 1h0m36 0h0m52 0h0m-80 2h0m19 0h0m10 0h0m-32 1h0m66 0h0m2 0h0m-27 1h0m47 0h0m-86 1h0m50 0h0m6 0h0m18 0h0m-56 1h0m3 0h0m52 0h0m-22 1h0m-45 1h0m33 0h0m34 0h0m-65 1h0m78 0h0m3 1h0m-18 1h0m7 0h0m-20 1h0m-4 1h0m-26 1h0m-39 1h0m39 0h0m2 0h0m32 0h0m-64 1h0m65 2h0m14 2h0m-53 1h0m9 1h0m12 0h0m4 0h0m-10 1h0m-1 1h0m-39 1h0m25 0h0m15 2h0m11 0h0m10 0h0m10 2h0m-60 1h0m11 0h0m1 1h0m23 0h0m9 0h0m11 0h0m-3 1h0m-26 2h0m12 1h0m-15 3h0m4 0h0"/><path id="Lblob11" d="M132 70h0m4 0h0m-11 5h0m-14 4h0m44 3h0m-42 1h0m37 1h0m-28 1h0m17 0h0m-9 1h0m-42 1h0m75 0h0m-22 2h0m32 0h0m-46 1h0m23 0h0m-22 1h0m-46 1h0m17 1h0m44 0h0m-55 2h0m23 1h0m37 0h0m5 0h0m-60 1h0m4 0h0m23 0h0m5 0h0m8 0h0m8 0h0m30 0h0m-43 2h0m-30 1h0m44 0h0m3 2h0m-22 2h0m-6 1h0m33 2h0m-74 2h0m22 0h0m39 1h0m-17 1h0m32 0h0m-61 1h0m80 1h0m-37 1h0m41 0h0m-100 1h0m4 0h0m25 1h0m68 0h0m-83 1h0m28 0h0m12 0h0m32 0h0m3 0h0m-71 2h0m79 0h0m-77 1h0m10 0h0m15 0h0m12 0h0m23 0h0m-59 1h0m7 0h0m22 0h0m48 0h0m-81 1h0m9 0h0m9 0h0m54 0h0m-17 2h0m-15 1h0m13 0h0m-1 1h0m-7 1h0m-17 1h0m-4 1h0m35 0h0m12 0h0m-66 1h0m13 0h0m17 0h0m23 0h0m-35 1h0m15 0h0m13 1h0m4 0h0m-57 1h0m64 0h0m12 0h0m-26 2h0m-40 1h0m41 0h0m-22 2h0m10 2h0m2 2h0m-14 3h0m6 0h0m-5 1h0"/></g><g id="Llow"><path id="Llow0" d="M71 132h0m0 2h0m18 0h0m-20 1h0m22 1h0m4 1h0m76 0h0m-75 1h0m74 0h0m-92 1h0m16 0h0m78 0h0m-87 1h0m9 0h0m95 0h0m-129 1h0m28 1h0m-16 2h0m102 0h0m-101 1h0m21 0h0m18 1h0m62 0h0m-104 1h0m3 0h0m21 0h0m37 0h0m-59 1h0m41 0h0m-7 1h0m40 0h0m9 1h0m3 0h0m16 0h0m-89 1h0m12 0h0m8 0h0m51 0h0m-82 1h0m88 0h0m-65 1h0m37 0h0m15 0h0m2 0h0m-47 1h0m47 0h0m-71 1h0m23 0h0m-32 2h0m6 0h0m2 0h0m88 0h0m12 0h0m-84 1h0m58 0h0m-52 1h0m-29 1h0m10 0h0m-3 2h0m15 0h0m58 0h0m-72 2h0m-2 3h0m102 1h0m-57 1h0m56 0h0m-85 1h0m33 1h0m58 0h0m-107 2h0m25 1h0m47 1h0m16 0h0m-68 1h0m26 0h0m20 1h0m-27 1h0m40 1h0m24 0h0m-7 1h0m-95 1h0m69 1h0m7 0h0m-61 1h0m58 1h0m12 0h0m7 1h0m-66 1h0m46 0h0m-60 1h0m41 1h0m41 0h0m-68 3h0m6 1h0m22 0h0m6 1h0m12 0h0m0 3h0m-1 1h0m26 0h0m-24 1h0m-45 1h0m53 0h0m-54 1h0m9 0h0m13 0h0m36 5h0"/><path id="Llow1" d="M87 132h0m-16 3h0m103 3h0m-109 1h0m11 1h0m22 1h0m-28 1h0m25 0h0m12 1h0m32 1h0m-73 1h0m17 0h0m-5 2h0m6 0h0m8 0h0m13 1h0m60 0h0m-81 1h0m-18 1h0m60 0h0m14 0h0m-58 1h0m21 0h0m59 0h0m-76 1h0m34 0h0m18 0h0m-51 1h0m75 0h0m2 1h0m13 0h0m-94 1h0m17 1h0m8 1h0m-18 1h0m-13 1h0m10 0h0m96 0h0m-92 1h0m75 2h0m-91 1h0m95 0h0m-69 1h0m12 0h0m54 0h0m-95 1h0m63 0h0m-62 1h0m14 0h0m39 1h0m2 0h0m-28 1h0m-9 1h0m44 0h0m-29 1h0m63 1h0m16 2h0m-64 1h0m3 1h0m39 2h0m-78 2h0m86 0h0m-28 1h0m11 0h0m13 0h0m-40 2h0m1 0h0m-27 3h0m13 0h0m48 0h0m21 0h0m-52 2h0m9 0h0m27 3h0m-38 3h0m-39 1h0m55 1h0m-15 1h0m13 1h0m-27 1h0m5 0h0m22 0h0m-5 1h0m-26 4h0"/><path id="Llow2" d="M66 135h0m23 0h0m74 0h0m17 0h0m-88 2h0m-9 2h0m10 2h0m67 0h0m14 0h0m-93 2h0m97 0h0m-103 1h0m36 0h0m-45 1h0m57 1h0m28 0h0m-77 1h0m6 0h0m-1 2h0m8 0h0m37 0h0m30 0h0m-78 1h0m18 0h0m68 0h0m-69 1h0m6 0h0m21 0h0m-43 2h0m70 0h0m-63 1h0m18 0h0m15 0h0m39 0h0m26 0h0m-18 2h0m-17 1h0m-69 1h0m10 0h0m3 3h0m-11 1h0m27 0h0m-5 1h0m53 1h0m-33 2h0m-3 1h0m65 0h0m-66 1h0m21 0h0m41 2h0m-50 1h0m28 0h0m-28 2h0m-46 1h0m102 0h0m-97 1h0m56 0h0m5 0h0m16 0h0m-36 1h0m-11 1h0m21 0h0m26 0h0m-32 1h0m-36 1h0m-20 2h0m89 0h0m8 1h0m11 1h0m2 0h0m-8 4h0m-49 1h0m38 0h0m-77 1h0m19 0h0m6 0h0m24 1h0m-1 1h0m-24 2h0m-29 2h0m16 0h0m22 0h0m16 0h0m1 2h0m2 0h0m-25 1h0m-14 3h0m48 1h0"/><path id="Llow3" d="M73 127h0m97 7h0m1 1h0m-99 2h0m10 0h0m84 1h0m-79 4h0m86 0h0m7 0h0m-21 1h0m-92 1h0m94 0h0m-75 1h0m82 1h0m-91 2h0m31 0h0m-30 1h0m43 0h0m31 0h0m-38 1h0m32 0h0m-51 1h0m20 0h0m35 1h0m25 1h0m-98 1h0m41 0h0m19 0h0m-57 1h0m21 0h0m66 0h0m-94 1h0m88 0h0m11 0h0m5 1h0m-42 1h0m17 0h0m-70 1h0m21 0h0m9 1h0m70 0h0m0 1h0m-99 1h0m62 0h0m6 3h0m-23 1h0m39 0h0m-13 1h0m-34 1h0m1 0h0m-20 1h0m63 0h0m-35 2h0m42 0h0m-15 1h0m-53 1h0m81 0h0m-52 2h0m53 2h0m-6 1h0m-78 1h0m24 0h0m-7 1h0m55 0h0m7 1h0m-88 1h0m92 1h0m-23 2h0m-79 1h0m55 1h0m35 1h0m-52 2h0m16 0h0m-45 2h0m8 1h0m7 0h0m41 0h0m-32 1h0m15 0h0m-9 2h0m27 0h0m-26 3h0m-17 1h0m22 0h0m19 0h0m-16 2h0"/><path id="Llow4" d="M84 131h0m-8 3h0m-1 1h0m16 1h0m-15 1h0m14 0h0m-19 1h0m23 1h0m-13 1h0m75 0h0m17 1h0m-10 1h0m-71 1h0m3 0h0m-15 1h0m3 0h0m11 0h0m-17 1h0m84 0h0m-60 3h0m14 0h0m59 0h0m6 2h0m-95 1h0m6 0h0m2 0h0m58 1h0m-64 1h0m0 0h0m-2 1h0m43 0h0m59 0h0m-28 1h0m-73 1h0m11 0h0m8 0h0m5 0h0m18 0h0m-46 1h0m15 0h0m17 2h0m17 0h0m-28 1h0m-27 1h0m12 0h0m87 0h0m-15 1h0m3 0h0m-4 1h0m-63 1h0m42 0h0m11 1h0m31 0h0m11 2h0m-62 1h0m20 1h0m-28 1h0m-25 1h0m78 0h0m-84 1h0m6 0h0m26 0h0m11 2h0m28 0h0m-69 1h0m49 0h0m-14 1h0m42 2h0m-27 3h0m-28 1h0m60 0h0m-43 1h0m50 0h0m-88 2h0m66 3h0m4 0h0m-44 2h0m39 0h0m-4 2h0m-49 3h0m60 0h0m-35 2h0m13 0h0m17 1h0m-34 1h0m5 0h0m-10 1h0m23 2h0m5 1h0"/><path id="Llow5" d="M81 130h0m2 3h0m5 0h0m82 1h0m-99 2h0m7 1h0m81 0h0m3 2h0m-1 1h0m-69 1h0m74 0h0m-87 1h0m18 0h0m74 0h0m-70 1h0m-8 1h0m-4 2h0m-6 1h0m37 0h0m25 0h0m24 0h0m-55 1h0m20 0h0m-65 1h0m23 0h0m52 0h0m-68 1h0m39 0h0m56 0h0m15 0h0m-118 1h0m14 0h0m99 0h0m9 0h0m-91 1h0m-28 2h0m9 1h0m97 0h0m10 0h0m-67 1h0m3 0h0m-39 1h0m1 0h0m25 0h0m17 0h0m13 0h0m25 0h0m-86 2h0m-2 2h0m86 2h0m-80 1h0m65 0h0m-36 1h0m8 0h0m67 3h0m-7 1h0m-28 5h0m25 3h0m-92 1h0m19 2h0m54 0h0m-10 2h0m8 0h0m-75 1h0m18 1h0m9 1h0m32 0h0m13 1h0m-38 1h0m-29 1h0m83 0h0m-63 2h0m4 0h0m28 1h0m-12 4h0m41 0h0m-40 2h0m26 0h0m-44 1h0m33 1h0m-6 1h0m15 0h0m-27 1h0m-9 2h0m-2 3h0m4 1h0"/><path id="Llow6" d="M174 132h0m-7 2h0m5 0h0m-96 1h0m11 1h0m1 2h0m97 0h0m-24 1h0m-78 2h0m12 1h0m-17 1h0m-7 2h0m16 0h0m3 1h0m3 0h0m5 0h0m-30 1h0m36 0h0m-17 1h0m8 0h0m-31 1h0m50 0h0m32 0h0m-64 2h0m107 0h0m-97 2h0m92 0h0m-108 1h0m72 0h0m17 0h0m-58 1h0m28 0h0m42 0h0m-71 2h0m24 0h0m-12 1h0m22 0h0m17 1h0m21 1h0m-51 1h0m-23 1h0m60 0h0m-88 1h0m60 0h0m4 0h0m48 0h0m-45 3h0m-51 1h0m4 0h0m1 0h0m47 1h0m-69 4h0m48 1h0m28 0h0m-4 1h0m-59 1h0m-9 1h0m38 0h0m10 0h0m27 0h0m-64 1h0m49 1h0m38 0h0m3 1h0m-87 1h0m38 0h0m3 0h0m1 1h0m13 0h0m-33 2h0m32 0h0m14 0h0m19 0h0m-70 1h0m10 2h0m7 0h0m23 1h0m26 0h0m-71 1h0m35 1h0m6 2h0m-6 1h0m-30 2h0m12 0h0m9 0h0m8 2h0m27 0h0m-42 2h0m17 2h0m-12 2h0m-15 1h0"/><path id="Llow7" d="M82 133h0m-4 2h0m3 0h0m-9 1h0m20 1h0m-30 1h0m109 0h0m-72 2h0m-18 2h0m73 0h0m-60 1h0m-13 1h0m86 0h0m-67 1h0m45 0h0m-56 1h0m4 0h0m45 0h0m17 0h0m9 0h0m9 0h0m9 0h0m-111 1h0m2 0h0m18 0h0m4 0h0m12 0h0m-28 1h0m37 0h0m-27 1h0m-21 1h0m26 0h0m3 0h0m63 0h0m-15 1h0m-63 1h0m94 0h0m-97 1h0m4 0h0m11 0h0m60 0h0m33 0h0m-111 1h0m25 0h0m2 1h0m6 0h0m16 0h0m4 0h0m-51 2h0m81 0h0m0 0h0m-55 1h0m16 0h0m-19 1h0m-9 1h0m38 0h0m-38 1h0m93 0h0m-76 1h0m78 0h0m-79 1h0m33 0h0m43 0h0m-17 1h0m-69 1h0m14 0h0m49 0h0m-86 2h0m19 0h0m4 0h0m93 0h0m0 0h0m-106 2h0m2 0h0m1 0h0m3 0h0m15 0h0m24 0h0m46 0h0m-77 1h0m53 1h0m-81 1h0m1 0h0m33 0h0m55 0h0m23 0h0m7 1h0m-74 1h0m13 2h0m-55 1h0m87 0h0m-43 2h0m5 3h0m30 0h0m-32 1h0m45 0h0m-11 1h0m15 1h0m-27 1h0m27 2h0m-73 4h0m54 0h0m-20 1h0m-30 1h0m17 0h0m3 3h0m4 1h0m8 1h0m1 0h0m32 0h0m-40 2h0m-15 4h0m15 1h0m14 0h0"/><path id="Llow8" d="M81 127h0m4 4h0m-2 1h0m2 0h0m-3 1h0m0 0h0m7 4h0m-5 1h0m-6 2h0m11 2h0m1 0h0m10 0h0m-35 2h0m29 0h0m70 0h0m-94 1h0m29 0h0m15 0h0m22 0h0m4 0h0m-19 1h0m-10 1h0m-21 1h0m-3 1h0m33 0h0m16 0h0m39 0h0m-47 1h0m-51 1h0m30 1h0m3 0h0m73 0h0m4 0h0m-60 1h0m-37 1h0m-9 2h0m76 0h0m-72 1h0m12 0h0m1 0h0m0 0h0m15 0h0m15 0h0m-55 1h0m21 0h0m45 1h0m-67 2h0m83 0h0m-76 1h0m16 0h0m55 0h0m-22 1h0m-34 1h0m81 0h0m-60 3h0m15 0h0m-16 1h0m22 0h0m-24 1h0m62 0h0m-81 2h0m7 0h0m80 0h0m-10 1h0m-91 2h0m59 1h0m29 0h0m-92 1h0m68 1h0m23 0h0m-14 1h0m25 0h0m-100 1h0m110 0h0m-85 1h0m-4 1h0m75 2h0m-58 2h0m-15 1h0m9 1h0m45 1h0m-25 1h0m-25 1h0m19 0h0m-32 1h0m51 0h0m-23 3h0m42 0h0m-59 1h0m22 0h0m10 2h0m-13 2h0m-22 3h0m41 0h0m-31 3h0"/><path id="Llow9" d="M68 129h0m5 4h0m11 0h0m-21 2h0m15 5h0m4 2h0m2 1h0m15 0h0m54 0h0m-53 1h0m6 0h0m1 0h0m9 0h0m27 0h0m27 0h0m-92 1h0m35 1h0m-40 1h0m49 0h0m61 0h0m-84 2h0m-24 1h0m9 0h0m97 0h0m-96 1h0m0 1h0m47 0h0m-57 1h0m32 0h0m42 1h0m-62 2h0m4 0h0m54 0h0m-44 1h0m-22 1h0m85 0h0m-70 2h0m93 2h0m-61 1h0m-19 1h0m39 0h0m-21 1h0m47 0h0m-15 1h0m-56 2h0m41 1h0m-66 1h0m55 0h0m33 0h0m6 0h0m13 0h0m-86 1h0m37 0h0m-40 1h0m7 0h0m7 0h0m32 0h0m-27 2h0m65 0h0m10 0h0m-100 1h0m46 1h0m45 0h0m-75 1h0m14 0h0m11 0h0m25 0h0m17 0h0m2 0h0m-62 1h0m30 0h0m11 1h0m5 0h0m-37 3h0m48 1h0m-54 1h0m45 0h0m-77 1h0m60 0h0m-48 1h0m-4 1h0m33 1h0m41 1h0m-38 1h0m10 3h0m33 1h0m-52 1h0m29 0h0m9 0h0m-7 1h0m24 0h0m-68 1h0m23 0h0m35 0h0m-65 1h0m27 0h0m13 0h0m-18 1h0m39 0h0m-24 2h0m-7 3h0m7 2h0"/><path id="Llow10" d="M85 134h0m-14 1h0m10 0h0m1 1h0m-12 3h0m6 0h0m6 0h0m-15 1h0m36 1h0m-28 1h0m1 0h0m-13 1h0m24 1h0m-7 1h0m1 0h0m96 1h0m-88 2h0m-13 1h0m2 0h0m15 2h0m15 2h0m2 0h0m4 0h0m-29 1h0m-10 1h0m24 0h0m19 0h0m16 0h0m19 0h0m22 1h0m3 0h0m-101 1h0m75 0h0m26 0h0m-81 1h0m9 0h0m-3 1h0m-26 1h0m98 0h0m-38 1h0m-31 1h0m36 0h0m11 0h0m-77 1h0m26 0h0m93 0h0m-60 1h0m-22 1h0m14 0h0m-51 1h0m74 0h0m12 2h0m-28 1h0m10 0h0m-38 1h0m11 1h0m-26 1h0m28 0h0m34 0h0m-78 1h0m20 0h0m-19 3h0m91 1h0m20 0h0m-28 3h0m-78 2h0m12 0h0m35 1h0m11 1h0m-11 1h0m-43 2h0m76 0h0m-53 1h0m28 0h0m-37 1h0m14 0h0m15 0h0m-27 1h0m0 0h0m42 0h0m18 3h0m-10 1h0m9 0h0m-38 2h0m1 0h0m0 2h0m-15 1h0m11 4h0"/><path id="Llow11" d="M81 131h0m-8 3h0m96 2h0m-80 1h0m73 0h0m2 0h0m12 0h0m1 0h0m-113 2h0m30 0h0m-19 2h0m2 0h0m6 0h0m13 2h0m5 0h0m-19 1h0m-9 1h0m5 0h0m1 0h0m4 0h0m20 0h0m60 0h0m-59 1h0m3 0h0m1 2h0m18 0h0m27 0h0m-83 1h0m8 0h0m57 0h0m21 0h0m25 0h0m-95 1h0m11 1h0m42 0h0m-50 1h0m7 0h0m2 0h0m-28 1h0m5 0h0m30 0h0m38 0h0m-59 1h0m21 0h0m14 1h0m6 0h0m-26 1h0m44 0h0m13 0h0m34 0h0m-93 1h0m57 0h0m-80 1h0m9 0h0m14 0h0m65 0h0m8 0h0m-79 1h0m-20 1h0m32 0h0m-22 1h0m84 0h0m-66 1h0m80 0h0m-77 1h0m65 0h0m-53 3h0m26 0h0m-15 1h0m17 0h0m7 0h0m35 0h0m-96 1h0m55 1h0m27 0h0m-9 1h0m26 0h0m-86 1h0m23 0h0m-30 2h0m89 0h0m-72 1h0m44 1h0m-3 1h0m33 0h0m-110 1h0m106 0h0m-84 2h0m79 1h0m-83 1h0m57 0h0m-57 2h0m30 0h0m23 0h0m-5 1h0m-46 1h0m62 0h0m-60 1h0m-13 1h0m71 0h0m-46 1h0m40 0h0m24 0h0m-51 1h0m21 0h0m16 1h0m-5 1h0m14 0h0m-66 1h0m57 2h0m-46 2h0m-18 1h0m63 0h0m-53 1h0m66 0h0m-25 3h0m-28 3h0"/></g><g id="Larm"><path id="Larm0" d="M212 27h0m11 0h0m-3 1h0m11 0h0m-10 2h0m3 3h0m-18 1h0m-15 3h0m3 0h0m13 0h0m4 1h0m7 2h0m-32 1h0m17 0h0m15 1h0m-43 4h0m17 0h0m32 0h0m-3 1h0m2 1h0m-2 1h0m-15 1h0m-16 2h0m13 0h0m10 0h0m-34 2h0m17 0h0m5 1h0m-8 4h0m-3 2h0m-20 5h0m12 0h0m-17 3h0m3 8h0"/><path id="Larm1" d="M226 23h0m-2 1h0m-5 3h0m-8 4h0m2 0h0m3 0h0m-25 1h0m17 1h0m6 2h0m9 0h0m-12 1h0m5 0h0m-16 5h0m23 0h0m-27 1h0m4 1h0m28 0h0m-18 1h0m11 0h0m8 1h0m-42 2h0m-4 3h0m-3 1h0m8 1h0m17 0h0m2 0h0m-27 2h0m10 1h0m26 0h0m-25 1h0m-16 2h0m8 0h0m24 1h0m-7 2h0m-23 1h0m19 1h0m-20 3h0m-13 4h0m6 2h0"/><path id="Larm2" d="M214 27h0m7 1h0m5 3h0m-14 3h0m6 0h0m3 0h0m10 1h0m-35 2h0m14 0h0m4 1h0m-10 1h0m19 0h0m-34 1h0m2 0h0m-3 3h0m-12 2h0m40 0h0m1 1h0m-34 1h0m8 0h0m15 1h0m-7 2h0m-20 1h0m40 1h0m-20 4h0m-20 1h0m26 0h0m-23 4h0m-2 2h0m1 3h0m-11 6h0m-3 3h0"/><path id="Larm3" d="M211 29h0m3 0h0m8 1h0m-10 2h0m-12 2h0m28 2h0m-12 1h0m-18 1h0m4 0h0m29 1h0m-37 2h0m15 0h0m3 1h0m-28 1h0m31 0h0m6 0h0m-26 1h0m-13 1h0m6 1h0m0 1h0m-5 1h0m23 0h0m14 1h0m-36 3h0m14 1h0m12 0h0m-19 1h0m7 0h0m7 0h0m-30 1h0m-1 2h0m8 0h0m-2 2h0m-5 1h0m30 1h0m-20 1h0m-7 1h0m17 1h0m-23 3h0m-1 3h0"/><path id="Larm4" d="M210 28h0m8 1h0m2 1h0m-11 2h0m12 3h0m-29 1h0m34 0h0m-23 2h0m-13 3h0m21 1h0m-21 1h0m17 3h0m1 0h0m18 0h0m-10 1h0m6 1h0m-10 1h0m-31 1h0m6 0h0m6 0h0m8 2h0m-9 1h0m4 0h0m-22 1h0m5 2h0m6 1h0m25 0h0m6 0h0m-43 1h0m17 3h0m-17 2h0m12 1h0m-17 1h0m5 1h0m2 7h0m-4 5h0"/><path id="Larm5" d="M218 26h0m12 0h0m-20 3h0m-3 5h0m26 2h0m-7 2h0m4 0h0m-28 1h0m15 0h0m8 1h0m0 0h0m2 1h0m-46 1h0m49 0h0m-45 1h0m2 0h0m43 1h0m-14 3h0m4 0h0m-36 2h0m25 0h0m2 0h0m-1 1h0m1 0h0m2 0h0m-40 2h0m1 0h0m9 1h0m28 0h0m-5 1h0m-20 3h0m7 0h0m3 0h0m-11 1h0m-9 1h0m14 1h0m-5 1h0m-5 2h0m2 0h0m-11 1h0m7 1h0m2 1h0m-1 3h0m-7 2h0m2 6h0"/><path id="Larm6" d="M207 27h0m10 4h0m-12 1h0m12 1h0m-13 2h0m-10 4h0m30 2h0m-12 1h0m-26 2h0m-7 2h0m35 0h0m-14 1h0m-26 1h0m49 2h0m-16 1h0m-9 2h0m25 0h0m-41 1h0m11 1h0m7 0h0m-2 2h0m-24 1h0m12 0h0m11 0h0m-19 1h0m8 3h0m11 0h0m-30 5h0m4 0h0"/><path id="Larm7" d="M211 29h0m5 2h0m12 0h0m-12 2h0m5 2h0m-34 3h0m8 0h0m8 0h0m14 0h0m-16 2h0m4 0h0m3 0h0m3 0h0m7 2h0m-13 2h0m-21 1h0m0 0h0m38 0h0m-22 1h0m7 1h0m-19 1h0m0 0h0m35 1h0m1 0h0m-31 2h0m16 0h0m-10 1h0m10 0h0m6 0h0m-26 2h0m9 0h0m22 0h0m-22 1h0m0 0h0m2 1h0m13 1h0m-34 1h0m8 0h0m-13 3h0m7 0h0m2 0h0m6 0h0m-5 3h0m-7 1h0m-3 2h0m-1 5h0"/><path id="Larm8" d="M217 26h0m-12 2h0m-3 5h0m-4 1h0m9 0h0m1 0h0m5 5h0m-33 2h0m13 3h0m-6 2h0m12 2h0m-7 2h0m1 1h0m1 0h0m15 0h0m-17 3h0m15 0h0m2 1h0m-22 1h0m-15 1h0m5 0h0m21 0h0m8 0h0m5 0h0m-32 1h0m30 1h0m-30 1h0m26 1h0m-28 1h0m5 2h0m6 1h0m-12 3h0m0 8h0"/><path id="Larm9" d="M210 25h0m12 3h0m7 2h0m-28 2h0m19 3h0m5 0h0m-2 2h0m-30 1h0m3 0h0m-5 2h0m5 2h0m20 1h0m-32 1h0m12 0h0m30 0h0m-39 2h0m31 1h0m6 0h0m-28 1h0m9 0h0m17 0h0m-18 1h0m-4 1h0m-22 2h0m21 0h0m8 5h0m-37 2h0m5 0h0m19 0h0m7 0h0m-29 3h0m17 0h0m-2 2h0m-12 1h0m-9 1h0m10 1h0m-1 5h0m-12 4h0"/><path id="Larm10" d="M209 27h0m14 2h0m-16 1h0m13 0h0m-10 1h0m12 0h0m5 1h0m-23 1h0m22 0h0m-24 2h0m3 0h0m23 2h0m-32 2h0m18 0h0m-7 3h0m0 2h0m1 0h0m-20 1h0m37 0h0m-37 1h0m30 0h0m-23 1h0m16 1h0m6 0h0m-29 2h0m19 0h0m-30 1h0m-5 2h0m37 0h0m-13 1h0m18 0h0m-38 1h0m31 0h0m-4 1h0m5 0h0m-23 1h0m6 1h0m-13 1h0m31 0h0m-38 1h0m34 0h0m-27 1h0m12 0h0m-6 1h0m2 2h0m-13 2h0m-12 8h0m4 0h0"/><path id="Larm11" d="M220 27h0m8 4h0m-4 1h0m2 0h0m-28 1h0m29 0h0m-3 1h0m-11 1h0m13 0h0m6 0h0m-35 1h0m33 0h0m-22 1h0m-14 1h0m2 0h0m-3 1h0m15 0h0m1 0h0m14 1h0m-10 3h0m-24 2h0m-7 1h0m27 0h0m-5 1h0m16 0h0m-4 1h0m-10 3h0m-3 1h0m4 0h0m2 0h0m6 0h0m-34 5h0m17 1h0m-25 1h0m9 5h0m9 0h0m-11 2h0m-8 3h0m-6 2h0m0 8h0"/></g><g id="Lllc"><path id="Lllc0" d="M75 149h0m-10 9h0m12 1h0m-37 1h0m13 0h0m31 0h0m-42 1h0m17 1h0m-2 1h0m-21 2h0m10 0h0m6 0h0m-27 1h0m21 1h0m-15 1h0m46 0h0m2 0h0m-56 1h0m32 1h0m-24 4h0m22 1h0m14 0h0m-41 1h0m5 1h0m1 0h0m10 0h0m-8 1h0m1 0h0m6 1h0m23 1h0m-32 1h0m-11 2h0m3 0h0m26 0h0m-37 1h0m27 2h0m20 1h0m-41 1h0m34 0h0m3 0h0m-33 2h0m12 1h0m-9 2h0m16 3h0m7 7h0m-5 7h0m1 1h0m8 0h0m-1 4h0m4 5h0m3 3h0"/><path id="Lllc1" d="M74 153h0m-7 1h0m6 0h0m-4 1h0m4 8h0m-22 1h0m-9 1h0m15 1h0m16 0h0m-5 1h0m13 2h0m-60 1h0m55 0h0m0 2h0m-19 2h0m-31 3h0m1 1h0m31 0h0m-39 1h0m16 1h0m9 0h0m19 2h0m-41 3h0m-2 3h0m32 0h0m5 0h0m6 0h0m-17 1h0m-14 1h0m18 1h0m-28 1h0m20 0h0m8 0h0m5 0h0m4 0h0m-33 2h0m-3 1h0m8 1h0m13 3h0m4 1h0m4 0h0m-14 1h0m-3 2h0m13 3h0m-4 1h0m7 6h0m14 0h0m3 4h0"/><path id="Lllc2" d="M89 151h0m-16 6h0m12 0h0m-38 2h0m40 0h0m-42 2h0m33 0h0m4 0h0m-52 1h0m2 0h0m9 0h0m11 0h0m-17 1h0m-5 3h0m-2 2h0m-10 1h0m60 0h0m-35 1h0m-16 1h0m28 0h0m15 0h0m-41 1h0m36 1h0m6 0h0m-16 1h0m-32 1h0m17 0h0m6 0h0m10 0h0m16 0h0m-25 3h0m14 0h0m-40 1h0m12 0h0m2 3h0m14 0h0m-22 1h0m-11 1h0m6 5h0m22 1h0m-18 2h0m3 2h0m19 6h0m-13 1h0m12 0h0m7 6h0"/><path id="Lllc3" d="M82 153h0m-3 2h0m-30 7h0m-8 1h0m37 0h0m-22 1h0m30 0h0m-48 1h0m37 0h0m-18 2h0m-30 1h0m0 0h0m21 3h0m12 0h0m-45 1h0m3 4h0m30 1h0m3 1h0m-27 1h0m-2 1h0m17 0h0m4 2h0m15 0h0m-28 1h0m-3 2h0m-9 1h0m14 0h0m-4 1h0m31 0h0m4 5h0m-14 5h0m1 1h0m-6 3h0m-2 5h0m10 8h0m11 2h0m-3 1h0m-2 2h0"/><path id="Lllc4" d="M78 150h0m4 2h0m-41 6h0m31 0h0m0 3h0m-9 1h0m-35 1h0m26 0h0m5 0h0m14 1h0m-40 2h0m13 0h0m13 2h0m20 0h0m-59 2h0m4 0h0m14 0h0m22 1h0m2 1h0m-22 1h0m31 0h0m-41 1h0m-1 3h0m3 0h0m-12 1h0m38 1h0m5 1h0m-36 3h0m19 0h0m-19 3h0m3 1h0m20 0h0m-33 2h0m24 0h0m-27 1h0m20 5h0m7 0h0m17 1h0m-37 1h0m16 0h0m-10 1h0m2 2h0m5 0h0m23 10h0m7 10h0m-4 2h0"/><path id="Lllc5" d="M78 145h0m-54 14h0m35 0h0m-7 1h0m-22 1h0m46 1h0m-43 1h0m25 0h0m1 0h0m16 0h0m-18 1h0m10 1h0m10 0h0m-26 1h0m16 0h0m-19 1h0m14 0h0m-18 1h0m18 0h0m5 0h0m-48 1h0m32 0h0m14 0h0m-46 2h0m2 0h0m50 0h0m-45 1h0m18 1h0m9 1h0m0 1h0m10 1h0m5 0h0m-54 1h0m32 0h0m16 3h0m-8 1h0m-21 3h0m17 0h0m-18 1h0m6 1h0m13 1h0m-16 1h0m18 0h0m-10 6h0m5 2h0m-1 3h0m-14 1h0m15 5h0m8 4h0m0 6h0m-1 1h0"/><path id="Lllc6" d="M86 153h0m-3 2h0m-50 2h0m42 0h0m-7 1h0m-31 1h0m-11 1h0m17 0h0m10 2h0m-23 1h0m7 0h0m4 0h0m41 0h0m-58 1h0m32 1h0m2 0h0m-1 1h0m17 1h0m-25 1h0m-9 2h0m9 1h0m0 1h0m-9 1h0m-18 1h0m43 0h0m-26 2h0m-26 2h0m46 1h0m-40 1h0m6 1h0m19 0h0m15 1h0m-20 3h0m-13 2h0m32 0h0m-22 3h0m-7 1h0m18 0h0m4 0h0m-8 4h0m2 0h0m-12 1h0m-8 3h0m6 0h0m12 0h0m-6 2h0m8 4h0m8 5h0m-14 2h0m18 1h0"/><path id="Lllc7" d="M73 152h0m-31 5h0m-9 5h0m44 4h0m-33 1h0m20 0h0m-37 3h0m0 1h0m26 0h0m20 0h0m-28 2h0m-17 1h0m0 3h0m24 1h0m-42 1h0m42 0h0m-2 2h0m8 2h0m3 0h0m-23 2h0m10 0h0m14 0h0m-25 2h0m-6 1h0m-10 1h0m3 0h0m-3 4h0m16 1h0m9 5h0m-4 1h0m3 2h0m11 18h0"/><path id="Lllc8" d="M31 164h0m36 0h0m5 1h0m-39 2h0m22 0h0m3 0h0m4 0h0m11 2h0m-51 1h0m9 0h0m29 0h0m15 1h0m-17 1h0m18 1h0m-19 1h0m-27 1h0m35 0h0m0 3h0m-51 2h0m5 1h0m7 2h0m-4 1h0m15 0h0m20 1h0m-40 1h0m5 0h0m41 0h0m-13 1h0m-28 2h0m1 0h0m5 0h0m-4 3h0m2 0h0m9 3h0m-3 1h0m-2 3h0m6 1h0m13 0h0m-16 2h0m6 2h0m10 3h0m3 0h0m-1 6h0m10 2h0"/><path id="Lllc9" d="M74 154h0m-5 1h0m10 0h0m-34 4h0m3 1h0m7 2h0m2 0h0m9 0h0m-10 2h0m16 1h0m-37 1h0m27 0h0m20 0h0m-55 1h0m28 0h0m-33 1h0m31 0h0m19 0h0m2 0h0m-47 2h0m6 0h0m12 0h0m14 0h0m6 1h0m14 1h0m-40 2h0m-21 1h0m18 4h0m11 0h0m-22 2h0m41 0h0m-25 2h0m17 2h0m6 0h0m-36 1h0m0 3h0m8 0h0m18 1h0m4 1h0m-19 1h0m1 0h0m4 5h0m6 8h0m3 0h0m-11 3h0m17 4h0m5 1h0m-2 1h0m-6 1h0m-3 2h0m5 0h0m-11 2h0m12 4h0"/><path id="Lllc10" d="M78 152h0m-46 3h0m33 0h0m9 1h0m-4 4h0m-30 1h0m29 0h0m-35 1h0m51 0h0m-41 1h0m5 0h0m31 0h0m-37 1h0m8 0h0m3 0h0m-7 1h0m8 1h0m8 1h0m4 0h0m-46 3h0m62 1h0m-62 1h0m46 0h0m5 0h0m-15 2h0m-16 1h0m-12 2h0m4 0h0m-14 2h0m34 1h0m6 1h0m8 0h0m-31 1h0m6 3h0m-19 1h0m-5 1h0m38 0h0m-33 1h0m6 0h0m9 3h0m-15 2h0m4 0h0m21 0h0m4 0h0m-18 3h0m4 1h0m9 0h0m-8 1h0m10 4h0m-5 4h0m9 1h0m7 15h0"/><path id="Lllc11" d="M64 157h0m-16 3h0m3 1h0m-2 3h0m16 0h0m11 0h0m-14 1h0m18 0h0m4 1h0m-47 1h0m4 0h0m17 0h0m6 1h0m-33 1h0m12 0h0m-13 2h0m25 0h0m8 1h0m1 0h0m-20 1h0m36 1h0m-28 1h0m-22 2h0m29 0h0m-29 1h0m15 0h0m-26 4h0m32 0h0m-1 2h0m-23 1h0m24 2h0m-12 1h0m5 0h0m-3 1h0m-12 1h0m10 0h0m4 1h0m-5 1h0m4 1h0m0 2h0m-10 1h0m2 2h0m4 2h0m8 2h0m7 3h0m3 6h0m3 5h0m1 0h0m-1 5h0"/></g><g id="Lscat"><path id="Lscat0" d="M0 0"/><path id="Lscat1" d="M8 186h0"/><path id="Lscat2" d="M302 172h0m4 20h0"/><path id="Lscat3" d="M200 100h0"/><path id="Lscat4" d="M243 199h0"/><path id="Lscat5" d="M256 199h0"/><path id="Lscat6" d="M0 0"/><path id="Lscat7" d="M0 0"/><path id="Lscat8" d="M192 130h0m-18 80h0"/><path id="Lscat9" d="M70 72h0"/><path id="Lscat10" d="M0 0"/><path id="Lscat11" d="M216 182h0"/></g></defs>
<g transform="translate(0.0 0.0) scale(0.5 0.5)" stroke-linecap="round" fill="none"><g opacity="0.3" filter="url(#bl)" stroke-width="5.0"><use href="#Asparse" stroke="#ad9e95"/><use href="#AsparseL" stroke="#ad9e95"/><use href="#Agrey" stroke="#c4bfbf"/><use href="#Abridge" stroke="#ad9e95"/><use href="#Aconn" stroke="#ad9e95"/><use href="#AbigL" stroke="#ad9e95"/><use href="#AbigU" stroke="#ad9e95"/><use href="#AtopL" stroke="#ad9e95"/><use href="#AtopR" stroke="#ad9e95"/><use href="#Amid" stroke="#ad9e95"/><use href="#Aright" stroke="#ad9e95"/><use href="#Abot" stroke="#ad9e95"/></g><g stroke-width="2.1" filter="url(#bd)" opacity="0.75"><use href="#Asparse0" stroke="#7ed3c9"/><use href="#Asparse1" stroke="#d3409a"/><use href="#Asparse2" stroke="#6d9bd3"/><use href="#Asparse3" stroke="#c6d94d"/><use href="#Asparse4" stroke="#c99b55"/><use href="#Asparse5" stroke="#d24b41"/><use href="#Asparse6" stroke="#dda3a1"/><use href="#Asparse7" stroke="#cb93d3"/><use href="#Asparse8" stroke="#73c47e"/><use href="#Asparse9" stroke="#4b3aa3"/><use href="#Asparse10" stroke="#cbe8c2"/><use href="#Asparse11" stroke="#c9e28c"/><use href="#AsparseL0" stroke="#d24b41"/><use href="#AsparseL1" stroke="#dda3a1"/><use href="#AsparseL2" stroke="#cb93d3"/><use href="#AsparseL3" stroke="#73c47e"/><use href="#AsparseL4" stroke="#4b3aa3"/><use href="#AsparseL5" stroke="#cbe8c2"/><use href="#AsparseL6" stroke="#c9e28c"/><use href="#AsparseL7" stroke="#7ed3c9"/><use href="#AsparseL8" stroke="#d3409a"/><use href="#AsparseL9" stroke="#6d9bd3"/><use href="#AsparseL10" stroke="#c6d94d"/><use href="#AsparseL11" stroke="#c99b55"/><use href="#Agrey0" stroke="#c2c2c2"/><use href="#Agrey1" stroke="#c2c2c2"/><use href="#Agrey2" stroke="#c2c2c2"/><use href="#Agrey3" stroke="#c2c2c2"/><use href="#Agrey4" stroke="#c2c2c2"/><use href="#Agrey5" stroke="#c2c2c2"/><use href="#Agrey6" stroke="#c2c2c2"/><use href="#Agrey7" stroke="#c2c2c2"/><use href="#Agrey8" stroke="#c2c2c2"/><use href="#Agrey9" stroke="#c2c2c2"/><use href="#Agrey10" stroke="#c2c2c2"/><use href="#Agrey11" stroke="#dda3a1"/><use href="#Abridge0" stroke="#c6d94d"/><use href="#Abridge1" stroke="#c99b55"/><use href="#Abridge2" stroke="#d24b41"/><use href="#Abridge3" stroke="#dda3a1"/><use href="#Abridge4" stroke="#cb93d3"/><use href="#Abridge5" stroke="#73c47e"/><use href="#Abridge6" stroke="#4b3aa3"/><use href="#Abridge7" stroke="#cbe8c2"/><use href="#Abridge8" stroke="#c9e28c"/><use href="#Abridge9" stroke="#7ed3c9"/><use href="#Abridge10" stroke="#d3409a"/><use href="#Abridge11" stroke="#6d9bd3"/><use href="#Aconn0" stroke="#73c47e"/><use href="#Aconn1" stroke="#4b3aa3"/><use href="#Aconn2" stroke="#cbe8c2"/><use href="#Aconn3" stroke="#c9e28c"/><use href="#Aconn4" stroke="#7ed3c9"/><use href="#Aconn5" stroke="#d3409a"/><use href="#Aconn6" stroke="#6d9bd3"/><use href="#Aconn7" stroke="#c6d94d"/><use href="#Aconn8" stroke="#c99b55"/><use href="#Aconn9" stroke="#d24b41"/><use href="#Aconn10" stroke="#dda3a1"/><use href="#Aconn11" stroke="#cb93d3"/><use href="#AbigL0" stroke="#d3409a"/><use href="#AbigL1" stroke="#6d9bd3"/><use href="#AbigL2" stroke="#c6d94d"/><use href="#AbigL3" stroke="#c99b55"/><use href="#AbigL4" stroke="#d24b41"/><use href="#AbigL5" stroke="#dda3a1"/><use href="#AbigL6" stroke="#cb93d3"/><use href="#AbigL7" stroke="#73c47e"/><use href="#AbigL8" stroke="#4b3aa3"/><use href="#AbigL9" stroke="#cbe8c2"/><use href="#AbigL10" stroke="#c9e28c"/><use href="#AbigL11" stroke="#7ed3c9"/><use href="#AbigU0" stroke="#dda3a1"/><use href="#AbigU1" stroke="#cb93d3"/><use href="#AbigU2" stroke="#73c47e"/><use href="#AbigU3" stroke="#4b3aa3"/><use href="#AbigU4" stroke="#cbe8c2"/><use href="#AbigU5" stroke="#c9e28c"/><use href="#AbigU6" stroke="#7ed3c9"/><use href="#AbigU7" stroke="#d3409a"/><use href="#AbigU8" stroke="#6d9bd3"/><use href="#AbigU9" stroke="#c6d94d"/><use href="#AbigU10" stroke="#c99b55"/><use href="#AbigU11" stroke="#d24b41"/><use href="#AtopL0" stroke="#c9e28c"/><use href="#AtopL1" stroke="#7ed3c9"/><use href="#AtopL2" stroke="#d3409a"/><use href="#AtopL3" stroke="#6d9bd3"/><use href="#AtopL4" stroke="#c6d94d"/><use href="#AtopL5" stroke="#c99b55"/><use href="#AtopL6" stroke="#d24b41"/><use href="#AtopL7" stroke="#dda3a1"/><use href="#AtopL8" stroke="#cb93d3"/><use href="#AtopL9" stroke="#73c47e"/><use href="#AtopL10" stroke="#4b3aa3"/><use href="#AtopL11" stroke="#cbe8c2"/><use href="#AtopR0" stroke="#c99b55"/><use href="#AtopR1" stroke="#d24b41"/><use href="#AtopR2" stroke="#dda3a1"/><use href="#AtopR3" stroke="#cb93d3"/><use href="#AtopR4" stroke="#73c47e"/><use href="#AtopR5" stroke="#4b3aa3"/><use href="#AtopR6" stroke="#cbe8c2"/><use href="#AtopR7" stroke="#c9e28c"/><use href="#AtopR8" stroke="#7ed3c9"/><use href="#AtopR9" stroke="#d3409a"/><use href="#AtopR10" stroke="#6d9bd3"/><use href="#AtopR11" stroke="#c6d94d"/><use href="#Amid0" stroke="#4b3aa3"/><use href="#Amid1" stroke="#cbe8c2"/><use href="#Amid2" stroke="#c9e28c"/><use href="#Amid3" stroke="#7ed3c9"/><use href="#Amid4" stroke="#d3409a"/><use href="#Amid5" stroke="#6d9bd3"/><use href="#Amid6" stroke="#c6d94d"/><use href="#Amid7" stroke="#c99b55"/><use href="#Amid8" stroke="#d24b41"/><use href="#Amid9" stroke="#dda3a1"/><use href="#Amid10" stroke="#cb93d3"/><use href="#Amid11" stroke="#73c47e"/><use href="#Aright0" stroke="#6d9bd3"/><use href="#Aright1" stroke="#c6d94d"/><use href="#Aright2" stroke="#c99b55"/><use href="#Aright3" stroke="#d24b41"/><use href="#Aright4" stroke="#dda3a1"/><use href="#Aright5" stroke="#cb93d3"/><use href="#Aright6" stroke="#73c47e"/><use href="#Aright7" stroke="#4b3aa3"/><use href="#Aright8" stroke="#cbe8c2"/><use href="#Aright9" stroke="#c9e28c"/><use href="#Aright10" stroke="#7ed3c9"/><use href="#Aright11" stroke="#d3409a"/><use href="#Abot0" stroke="#cb93d3"/><use href="#Abot1" stroke="#73c47e"/><use href="#Abot2" stroke="#4b3aa3"/><use href="#Abot3" stroke="#cbe8c2"/><use href="#Abot4" stroke="#c9e28c"/><use href="#Abot5" stroke="#7ed3c9"/><use href="#Abot6" stroke="#d3409a"/><use href="#Abot7" stroke="#6d9bd3"/><use href="#Abot8" stroke="#c6d94d"/><use href="#Abot9" stroke="#c99b55"/><use href="#Abot10" stroke="#d24b41"/><use href="#Abot11" stroke="#dda3a1"/></g></g><g transform="translate(171.0 0.0) scale(0.5 0.5)" stroke-linecap="round" fill="none"><g opacity="0.3" filter="url(#bl)" stroke-width="5.0"><use href="#Asparse" stroke="#5895c2"/><use href="#AsparseL" stroke="#5895c2"/><use href="#Agrey" stroke="#a2b2c0"/><use href="#Abridge" stroke="#6c98bb"/><use href="#Aconn" stroke="#508fbf"/><use href="#AbigL" stroke="#508fbf"/><use href="#AbigU" stroke="#508fbf"/><use href="#AtopL" stroke="#508fbf"/><use href="#AtopR" stroke="#508fbf"/><use href="#Amid" stroke="#508fbf"/><use href="#Aright" stroke="#508fbf"/><use href="#Abot" stroke="#508fbf"/></g><g stroke-width="2.1" filter="url(#bd)"><use href="#Asparse0" stroke="#4183b8"/><use href="#Asparse1" stroke="#4183b8"/><use href="#Asparse2" stroke="#4183b8"/><use href="#Asparse3" stroke="#4183b8"/><use href="#Asparse4" stroke="#4183b8"/><use href="#Asparse5" stroke="#4183b8"/><use href="#Asparse6" stroke="#4183b8"/><use href="#Asparse7" stroke="#4183b8"/><use href="#Asparse8" stroke="#4183b8"/><use href="#Asparse9" stroke="#9dcbe0"/><use href="#Asparse10" stroke="#9dcbe0"/><use href="#Asparse11" stroke="#9dcbe0"/><use href="#AsparseL0" stroke="#4183b8"/><use href="#AsparseL1" stroke="#4183b8"/><use href="#AsparseL2" stroke="#4183b8"/><use href="#AsparseL3" stroke="#4183b8"/><use href="#AsparseL4" stroke="#4183b8"/><use href="#AsparseL5" stroke="#4183b8"/><use href="#AsparseL6" stroke="#4183b8"/><use href="#AsparseL7" stroke="#4183b8"/><use href="#AsparseL8" stroke="#4183b8"/><use href="#AsparseL9" stroke="#9dcbe0"/><use href="#AsparseL10" stroke="#9dcbe0"/><use href="#AsparseL11" stroke="#9dcbe0"/><use href="#Agrey0" stroke="#c2c2c2"/><use href="#Agrey1" stroke="#c2c2c2"/><use href="#Agrey2" stroke="#c2c2c2"/><use href="#Agrey3" stroke="#c2c2c2"/><use href="#Agrey4" stroke="#c2c2c2"/><use href="#Agrey5" stroke="#c2c2c2"/><use href="#Agrey6" stroke="#c2c2c2"/><use href="#Agrey7" stroke="#c2c2c2"/><use href="#Agrey8" stroke="#c2c2c2"/><use href="#Agrey9" stroke="#4183b8"/><use href="#Agrey10" stroke="#4183b8"/><use href="#Agrey11" stroke="#4183b8"/><use href="#Abridge0" stroke="#c2c2c2"/><use href="#Abridge1" stroke="#c2c2c2"/><use href="#Abridge2" stroke="#c2c2c2"/><use href="#Abridge3" stroke="#c2c2c2"/><use href="#Abridge4" stroke="#4183b8"/><use href="#Abridge5" stroke="#4183b8"/><use href="#Abridge6" stroke="#4183b8"/><use href="#Abridge7" stroke="#4183b8"/><use href="#Abridge8" stroke="#4183b8"/><use href="#Abridge9" stroke="#4183b8"/><use href="#Abridge10" stroke="#4183b8"/><use href="#Abridge11" stroke="#4183b8"/><use href="#Aconn0" stroke="#4183b8"/><use href="#Aconn1" stroke="#4183b8"/><use href="#Aconn2" stroke="#4183b8"/><use href="#Aconn3" stroke="#4183b8"/><use href="#Aconn4" stroke="#4183b8"/><use href="#Aconn5" stroke="#4183b8"/><use href="#Aconn6" stroke="#4183b8"/><use href="#Aconn7" stroke="#4183b8"/><use href="#Aconn8" stroke="#4183b8"/><use href="#Aconn9" stroke="#4183b8"/><use href="#Aconn10" stroke="#9dcbe0"/><use href="#Aconn11" stroke="#9dcbe0"/><use href="#AbigL0" stroke="#4183b8"/><use href="#AbigL1" stroke="#4183b8"/><use href="#AbigL2" stroke="#4183b8"/><use href="#AbigL3" stroke="#4183b8"/><use href="#AbigL4" stroke="#4183b8"/><use href="#AbigL5" stroke="#4183b8"/><use href="#AbigL6" stroke="#4183b8"/><use href="#AbigL7" stroke="#4183b8"/><use href="#AbigL8" stroke="#4183b8"/><use href="#AbigL9" stroke="#4183b8"/><use href="#AbigL10" stroke="#9dcbe0"/><use href="#AbigL11" stroke="#9dcbe0"/><use href="#AbigU0" stroke="#4183b8"/><use href="#AbigU1" stroke="#4183b8"/><use href="#AbigU2" stroke="#4183b8"/><use href="#AbigU3" stroke="#4183b8"/><use href="#AbigU4" stroke="#4183b8"/><use href="#AbigU5" stroke="#4183b8"/><use href="#AbigU6" stroke="#4183b8"/><use href="#AbigU7" stroke="#4183b8"/><use href="#AbigU8" stroke="#4183b8"/><use href="#AbigU9" stroke="#4183b8"/><use href="#AbigU10" stroke="#9dcbe0"/><use href="#AbigU11" stroke="#9dcbe0"/><use href="#AtopL0" stroke="#4183b8"/><use href="#AtopL1" stroke="#4183b8"/><use href="#AtopL2" stroke="#4183b8"/><use href="#AtopL3" stroke="#4183b8"/><use href="#AtopL4" stroke="#4183b8"/><use href="#AtopL5" stroke="#4183b8"/><use href="#AtopL6" stroke="#4183b8"/><use href="#AtopL7" stroke="#4183b8"/><use href="#AtopL8" stroke="#4183b8"/><use href="#AtopL9" stroke="#4183b8"/><use href="#AtopL10" stroke="#9dcbe0"/><use href="#AtopL11" stroke="#9dcbe0"/><use href="#AtopR0" stroke="#4183b8"/><use href="#AtopR1" stroke="#4183b8"/><use href="#AtopR2" stroke="#4183b8"/><use href="#AtopR3" stroke="#4183b8"/><use href="#AtopR4" stroke="#4183b8"/><use href="#AtopR5" stroke="#4183b8"/><use href="#AtopR6" stroke="#4183b8"/><use href="#AtopR7" stroke="#4183b8"/><use href="#AtopR8" stroke="#4183b8"/><use href="#AtopR9" stroke="#4183b8"/><use href="#AtopR10" stroke="#9dcbe0"/><use href="#AtopR11" stroke="#9dcbe0"/><use href="#Amid0" stroke="#4183b8"/><use href="#Amid1" stroke="#4183b8"/><use href="#Amid2" stroke="#4183b8"/><use href="#Amid3" stroke="#4183b8"/><use href="#Amid4" stroke="#4183b8"/><use href="#Amid5" stroke="#4183b8"/><use href="#Amid6" stroke="#4183b8"/><use href="#Amid7" stroke="#4183b8"/><use href="#Amid8" stroke="#4183b8"/><use href="#Amid9" stroke="#4183b8"/><use href="#Amid10" stroke="#9dcbe0"/><use href="#Amid11" stroke="#9dcbe0"/><use href="#Aright0" stroke="#4183b8"/><use href="#Aright1" stroke="#4183b8"/><use href="#Aright2" stroke="#4183b8"/><use href="#Aright3" stroke="#4183b8"/><use href="#Aright4" stroke="#4183b8"/><use href="#Aright5" stroke="#4183b8"/><use href="#Aright6" stroke="#4183b8"/><use href="#Aright7" stroke="#4183b8"/><use href="#Aright8" stroke="#4183b8"/><use href="#Aright9" stroke="#4183b8"/><use href="#Aright10" stroke="#9dcbe0"/><use href="#Aright11" stroke="#9dcbe0"/><use href="#Abot0" stroke="#4183b8"/><use href="#Abot1" stroke="#4183b8"/><use href="#Abot2" stroke="#4183b8"/><use href="#Abot3" stroke="#4183b8"/><use href="#Abot4" stroke="#4183b8"/><use href="#Abot5" stroke="#4183b8"/><use href="#Abot6" stroke="#4183b8"/><use href="#Abot7" stroke="#4183b8"/><use href="#Abot8" stroke="#4183b8"/><use href="#Abot9" stroke="#4183b8"/><use href="#Abot10" stroke="#9dcbe0"/><use href="#Abot11" stroke="#9dcbe0"/></g></g><g transform="translate(342.5 0.0) scale(0.5 0.5)" stroke-linecap="round" fill="none"><g opacity="0.3" filter="url(#bl)" stroke-width="5.0"><use href="#Asparse" stroke="#abd6e0"/><use href="#AsparseL" stroke="#abd6e0"/><use href="#Agrey" stroke="#c3cbc9"/><use href="#Abridge" stroke="#93c6c8"/><use href="#Aconn" stroke="#abd6e0"/><use href="#AbigL" stroke="#adc9c7"/><use href="#AbigU" stroke="#b2a8b4"/><use href="#AtopL" stroke="#b7b3b5"/><use href="#AtopR" stroke="#abd6e0"/><use href="#Amid" stroke="#abd6e0"/><use href="#Aright" stroke="#abd6e0"/><use href="#Abot" stroke="#abd6e0"/></g><g stroke-width="2.1" filter="url(#bd)"><use href="#Asparse" stroke="#abd6e0"/><use href="#AsparseL" stroke="#abd6e0"/><use href="#Agrey0" stroke="#cfcfcf"/><use href="#Agrey1" stroke="#cfcfcf"/><use href="#Agrey2" stroke="#cfcfcf"/><use href="#Agrey3" stroke="#cfcfcf"/><use href="#Agrey4" stroke="#cfcfcf"/><use href="#Agrey5" stroke="#cfcfcf"/><use href="#Agrey6" stroke="#cfcfcf"/><use href="#Agrey7" stroke="#cfcfcf"/><use href="#Agrey8" stroke="#cfcfcf"/><use href="#Agrey9" stroke="#cfcfcf"/><use href="#Agrey10" stroke="#cfcfcf"/><use href="#Agrey11" stroke="#3f9a86"/><use href="#Abridge0" stroke="#abd6e0"/><use href="#Abridge1" stroke="#abd6e0"/><use href="#Abridge2" stroke="#abd6e0"/><use href="#Abridge3" stroke="#abd6e0"/><use href="#Abridge4" stroke="#abd6e0"/><use href="#Abridge5" stroke="#abd6e0"/><use href="#Abridge6" stroke="#abd6e0"/><use href="#Abridge7" stroke="#abd6e0"/><use href="#Abridge8" stroke="#3f9a86"/><use href="#Abridge9" stroke="#3f9a86"/><use href="#Abridge10" stroke="#3f9a86"/><use href="#Abridge11" stroke="#cfcfcf"/><use href="#Aconn" stroke="#abd6e0"/><use href="#AbigL0" stroke="#abd6e0"/><use href="#AbigL1" stroke="#abd6e0"/><use href="#AbigL2" stroke="#abd6e0"/><use href="#AbigL3" stroke="#abd6e0"/><use href="#AbigL4" stroke="#abd6e0"/><use href="#AbigL5" stroke="#abd6e0"/><use href="#AbigL6" stroke="#abd6e0"/><use href="#AbigL7" stroke="#abd6e0"/><use href="#AbigL8" stroke="#abd6e0"/><use href="#AbigL9" stroke="#abd6e0"/><use href="#AbigL10" stroke="#96d45a"/><use href="#AbigL11" stroke="#dd3b36"/><use href="#AbigU0" stroke="#abd6e0"/><use href="#AbigU1" stroke="#abd6e0"/><use href="#AbigU2" stroke="#abd6e0"/><use href="#AbigU3" stroke="#abd6e0"/><use href="#AbigU4" stroke="#abd6e0"/><use href="#AbigU5" stroke="#abd6e0"/><use href="#AbigU6" stroke="#abd6e0"/><use href="#AbigU7" stroke="#abd6e0"/><use href="#AbigU8" stroke="#dd3b36"/><use href="#AbigU9" stroke="#dd3b36"/><use href="#AbigU10" stroke="#dd3b36"/><use href="#AbigU11" stroke="#6f7fcf"/><use href="#AtopL0" stroke="#abd6e0"/><use href="#AtopL1" stroke="#abd6e0"/><use href="#AtopL2" stroke="#abd6e0"/><use href="#AtopL3" stroke="#abd6e0"/><use href="#AtopL4" stroke="#abd6e0"/><use href="#AtopL5" stroke="#abd6e0"/><use href="#AtopL6" stroke="#abd6e0"/><use href="#AtopL7" stroke="#abd6e0"/><use href="#AtopL8" stroke="#abd6e0"/><use href="#AtopL9" stroke="#dd3b36"/><use href="#AtopL10" stroke="#dd3b36"/><use href="#AtopL11" stroke="#d36630"/><use href="#AtopR" stroke="#abd6e0"/><use href="#Amid" stroke="#abd6e0"/><use href="#Aright" stroke="#abd6e0"/><use href="#Abot" stroke="#abd6e0"/></g></g><g transform="translate(513.0 0.0) scale(0.5 0.5)" stroke-linecap="round" fill="none"><g opacity="0.3" filter="url(#bl)" stroke-width="5.0"><use href="#Asparse" stroke="#72a8ca"/><use href="#AsparseL" stroke="#6aa1c7"/><use href="#Agrey" stroke="#b7bcc1"/><use href="#Abridge" stroke="#7ca3c0"/><use href="#Aconn" stroke="#94c2d9"/><use href="#AbigL" stroke="#5893c0"/><use href="#AbigU" stroke="#5893c0"/><use href="#AtopL" stroke="#619ac3"/><use href="#AtopR" stroke="#72a8ca"/><use href="#Amid" stroke="#94c2d9"/><use href="#Aright" stroke="#7aaece"/><use href="#Abot" stroke="#94c2d9"/></g><g stroke-width="2.1" filter="url(#bd)"><use href="#Asparse0" stroke="#a5d0e0"/><use href="#Asparse1" stroke="#a5d0e0"/><use href="#Asparse2" stroke="#a5d0e0"/><use href="#Asparse3" stroke="#a5d0e0"/><use href="#Asparse4" stroke="#a5d0e0"/><use href="#Asparse5" stroke="#a5d0e0"/><use href="#Asparse6" stroke="#3f7fb5"/><use href="#Asparse7" stroke="#3f7fb5"/><use href="#Asparse8" stroke="#3f7fb5"/><use href="#Asparse9" stroke="#3f7fb5"/><use href="#Asparse10" stroke="#3f7fb5"/><use href="#Asparse11" stroke="#3f7fb5"/><use href="#AsparseL0" stroke="#a5d0e0"/><use href="#AsparseL1" stroke="#a5d0e0"/><use href="#AsparseL2" stroke="#a5d0e0"/><use href="#AsparseL3" stroke="#a5d0e0"/><use href="#AsparseL4" stroke="#a5d0e0"/><use href="#AsparseL5" stroke="#3f7fb5"/><use href="#AsparseL6" stroke="#3f7fb5"/><use href="#AsparseL7" stroke="#3f7fb5"/><use href="#AsparseL8" stroke="#3f7fb5"/><use href="#AsparseL9" stroke="#3f7fb5"/><use href="#AsparseL10" stroke="#3f7fb5"/><use href="#AsparseL11" stroke="#3f7fb5"/><use href="#Agrey0" stroke="#c2c2c2"/><use href="#Agrey1" stroke="#c2c2c2"/><use href="#Agrey2" stroke="#c2c2c2"/><use href="#Agrey3" stroke="#c2c2c2"/><use href="#Agrey4" stroke="#c2c2c2"/><use href="#Agrey5" stroke="#c2c2c2"/><use href="#Agrey6" stroke="#c2c2c2"/><use href="#Agrey7" stroke="#c2c2c2"/><use href="#Agrey8" stroke="#c2c2c2"/><use href="#Agrey9" stroke="#c2c2c2"/><use href="#Agrey10" stroke="#c2c2c2"/><use href="#Agrey11" stroke="#3f7fb5"/><use href="#Abridge0" stroke="#c2c2c2"/><use href="#Abridge1" stroke="#c2c2c2"/><use href="#Abridge2" stroke="#c2c2c2"/><use href="#Abridge3" stroke="#c2c2c2"/><use href="#Abridge4" stroke="#3f7fb5"/><use href="#Abridge5" stroke="#3f7fb5"/><use href="#Abridge6" stroke="#3f7fb5"/><use href="#Abridge7" stroke="#3f7fb5"/><use href="#Abridge8" stroke="#3f7fb5"/><use href="#Abridge9" stroke="#3f7fb5"/><use href="#Abridge10" stroke="#a5d0e0"/><use href="#Abridge11" stroke="#a5d0e0"/><use href="#Aconn0" stroke="#a5d0e0"/><use href="#Aconn1" stroke="#a5d0e0"/><use href="#Aconn2" stroke="#a5d0e0"/><use href="#Aconn3" stroke="#a5d0e0"/><use href="#Aconn4" stroke="#a5d0e0"/><use href="#Aconn5" stroke="#a5d0e0"/><use href="#Aconn6" stroke="#a5d0e0"/><use href="#Aconn7" stroke="#a5d0e0"/><use href="#Aconn8" stroke="#a5d0e0"/><use href="#Aconn9" stroke="#a5d0e0"/><use href="#Aconn10" stroke="#3f7fb5"/><use href="#Aconn11" stroke="#3f7fb5"/><use href="#AbigL0" stroke="#a5d0e0"/><use href="#AbigL1" stroke="#a5d0e0"/><use href="#AbigL2" stroke="#a5d0e0"/><use href="#AbigL3" stroke="#3f7fb5"/><use href="#AbigL4" stroke="#3f7fb5"/><use href="#AbigL5" stroke="#3f7fb5"/><use href="#AbigL6" stroke="#3f7fb5"/><use href="#AbigL7" stroke="#3f7fb5"/><use href="#AbigL8" stroke="#3f7fb5"/><use href="#AbigL9" stroke="#3f7fb5"/><use href="#AbigL10" stroke="#3f7fb5"/><use href="#AbigL11" stroke="#3f7fb5"/><use href="#AbigU0" stroke="#a5d0e0"/><use href="#AbigU1" stroke="#a5d0e0"/><use href="#AbigU2" stroke="#a5d0e0"/><use href="#AbigU3" stroke="#3f7fb5"/><use href="#AbigU4" stroke="#3f7fb5"/><use href="#AbigU5" stroke="#3f7fb5"/><use href="#AbigU6" stroke="#3f7fb5"/><use href="#AbigU7" stroke="#3f7fb5"/><use href="#AbigU8" stroke="#3f7fb5"/><use href="#AbigU9" stroke="#3f7fb5"/><use href="#AbigU10" stroke="#3f7fb5"/><use href="#AbigU11" stroke="#3f7fb5"/><use href="#AtopL0" stroke="#a5d0e0"/><use href="#AtopL1" stroke="#a5d0e0"/><use href="#AtopL2" stroke="#a5d0e0"/><use href="#AtopL3" stroke="#a5d0e0"/><use href="#AtopL4" stroke="#3f7fb5"/><use href="#AtopL5" stroke="#3f7fb5"/><use href="#AtopL6" stroke="#3f7fb5"/><use href="#AtopL7" stroke="#3f7fb5"/><use href="#AtopL8" stroke="#3f7fb5"/><use href="#AtopL9" stroke="#3f7fb5"/><use href="#AtopL10" stroke="#3f7fb5"/><use href="#AtopL11" stroke="#3f7fb5"/><use href="#AtopR0" stroke="#a5d0e0"/><use href="#AtopR1" stroke="#a5d0e0"/><use href="#AtopR2" stroke="#a5d0e0"/><use href="#AtopR3" stroke="#a5d0e0"/><use href="#AtopR4" stroke="#a5d0e0"/><use href="#AtopR5" stroke="#a5d0e0"/><use href="#AtopR6" stroke="#3f7fb5"/><use href="#AtopR7" stroke="#3f7fb5"/><use href="#AtopR8" stroke="#3f7fb5"/><use href="#AtopR9" stroke="#3f7fb5"/><use href="#AtopR10" stroke="#3f7fb5"/><use href="#AtopR11" stroke="#3f7fb5"/><use href="#Amid0" stroke="#a5d0e0"/><use href="#Amid1" stroke="#a5d0e0"/><use href="#Amid2" stroke="#a5d0e0"/><use href="#Amid3" stroke="#a5d0e0"/><use href="#Amid4" stroke="#a5d0e0"/><use href="#Amid5" stroke="#a5d0e0"/><use href="#Amid6" stroke="#a5d0e0"/><use href="#Amid7" stroke="#a5d0e0"/><use href="#Amid8" stroke="#a5d0e0"/><use href="#Amid9" stroke="#a5d0e0"/><use href="#Amid10" stroke="#3f7fb5"/><use href="#Amid11" stroke="#3f7fb5"/><use href="#Aright0" stroke="#a5d0e0"/><use href="#Aright1" stroke="#a5d0e0"/><use href="#Aright2" stroke="#a5d0e0"/><use href="#Aright3" stroke="#a5d0e0"/><use href="#Aright4" stroke="#a5d0e0"/><use href="#Aright5" stroke="#a5d0e0"/><use href="#Aright6" stroke="#a5d0e0"/><use href="#Aright7" stroke="#3f7fb5"/><use href="#Aright8" stroke="#3f7fb5"/><use href="#Aright9" stroke="#3f7fb5"/><use href="#Aright10" stroke="#3f7fb5"/><use href="#Aright11" stroke="#3f7fb5"/><use href="#Abot0" stroke="#a5d0e0"/><use href="#Abot1" stroke="#a5d0e0"/><use href="#Abot2" stroke="#a5d0e0"/><use href="#Abot3" stroke="#a5d0e0"/><use href="#Abot4" stroke="#a5d0e0"/><use href="#Abot5" stroke="#a5d0e0"/><use href="#Abot6" stroke="#a5d0e0"/><use href="#Abot7" stroke="#a5d0e0"/><use href="#Abot8" stroke="#a5d0e0"/><use href="#Abot9" stroke="#a5d0e0"/><use href="#Abot10" stroke="#3f7fb5"/><use href="#Abot11" stroke="#3f7fb5"/></g></g><g transform="translate(5.0 555.2) scale(0.4835 0.48)" stroke-linecap="round" fill="none"><g opacity="0.45" filter="url(#bl)" stroke-width="5.0"><use href="#Asparse" stroke="#bdccd1"/><use href="#AsparseL" stroke="#96c5d3"/><use href="#Agrey" stroke="#bdccd1"/><use href="#Abridge" stroke="#83c1d4"/><use href="#Aconn" stroke="#d0d0d0"/><use href="#AbigL" stroke="#72b6bc"/><use href="#AbigU" stroke="#cca754"/><use href="#AtopL" stroke="#aaad7b"/><use href="#AtopR" stroke="#d0d0d0"/><use href="#Amid" stroke="#d0d0d0"/><use href="#Aright" stroke="#d0d0d0"/><use href="#Abot" stroke="#d0d0d0"/></g><g stroke-width="2.1" filter="url(#bd)"><use href="#Asparse0" stroke="#d0d0d0"/><use href="#Asparse1" stroke="#d0d0d0"/><use href="#Asparse2" stroke="#d0d0d0"/><use href="#Asparse3" stroke="#d0d0d0"/><use href="#Asparse4" stroke="#d0d0d0"/><use href="#Asparse5" stroke="#d0d0d0"/><use href="#Asparse6" stroke="#d0d0d0"/><use href="#Asparse7" stroke="#d0d0d0"/><use href="#Asparse8" stroke="#d0d0d0"/><use href="#Asparse9" stroke="#d0d0d0"/><use href="#Asparse10" stroke="#5cbad6"/><use href="#Asparse11" stroke="#5cbad6"/><use href="#AsparseL0" stroke="#d0d0d0"/><use href="#AsparseL1" stroke="#d0d0d0"/><use href="#AsparseL2" stroke="#d0d0d0"/><use href="#AsparseL3" stroke="#d0d0d0"/><use href="#AsparseL4" stroke="#d0d0d0"/><use href="#AsparseL5" stroke="#d0d0d0"/><use href="#AsparseL6" stroke="#5cbad6"/><use href="#AsparseL7" stroke="#5cbad6"/><use href="#AsparseL8" stroke="#5cbad6"/><use href="#AsparseL9" stroke="#5cbad6"/><use href="#AsparseL10" stroke="#5cbad6"/><use href="#AsparseL11" stroke="#5cbad6"/><use href="#Agrey0" stroke="#d0d0d0"/><use href="#Agrey1" stroke="#d0d0d0"/><use href="#Agrey2" stroke="#d0d0d0"/><use href="#Agrey3" stroke="#d0d0d0"/><use href="#Agrey4" stroke="#d0d0d0"/><use href="#Agrey5" stroke="#d0d0d0"/><use href="#Agrey6" stroke="#d0d0d0"/><use href="#Agrey7" stroke="#d0d0d0"/><use href="#Agrey8" stroke="#d0d0d0"/><use href="#Agrey9" stroke="#d0d0d0"/><use href="#Agrey10" stroke="#5cbad6"/><use href="#Agrey11" stroke="#5cbad6"/><use href="#Abridge0" stroke="#5cbad6"/><use href="#Abridge1" stroke="#5cbad6"/><use href="#Abridge2" stroke="#5cbad6"/><use href="#Abridge3" stroke="#5cbad6"/><use href="#Abridge4" stroke="#5cbad6"/><use href="#Abridge5" stroke="#5cbad6"/><use href="#Abridge6" stroke="#5cbad6"/><use href="#Abridge7" stroke="#5cbad6"/><use href="#Abridge8" stroke="#d0d0d0"/><use href="#Abridge9" stroke="#d0d0d0"/><use href="#Abridge10" stroke="#d0d0d0"/><use href="#Abridge11" stroke="#d0d0d0"/><use href="#Aconn" stroke="#d0d0d0"/><use href="#AbigL0" stroke="#5cbad6"/><use href="#AbigL1" stroke="#5cbad6"/><use href="#AbigL2" stroke="#5cbad6"/><use href="#AbigL3" stroke="#5cbad6"/><use href="#AbigL4" stroke="#5cbad6"/><use href="#AbigL5" stroke="#5cbad6"/><use href="#AbigL6" stroke="#5cbad6"/><use href="#AbigL7" stroke="#5cbad6"/><use href="#AbigL8" stroke="#5cbad6"/><use href="#AbigL9" stroke="#5cbad6"/><use href="#AbigL10" stroke="#e2a33a"/><use href="#AbigL11" stroke="#e2a33a"/><use href="#AbigU0" stroke="#e2a33a"/><use href="#AbigU1" stroke="#e2a33a"/><use href="#AbigU2" stroke="#e2a33a"/><use href="#AbigU3" stroke="#e2a33a"/><use href="#AbigU4" stroke="#e2a33a"/><use href="#AbigU5" stroke="#e2a33a"/><use href="#AbigU6" stroke="#e2a33a"/><use href="#AbigU7" stroke="#e2a33a"/><use href="#AbigU8" stroke="#e2a33a"/><use href="#AbigU9" stroke="#e2a33a"/><use href="#AbigU10" stroke="#5cbad6"/><use href="#AbigU11" stroke="#5cbad6"/><use href="#AtopL0" stroke="#e2a33a"/><use href="#AtopL1" stroke="#e2a33a"/><use href="#AtopL2" stroke="#e2a33a"/><use href="#AtopL3" stroke="#e2a33a"/><use href="#AtopL4" stroke="#e2a33a"/><use href="#AtopL5" stroke="#e2a33a"/><use href="#AtopL6" stroke="#e2a33a"/><use href="#AtopL7" stroke="#5cbad6"/><use href="#AtopL8" stroke="#5cbad6"/><use href="#AtopL9" stroke="#5cbad6"/><use href="#AtopL10" stroke="#5cbad6"/><use href="#AtopL11" stroke="#5cbad6"/><use href="#AtopR" stroke="#d0d0d0"/><use href="#Amid" stroke="#d0d0d0"/><use href="#Aright" stroke="#d0d0d0"/><use href="#Abot" stroke="#d0d0d0"/></g></g>
<g transform="translate(200.0 535.0) scale(0.5 0.5)" stroke-linecap="round" fill="none"><g opacity="0.5" filter="url(#bl)" stroke-width="5.0"><use href="#Kscat" stroke="#e6bc59"/><use href="#Kllc" stroke="#e6bc59"/><use href="#Klow" stroke="#e6bc59"/><use href="#Karm" stroke="#e6bc59"/><use href="#Kblob" stroke="#e8744a"/><use href="#Kband" stroke="#e79b52"/></g><g stroke-width="2.3" filter="url(#bd)"><use href="#Kscat0" stroke="#e6c25a"/><use href="#Kscat1" stroke="#e6c25a"/><use href="#Kscat2" stroke="#e6c25a"/><use href="#Kscat3" stroke="#e6c25a"/><use href="#Kscat4" stroke="#e6c25a"/><use href="#Kscat5" stroke="#e6c25a"/><use href="#Kscat6" stroke="#e6c25a"/><use href="#Kscat7" stroke="#e6c25a"/><use href="#Kscat8" stroke="#e6c25a"/><use href="#Kscat9" stroke="#e6c25a"/><use href="#Kscat10" stroke="#e6c25a"/><use href="#Kscat11" stroke="#e8744a"/><use href="#Kllc0" stroke="#e6c25a"/><use href="#Kllc1" stroke="#e6c25a"/><use href="#Kllc2" stroke="#e6c25a"/><use href="#Kllc3" stroke="#e6c25a"/><use href="#Kllc4" stroke="#e6c25a"/><use href="#Kllc5" stroke="#e6c25a"/><use href="#Kllc6" stroke="#e6c25a"/><use href="#Kllc7" stroke="#e6c25a"/><use href="#Kllc8" stroke="#e6c25a"/><use href="#Kllc9" stroke="#e6c25a"/><use href="#Kllc10" stroke="#e6c25a"/><use href="#Kllc11" stroke="#e8744a"/><use href="#Klow0" stroke="#e6c25a"/><use href="#Klow1" stroke="#e6c25a"/><use href="#Klow2" stroke="#e6c25a"/><use href="#Klow3" stroke="#e6c25a"/><use href="#Klow4" stroke="#e6c25a"/><use href="#Klow5" stroke="#e6c25a"/><use href="#Klow6" stroke="#e6c25a"/><use href="#Klow7" stroke="#e6c25a"/><use href="#Klow8" stroke="#e6c25a"/><use href="#Klow9" stroke="#e6c25a"/><use href="#Klow10" stroke="#e6c25a"/><use href="#Klow11" stroke="#e8744a"/><use href="#Karm0" stroke="#e6c25a"/><use href="#Karm1" stroke="#e6c25a"/><use href="#Karm2" stroke="#e6c25a"/><use href="#Karm3" stroke="#e6c25a"/><use href="#Karm4" stroke="#e6c25a"/><use href="#Karm5" stroke="#e6c25a"/><use href="#Karm6" stroke="#e6c25a"/><use href="#Karm7" stroke="#e6c25a"/><use href="#Karm8" stroke="#e6c25a"/><use href="#Karm9" stroke="#e6c25a"/><use href="#Karm10" stroke="#e6c25a"/><use href="#Karm11" stroke="#e8744a"/><use href="#Kblob" stroke="#e8744a"/><use href="#Kband0" stroke="#e6c25a"/><use href="#Kband1" stroke="#e6c25a"/><use href="#Kband2" stroke="#e6c25a"/><use href="#Kband3" stroke="#e6c25a"/><use href="#Kband4" stroke="#e6c25a"/><use href="#Kband5" stroke="#e6c25a"/><use href="#Kband6" stroke="#e8744a"/><use href="#Kband7" stroke="#e8744a"/><use href="#Kband8" stroke="#e8744a"/><use href="#Kband9" stroke="#e8744a"/><use href="#Kband10" stroke="#e8744a"/><use href="#Kband11" stroke="#e8744a"/></g></g><g transform="translate(345.0 535.0) scale(0.5 0.5)" stroke-linecap="round" fill="none"><g opacity="0.4" filter="url(#bl)" stroke-width="5.0"><use href="#Lscat" stroke="#e8782e"/><use href="#Lllc" stroke="#da7839"/><use href="#Llow" stroke="#da7839"/><use href="#Larm" stroke="#e8782e"/><use href="#Lblob" stroke="#4878a5"/></g><g stroke-width="3.2" filter="url(#bd)"><use href="#Lscat" stroke="#e8782e"/><use href="#Lllc0" stroke="#e8782e"/><use href="#Lllc1" stroke="#e8782e"/><use href="#Lllc2" stroke="#e8782e"/><use href="#Lllc3" stroke="#e8782e"/><use href="#Lllc4" stroke="#e8782e"/><use href="#Lllc5" stroke="#e8782e"/><use href="#Lllc6" stroke="#e8782e"/><use href="#Lllc7" stroke="#e8782e"/><use href="#Lllc8" stroke="#e8782e"/><use href="#Lllc9" stroke="#e8782e"/><use href="#Lllc10" stroke="#e8782e"/><use href="#Lllc11" stroke="#3a78b0"/><use href="#Llow0" stroke="#e8782e"/><use href="#Llow1" stroke="#e8782e"/><use href="#Llow2" stroke="#e8782e"/><use href="#Llow3" stroke="#e8782e"/><use href="#Llow4" stroke="#e8782e"/><use href="#Llow5" stroke="#e8782e"/><use href="#Llow6" stroke="#e8782e"/><use href="#Llow7" stroke="#e8782e"/><use href="#Llow8" stroke="#e8782e"/><use href="#Llow9" stroke="#e8782e"/><use href="#Llow10" stroke="#e8782e"/><use href="#Llow11" stroke="#3a78b0"/><use href="#Larm" stroke="#e8782e"/><use href="#Lblob0" stroke="#3a78b0"/><use href="#Lblob1" stroke="#3a78b0"/><use href="#Lblob2" stroke="#3a78b0"/><use href="#Lblob3" stroke="#3a78b0"/><use href="#Lblob4" stroke="#3a78b0"/><use href="#Lblob5" stroke="#3a78b0"/><use href="#Lblob6" stroke="#3a78b0"/><use href="#Lblob7" stroke="#3a78b0"/><use href="#Lblob8" stroke="#3a78b0"/><use href="#Lblob9" stroke="#3a78b0"/><use href="#Lblob10" stroke="#3a78b0"/><use href="#Lblob11" stroke="#e8782e"/></g></g><path d="M449.6 546.0l0.8 1.7M452.4 546.0l0.7 1.8M455.1 546.0l-0.3 1.9M457.9 546.0l-0.2 1.9M442.2 549.4l0.3 1.9M444.9 549.4l-0.0 1.9M447.7 549.4l0.4 1.9M450.4 549.4l-1.0 1.6M453.2 549.4l0.9 1.7M455.9 549.4l-0.1 1.9M458.7 549.4l0.4 1.9M461.4 549.4l-0.1 1.9M438.6 552.8l0.3 1.9M441.4 552.8l0.5 1.8M444.1 552.8l-0.1 1.9M446.9 552.8l-0.1 1.9M449.6 552.8l0.4 1.9M452.4 552.8l-0.5 1.8M455.1 552.8l-0.8 1.7M457.9 552.8l0.2 1.9M460.6 552.8l-0.4 1.9M430.6 556.2l-0.5 1.8M433.4 556.2l-0.3 1.9M436.1 556.2l-0.7 1.8M438.9 556.2l-0.8 1.7M441.6 556.2l0.0 1.9M444.4 556.2l0.5 1.8M447.1 556.2l-0.1 1.9M449.9 556.2l-0.4 1.9M452.6 556.2l0.2 1.9M455.4 556.2l0.4 1.9M458.1 556.2l-0.2 1.9M460.9 556.2l0.3 1.9M430.5 559.6l-0.1 1.9M433.2 559.6l-0.5 1.8M436.0 559.6l0.2 1.9M438.7 559.6l0.1 1.9M441.5 559.6l0.6 1.8M444.2 559.6l-0.7 1.8M447.0 559.6l-0.4 1.9M449.7 559.6l-0.5 1.8M452.5 559.6l-0.9 1.6M455.2 559.6l0.1 1.9M458.0 559.6l0.3 1.9M460.7 559.6l-0.4 1.9M430.7 563.0l0.5 1.8M433.5 563.0l0.4 1.9M436.2 563.0l0.2 1.9M439.0 563.0l0.5 1.8M441.7 563.0l-0.7 1.8M444.5 563.0l0.3 1.9M447.2 563.0l0.3 1.9M450.0 563.0l-1.0 1.6M452.7 563.0l0.2 1.9M455.5 563.0l-0.1 1.9M428.3 566.4l-0.2 1.9M431.1 566.4l-0.0 1.9M433.8 566.4l0.2 1.9M436.6 566.4l-0.5 1.8M439.3 566.4l0.3 1.9M442.1 566.4l-0.1 1.9M444.8 566.4l0.3 1.9M447.6 566.4l-0.3 1.9M450.3 566.4l0.6 1.8M408.3 569.8l-0.1 1.9M411.1 569.8l0.4 1.9M413.8 569.8l0.7 1.8M427.6 569.8l1.0 1.6M430.3 569.8l-0.9 1.7M433.1 569.8l0.5 1.8M435.8 569.8l0.3 1.9M438.6 569.8l-0.1 1.9M392.7 573.2l0.7 1.8M395.5 573.2l-0.7 1.8M398.2 573.2l0.5 1.1M403.7 573.2l-0.5 1.1M406.5 573.2l0.5 1.1M414.7 573.2l0.3 1.2M420.2 573.2l0.2 1.9M423.0 573.2l-0.4 1.9M425.7 573.2l0.2 1.9M428.5 573.2l-0.0 1.9M431.2 573.2l-0.1 1.9M434.0 573.2l-0.4 1.9M387.0 576.6l0.2 1.9M389.8 576.6l-0.1 1.9M392.5 576.6l-0.5 1.1M395.3 576.6l0.4 1.1M398.0 576.6l-0.5 1.1M400.8 576.6l0.2 1.2M409.0 576.6l-0.5 1.1M411.8 576.6l0.8 0.9M414.5 576.6l-0.2 1.2M417.3 576.6l-0.3 1.2M422.8 576.6l0.1 1.2M425.5 576.6l0.0 1.2M428.3 576.6l0.5 1.8M389.4 580.0l-0.5 1.1M392.1 580.0l-0.2 1.2M400.4 580.0l0.3 1.2M405.9 580.0l-0.2 1.2M408.6 580.0l-0.2 1.2M419.6 580.0l-0.1 1.2M422.4 580.0l-0.0 1.2M425.1 580.0l0.4 1.1M427.9 580.0l-0.2 1.2M430.6 580.0l-0.4 1.9M386.5 583.4l0.7 1.0M389.2 583.4l0.1 1.2M433.2 583.4l0.1 1.9M381.0 586.8l-0.1 1.9M383.8 586.8l0.1 1.2M430.5 586.8l0.6 1.0M381.2 590.2l0.3 1.9M386.7 590.2l0.4 1.1M389.5 590.2l0.1 1.2M430.7 590.2l0.2 1.2M433.5 590.2l-0.0 1.2M381.0 593.6l-1.2 1.5M386.5 593.6l-0.2 1.2M394.8 593.6l0.3 1.2M397.5 593.6l-0.0 1.2M400.3 593.6l-0.1 1.2M403.0 593.6l0.1 1.2M411.3 593.6l0.2 1.2M414.0 593.6l-0.5 1.1M422.3 593.6l0.4 1.1M425.0 593.6l-0.1 1.2M427.8 593.6l0.3 1.2M381.7 597.0l0.4 1.9M384.4 597.0l0.3 1.2M392.7 597.0l0.2 1.2M395.4 597.0l0.1 1.2M398.2 597.0l0.5 1.1M400.9 597.0l0.2 1.2M403.7 597.0l-0.4 1.1M409.2 597.0l-0.4 1.1M411.9 597.0l-0.2 1.2M414.7 597.0l-0.2 1.2M417.4 597.0l0.2 1.2M420.2 597.0l0.0 1.2M422.9 597.0l-0.1 1.2M425.7 597.0l0.1 1.2M433.9 597.0l-0.6 1.8M376.0 600.4l0.8 1.7M378.8 600.4l0.2 1.9M381.5 600.4l-0.2 1.9M384.3 600.4l0.2 1.9M387.0 600.4l0.1 1.2M389.8 600.4l0.1 1.2M392.5 600.4l0.5 1.1M395.3 600.4l-0.5 1.1M400.8 600.4l0.1 1.2M403.5 600.4l0.1 1.2M409.0 600.4l0.1 1.2M411.8 600.4l0.1 1.2M414.5 600.4l-0.4 1.1M417.3 600.4l-0.0 1.2M420.0 600.4l-0.2 1.2M422.8 600.4l0.1 1.2M425.5 600.4l-0.3 1.2M428.3 600.4l-0.0 1.2M431.0 600.4l-0.0 1.9M375.6 603.8l0.1 1.9M378.3 603.8l-0.4 1.9M381.1 603.8l0.1 1.9M383.8 603.8l1.4 1.3M386.6 603.8l0.7 1.8M389.3 603.8l-1.4 1.3M394.8 603.8l0.2 1.2M419.6 603.8l-0.1 1.2M422.3 603.8l0.1 1.2M427.8 603.8l-0.4 1.8M430.6 603.8l-0.3 1.9M433.3 603.8l-0.4 1.9M375.5 607.2l1.1 1.6M378.2 607.2l0.6 1.8M381.0 607.2l0.3 1.9M383.7 607.2l-0.1 1.9M386.5 607.2l0.6 1.8M389.2 607.2l0.2 1.9M392.0 607.2l0.2 1.9M394.7 607.2l-1.3 1.4M397.5 607.2l-0.1 1.9M419.5 607.2l0.0 1.9M422.2 607.2l0.5 1.8M425.0 607.2l-0.1 1.9M427.7 607.2l0.1 1.9M430.5 607.2l-0.8 1.7M433.2 607.2l0.3 1.9M436.0 607.2l-0.3 1.9M438.7 607.2l0.2 1.9M375.9 610.6l-0.1 1.9M378.7 610.6l0.2 1.9M381.4 610.6l-0.0 1.9M384.2 610.6l0.4 1.9M386.9 610.6l0.3 1.9M389.7 610.6l-0.3 1.9M392.4 610.6l-0.3 1.9M395.2 610.6l0.9 1.6M397.9 610.6l-0.1 1.9M419.9 610.6l0.6 1.8M422.7 610.6l0.2 1.9M425.4 610.6l-0.3 1.9M428.2 610.6l-0.4 1.9M430.9 610.6l0.1 1.9M433.7 610.6l0.1 1.9M436.4 610.6l0.3 1.9M439.2 610.6l-0.7 1.8M359.4 614.0l-0.1 1.9M362.2 614.0l0.9 1.7M364.9 614.0l-1.2 1.4M367.7 614.0l0.2 1.9M370.4 614.0l-0.3 1.9M373.2 614.0l0.2 1.9M375.9 614.0l-0.3 1.9M378.7 614.0l0.2 1.9M381.4 614.0l0.9 1.7M384.2 614.0l0.2 1.9M386.9 614.0l0.2 1.9M389.7 614.0l0.2 1.9M392.4 614.0l-0.4 1.9M395.2 614.0l0.3 1.9M397.9 614.0l-0.1 1.9M400.7 614.0l-0.5 1.8M403.4 614.0l-0.0 1.9M406.2 614.0l-0.1 1.9M408.9 614.0l0.4 1.9M411.7 614.0l-0.0 1.9M414.4 614.0l-0.3 1.9M417.2 614.0l0.8 1.7M419.9 614.0l0.6 1.8M422.7 614.0l0.7 1.8M425.4 614.0l0.3 1.9M428.2 614.0l-0.1 1.9M430.9 614.0l-0.2 1.9M433.7 614.0l-0.2 1.9M436.4 614.0l0.5 1.8M439.2 614.0l0.1 1.9M353.6 617.4l-0.0 1.9M356.3 617.4l-0.8 1.7M359.1 617.4l0.1 1.9M361.8 617.4l-0.7 1.8M364.6 617.4l-0.7 1.8M367.3 617.4l0.1 1.9M370.1 617.4l-0.0 1.9M372.8 617.4l-0.9 1.7M375.6 617.4l0.4 1.9M378.3 617.4l1.1 1.5M381.1 617.4l-0.8 1.7M383.8 617.4l1.0 1.6M386.6 617.4l-0.4 1.9M389.3 617.4l-0.3 1.9M392.1 617.4l-0.1 1.9M394.8 617.4l-0.8 1.7M397.6 617.4l0.7 1.8M400.3 617.4l0.3 1.9M403.1 617.4l-0.4 1.9M405.8 617.4l-0.2 1.9M408.6 617.4l-0.8 1.7M411.3 617.4l-0.2 1.9M414.1 617.4l0.5 1.8M416.8 617.4l-0.9 1.7M419.6 617.4l-0.2 1.9M422.3 617.4l0.1 1.9M425.1 617.4l0.6 1.8M427.8 617.4l0.7 1.7M430.6 617.4l-0.3 1.9M433.3 617.4l-0.4 1.9M436.1 617.4l0.3 1.9M438.8 617.4l-0.2 1.9M441.6 617.4l-0.2 1.9M353.6 620.8l0.9 1.7M356.4 620.8l0.2 1.9M359.1 620.8l-0.1 1.9M361.9 620.8l0.3 1.9M364.6 620.8l-1.0 1.6M367.4 620.8l-0.0 1.9M370.1 620.8l-0.6 1.8M372.9 620.8l1.2 1.4M375.6 620.8l0.4 1.9M378.4 620.8l0.1 1.9M381.1 620.8l-0.1 1.9M383.9 620.8l-1.3 1.4M386.6 620.8l0.4 1.9M389.4 620.8l0.9 1.7M392.1 620.8l-0.4 1.9M394.9 620.8l0.4 1.9M397.6 620.8l0.4 1.9M400.4 620.8l-0.9 1.7M403.1 620.8l0.5 1.8M405.9 620.8l0.8 1.7M408.6 620.8l0.1 1.9M411.4 620.8l-0.0 1.9M414.1 620.8l0.4 1.8M416.9 620.8l-0.8 1.7M419.6 620.8l0.1 1.9M422.4 620.8l0.6 1.8M425.1 620.8l-0.7 1.8M427.9 620.8l0.6 1.8M430.6 620.8l-0.2 1.9M433.4 620.8l-1.1 1.5M436.1 620.8l-0.1 1.9M438.9 620.8l-0.5 1.8M441.6 620.8l0.2 1.9M350.7 624.2l0.6 1.8M353.5 624.2l-0.4 1.9M356.2 624.2l0.2 1.9M359.0 624.2l-0.3 1.9M361.7 624.2l-0.2 1.9M364.5 624.2l0.7 1.8M367.2 624.2l0.1 1.9M370.0 624.2l-0.2 1.9M372.7 624.2l-0.7 1.8M375.5 624.2l0.6 1.8M378.2 624.2l0.4 1.9M381.0 624.2l-0.2 1.9M383.7 624.2l0.1 1.9M386.5 624.2l-0.6 1.8M389.2 624.2l-0.6 1.8M392.0 624.2l-0.5 1.8M394.7 624.2l0.2 1.9M397.5 624.2l0.2 1.9M400.2 624.2l-0.4 1.9M403.0 624.2l0.4 1.9M405.7 624.2l0.4 1.8M408.5 624.2l0.1 1.9M411.2 624.2l0.6 1.8M414.0 624.2l-0.2 1.9M416.7 624.2l-0.1 1.9M419.5 624.2l0.3 1.9M422.2 624.2l-0.0 1.9M425.0 624.2l0.4 1.8M427.7 624.2l-0.7 1.8M430.5 624.2l0.8 1.7M433.2 624.2l-0.4 1.8M436.0 624.2l-0.1 1.9M438.7 624.2l-0.8 1.7M351.1 627.6l0.7 1.8M353.8 627.6l0.6 1.8M356.6 627.6l0.5 1.8M359.3 627.6l-0.9 1.7M362.1 627.6l-0.4 1.8M364.8 627.6l-0.3 1.9M367.6 627.6l-0.5 1.8M370.3 627.6l0.6 1.8M373.1 627.6l0.1 1.9M375.8 627.6l-0.0 1.9M378.6 627.6l0.3 1.9M384.1 627.6l-0.5 1.8M386.8 627.6l-0.5 1.8M389.6 627.6l-0.5 1.8M392.3 627.6l0.3 1.9M395.1 627.6l0.2 1.9M397.8 627.6l0.3 1.9M400.6 627.6l0.6 1.8M403.3 627.6l-0.8 1.7M406.1 627.6l-0.3 1.9M408.8 627.6l0.1 1.9M411.6 627.6l-0.7 1.7M414.3 627.6l-0.3 1.9M417.1 627.6l0.6 1.8M419.8 627.6l0.6 1.8M422.6 627.6l0.6 1.8M425.3 627.6l0.0 1.9M428.1 627.6l-0.1 1.9M430.8 627.6l0.6 1.8M433.6 627.6l-0.2 1.9M436.3 627.6l0.2 1.9M351.3 631.0l-0.2 1.9M354.1 631.0l-0.3 1.9M356.8 631.0l-0.0 1.9M359.6 631.0l0.3 1.9M362.3 631.0l0.3 1.9M365.1 631.0l0.1 1.9M367.8 631.0l0.3 1.9M370.6 631.0l-0.9 1.7M373.3 631.0l-0.5 1.8M376.1 631.0l0.1 1.9M387.1 631.0l-0.5 1.8M389.8 631.0l-0.7 1.7M392.6 631.0l-0.7 1.8M395.3 631.0l-0.5 1.8M398.1 631.0l-0.1 1.9M400.8 631.0l-0.6 1.8M403.6 631.0l0.1 1.9M406.3 631.0l0.9 1.7M409.1 631.0l-0.1 1.9M411.8 631.0l0.7 1.8M414.6 631.0l0.2 1.9M417.3 631.0l-0.6 1.8M420.1 631.0l-0.1 1.9M422.8 631.0l-0.6 1.8M425.6 631.0l0.4 1.8M428.3 631.0l-0.6 1.8M431.1 631.0l0.7 1.8M433.8 631.0l0.3 1.9M356.6 634.4l0.4 1.8M359.4 634.4l0.9 1.7M362.1 634.4l-0.4 1.8M364.9 634.4l0.6 1.8M367.6 634.4l-1.0 1.6M370.4 634.4l0.1 1.9M392.4 634.4l-0.9 1.7M395.1 634.4l0.3 1.9M397.9 634.4l-1.0 1.6M400.6 634.4l-1.3 1.3M403.4 634.4l0.2 1.9M406.1 634.4l1.2 1.5M408.9 634.4l-0.3 1.9M411.6 634.4l0.5 1.8M414.4 634.4l0.1 1.9M417.1 634.4l-0.2 1.9M419.9 634.4l0.3 1.9M422.6 634.4l0.9 1.7M425.4 634.4l-0.7 1.8M428.1 634.4l0.3 1.9M430.9 634.4l0.2 1.9M361.6 637.8l0.9 1.7M364.3 637.8l1.0 1.6M367.1 637.8l-0.5 1.8M369.8 637.8l0.9 1.6M372.6 637.8l0.0 1.9M397.3 637.8l-0.1 1.9M400.1 637.8l0.8 1.7M402.8 637.8l0.1 1.9M405.6 637.8l0.2 1.9M408.3 637.8l0.8 1.7M411.1 637.8l0.7 1.8M413.8 637.8l0.5 1.8M416.6 637.8l-0.8 1.7M419.3 637.8l-0.9 1.7M365.2 641.2l-0.5 1.8M368.0 641.2l0.1 1.9M370.7 641.2l-0.6 1.8M373.5 641.2l-0.1 1.9M376.2 641.2l-0.7 1.8M379.0 641.2l0.9 1.7M370.1 644.6l-0.1 1.9M372.9 644.6l-0.1 1.9M375.6 644.6l0.7 1.8M378.4 644.6l-0.8 1.7M373.3 648.0l-0.1 1.9M376.0 648.0l0.3 1.9" stroke="#000" stroke-width=".5" fill="none"/><text x="407.6" y="590.2" font-size="6.6" font-weight="bold" fill="#1a1a1a" text-anchor="middle">Terminal Tex</text><text x="408.0" y="609.0" font-size="6.6" font-weight="bold" fill="#1a1a1a" text-anchor="middle">Texp</text>
<path d="M29.50 169V282.2H190.50" fill="none" stroke="#222" stroke-width=".9"/>
<path d="M27.50 277.30H29.50" stroke="#444" stroke-width=".6"/>
<text x="26.30" y="279.30" font-size="5.6" fill="#4d4d4d" text-anchor="end">0.00</text>
<path d="M27.50 251.50H29.50" stroke="#444" stroke-width=".6"/>
<text x="26.30" y="253.50" font-size="5.6" fill="#4d4d4d" text-anchor="end">0.25</text>
<path d="M27.50 225.70H29.50" stroke="#444" stroke-width=".6"/>
<text x="26.30" y="227.70" font-size="5.6" fill="#4d4d4d" text-anchor="end">0.50</text>
<path d="M27.50 199.90H29.50" stroke="#444" stroke-width=".6"/>
<text x="26.30" y="201.90" font-size="5.6" fill="#4d4d4d" text-anchor="end">0.75</text>
<path d="M27.50 174.10H29.50" stroke="#444" stroke-width=".6"/>
<text x="26.30" y="176.10" font-size="5.6" fill="#4d4d4d" text-anchor="end">1.00</text>
<text x="11.60" y="225.50" font-size="7.2" fill="#1a1a1a" text-anchor="middle" transform="rotate(-90 11.60 225.50)">Fraction</text>
<rect x="34.10" y="174.10" width="9.3" height="103.20" fill="#a8cfde" stroke="#333" stroke-width=".7"/>
<rect x="34.10" y="274.20" width="9.3" height="3.10" fill="#3b7db2" stroke="#333" stroke-width=".7"/>
<path d="M38.75 282.2V284" stroke="#444" stroke-width=".6"/>
<text x="39.95" y="288.40" font-size="6.0" fill="#4d4d4d" text-anchor="end" transform="rotate(-33 39.95 288.40)">CD4 Tn</text>
<rect x="49.94" y="174.10" width="9.3" height="103.20" fill="#a8cfde" stroke="#333" stroke-width=".7"/>
<rect x="49.94" y="271.11" width="9.3" height="6.19" fill="#3b7db2" stroke="#333" stroke-width=".7"/>
<path d="M54.59 282.2V284" stroke="#444" stroke-width=".6"/>
<text x="55.79" y="288.40" font-size="6.0" fill="#4d4d4d" text-anchor="end" transform="rotate(-33 55.79 288.40)">CD4 Treg</text>
<rect x="65.78" y="174.10" width="9.3" height="103.20" fill="#a8cfde" stroke="#333" stroke-width=".7"/>
<rect x="65.78" y="270.08" width="9.3" height="7.22" fill="#3b7db2" stroke="#333" stroke-width=".7"/>
<path d="M70.43 282.2V284" stroke="#444" stroke-width=".6"/>
<text x="71.63" y="288.40" font-size="6.0" fill="#4d4d4d" text-anchor="end" transform="rotate(-33 71.63 288.40)">CD4 Th/Th1</text>
<rect x="81.62" y="174.10" width="9.3" height="103.20" fill="#a8cfde" stroke="#333" stroke-width=".7"/>
<rect x="81.62" y="251.50" width="9.3" height="25.80" fill="#3b7db2" stroke="#333" stroke-width=".7"/>
<path d="M86.27 282.2V284" stroke="#444" stroke-width=".6"/>
<text x="87.47" y="288.40" font-size="6.0" fill="#4d4d4d" text-anchor="end" transform="rotate(-33 87.47 288.40)">other CD4 T</text>
<rect x="97.46" y="174.10" width="9.3" height="103.20" fill="#a8cfde" stroke="#333" stroke-width=".7"/>
<rect x="97.46" y="245.31" width="9.3" height="31.99" fill="#3b7db2" stroke="#333" stroke-width=".7"/>
<path d="M102.11 282.2V284" stroke="#444" stroke-width=".6"/>
<text x="103.31" y="288.40" font-size="6.0" fill="#4d4d4d" text-anchor="end" transform="rotate(-33 103.31 288.40)">CD8 Tn</text>
<rect x="113.30" y="174.10" width="9.3" height="103.20" fill="#a8cfde" stroke="#333" stroke-width=".7"/>
<rect x="113.30" y="227.76" width="9.3" height="49.54" fill="#3b7db2" stroke="#333" stroke-width=".7"/>
<path d="M117.95 282.2V284" stroke="#444" stroke-width=".6"/>
<text x="119.15" y="288.40" font-size="6.0" fill="#4d4d4d" text-anchor="end" transform="rotate(-33 119.15 288.40)">CD8 Tem</text>
<rect x="129.14" y="174.10" width="9.3" height="103.20" fill="#a8cfde" stroke="#333" stroke-width=".7"/>
<rect x="129.14" y="213.32" width="9.3" height="63.98" fill="#3b7db2" stroke="#333" stroke-width=".7"/>
<path d="M133.79 282.2V284" stroke="#444" stroke-width=".6"/>
<text x="134.99" y="288.40" font-size="6.0" fill="#4d4d4d" text-anchor="end" transform="rotate(-33 134.99 288.40)">CD8 Teff</text>
<rect x="144.98" y="174.10" width="9.3" height="103.20" fill="#a8cfde" stroke="#333" stroke-width=".7"/>
<rect x="144.98" y="211.25" width="9.3" height="66.05" fill="#3b7db2" stroke="#333" stroke-width=".7"/>
<path d="M149.63 282.2V284" stroke="#444" stroke-width=".6"/>
<text x="150.83" y="288.40" font-size="6.0" fill="#4d4d4d" text-anchor="end" transform="rotate(-33 150.83 288.40)">Terminal CD8 Tex</text>
<rect x="160.82" y="174.10" width="9.3" height="103.20" fill="#a8cfde" stroke="#333" stroke-width=".7"/>
<rect x="160.82" y="209.19" width="9.3" height="68.11" fill="#3b7db2" stroke="#333" stroke-width=".7"/>
<path d="M165.47 282.2V284" stroke="#444" stroke-width=".6"/>
<text x="166.67" y="288.40" font-size="6.0" fill="#4d4d4d" text-anchor="end" transform="rotate(-33 166.67 288.40)">Proliferative CD8 Tex</text>
<rect x="176.66" y="174.10" width="9.3" height="103.20" fill="#a8cfde" stroke="#333" stroke-width=".7"/>
<rect x="176.66" y="240.15" width="9.3" height="37.15" fill="#3b7db2" stroke="#333" stroke-width=".7"/>
<path d="M181.31 282.2V284" stroke="#444" stroke-width=".6"/>
<text x="182.51" y="288.40" font-size="6.0" fill="#4d4d4d" text-anchor="end" transform="rotate(-33 182.51 288.40)">other CD8 T</text>
<text x="27.40" y="157.40" font-size="9.5" fill="#111" text-anchor="start">Pre</text>
<rect x="77.30" y="146.8" width="10.6" height="10.6" fill="#a8cfde" stroke="#333" stroke-width=".7"/>
<text x="90.60" y="154.80" font-size="8.2" fill="#333" text-anchor="start">n &lt; 3</text>
<rect x="113.80" y="146.8" width="10.6" height="10.6" fill="#3b7db2" stroke="#333" stroke-width=".7"/>
<text x="126.80" y="154.80" font-size="8.2" fill="#333" text-anchor="start">n ≥ 3</text>
<path d="M225.50 169V282.2H386.50" fill="none" stroke="#222" stroke-width=".9"/>
<path d="M223.50 277.30H225.50" stroke="#444" stroke-width=".6"/>
<text x="222.30" y="279.30" font-size="5.6" fill="#4d4d4d" text-anchor="end">0.00</text>
<path d="M223.50 251.50H225.50" stroke="#444" stroke-width=".6"/>
<text x="222.30" y="253.50" font-size="5.6" fill="#4d4d4d" text-anchor="end">0.25</text>
<path d="M223.50 225.70H225.50" stroke="#444" stroke-width=".6"/>
<text x="222.30" y="227.70" font-size="5.6" fill="#4d4d4d" text-anchor="end">0.50</text>
<path d="M223.50 199.90H225.50" stroke="#444" stroke-width=".6"/>
<text x="222.30" y="201.90" font-size="5.6" fill="#4d4d4d" text-anchor="end">0.75</text>
<path d="M223.50 174.10H225.50" stroke="#444" stroke-width=".6"/>
<text x="222.30" y="176.10" font-size="5.6" fill="#4d4d4d" text-anchor="end">1.00</text>
<text x="207.60" y="225.50" font-size="7.2" fill="#1a1a1a" text-anchor="middle" transform="rotate(-90 207.60 225.50)">Fraction</text>
<rect x="230.10" y="174.10" width="9.3" height="103.20" fill="#a8cfde" stroke="#333" stroke-width=".7"/>
<rect x="230.10" y="273.69" width="9.3" height="3.61" fill="#3b7db2" stroke="#333" stroke-width=".7"/>
<path d="M234.75 282.2V284" stroke="#444" stroke-width=".6"/>
<text x="235.95" y="288.40" font-size="6.0" fill="#4d4d4d" text-anchor="end" transform="rotate(-33 235.95 288.40)">CD4 Tn</text>
<rect x="245.94" y="174.10" width="9.3" height="103.20" fill="#a8cfde" stroke="#333" stroke-width=".7"/>
<path d="M250.59 282.2V284" stroke="#444" stroke-width=".6"/>
<text x="251.79" y="288.40" font-size="6.0" fill="#4d4d4d" text-anchor="end" transform="rotate(-33 251.79 288.40)">CD4 Treg</text>
<rect x="261.78" y="174.10" width="9.3" height="103.20" fill="#a8cfde" stroke="#333" stroke-width=".7"/>
<rect x="261.78" y="276.27" width="9.3" height="1.03" fill="#3b7db2" stroke="#333" stroke-width=".7"/>
<path d="M266.43 282.2V284" stroke="#444" stroke-width=".6"/>
<text x="267.63" y="288.40" font-size="6.0" fill="#4d4d4d" text-anchor="end" transform="rotate(-33 267.63 288.40)">CD4 Th/Th1</text>
<rect x="277.62" y="174.10" width="9.3" height="103.20" fill="#a8cfde" stroke="#333" stroke-width=".7"/>
<rect x="277.62" y="266.98" width="9.3" height="10.32" fill="#3b7db2" stroke="#333" stroke-width=".7"/>
<path d="M282.27 282.2V284" stroke="#444" stroke-width=".6"/>
<text x="283.47" y="288.40" font-size="6.0" fill="#4d4d4d" text-anchor="end" transform="rotate(-33 283.47 288.40)">other CD4 T</text>
<rect x="293.46" y="174.10" width="9.3" height="103.20" fill="#a8cfde" stroke="#333" stroke-width=".7"/>
<rect x="293.46" y="229.83" width="9.3" height="47.47" fill="#3b7db2" stroke="#333" stroke-width=".7"/>
<path d="M298.11 282.2V284" stroke="#444" stroke-width=".6"/>
<text x="299.31" y="288.40" font-size="6.0" fill="#4d4d4d" text-anchor="end" transform="rotate(-33 299.31 288.40)">CD8 Tn</text>
<rect x="309.30" y="174.10" width="9.3" height="103.20" fill="#a8cfde" stroke="#333" stroke-width=".7"/>
<rect x="309.30" y="221.57" width="9.3" height="55.73" fill="#3b7db2" stroke="#333" stroke-width=".7"/>
<path d="M313.95 282.2V284" stroke="#444" stroke-width=".6"/>
<text x="315.15" y="288.40" font-size="6.0" fill="#4d4d4d" text-anchor="end" transform="rotate(-33 315.15 288.40)">CD8 Tem</text>
<rect x="325.14" y="174.10" width="9.3" height="103.20" fill="#a8cfde" stroke="#333" stroke-width=".7"/>
<rect x="325.14" y="194.74" width="9.3" height="82.56" fill="#3b7db2" stroke="#333" stroke-width=".7"/>
<path d="M329.79 282.2V284" stroke="#444" stroke-width=".6"/>
<text x="330.99" y="288.40" font-size="6.0" fill="#4d4d4d" text-anchor="end" transform="rotate(-33 330.99 288.40)">CD8 Teff</text>
<rect x="340.98" y="174.10" width="9.3" height="103.20" fill="#a8cfde" stroke="#333" stroke-width=".7"/>
<rect x="340.98" y="197.84" width="9.3" height="79.46" fill="#3b7db2" stroke="#333" stroke-width=".7"/>
<path d="M345.63 282.2V284" stroke="#444" stroke-width=".6"/>
<text x="346.83" y="288.40" font-size="6.0" fill="#4d4d4d" text-anchor="end" transform="rotate(-33 346.83 288.40)">Terminal CD8 Tex</text>
<rect x="356.82" y="174.10" width="9.3" height="103.20" fill="#a8cfde" stroke="#333" stroke-width=".7"/>
<rect x="356.82" y="223.64" width="9.3" height="53.66" fill="#3b7db2" stroke="#333" stroke-width=".7"/>
<path d="M361.47 282.2V284" stroke="#444" stroke-width=".6"/>
<text x="362.67" y="288.40" font-size="6.0" fill="#4d4d4d" text-anchor="end" transform="rotate(-33 362.67 288.40)">Proliferative CD8 Tex</text>
<rect x="372.66" y="174.10" width="9.3" height="103.20" fill="#a8cfde" stroke="#333" stroke-width=".7"/>
<rect x="372.66" y="260.79" width="9.3" height="16.51" fill="#3b7db2" stroke="#333" stroke-width=".7"/>
<path d="M377.31 282.2V284" stroke="#444" stroke-width=".6"/>
<text x="378.51" y="288.40" font-size="6.0" fill="#4d4d4d" text-anchor="end" transform="rotate(-33 378.51 288.40)">other CD8 T</text>
<text x="223.40" y="157.40" font-size="9.5" fill="#111" text-anchor="start">Post-R</text>
<rect x="273.30" y="146.8" width="10.6" height="10.6" fill="#a8cfde" stroke="#333" stroke-width=".7"/>
<text x="286.60" y="154.80" font-size="8.2" fill="#333" text-anchor="start">n &lt; 3</text>
<rect x="309.80" y="146.8" width="10.6" height="10.6" fill="#3b7db2" stroke="#333" stroke-width=".7"/>
<text x="322.80" y="154.80" font-size="8.2" fill="#333" text-anchor="start">n ≥ 3</text>
<path d="M421.50 169V282.2H582.50" fill="none" stroke="#222" stroke-width=".9"/>
<path d="M419.50 277.30H421.50" stroke="#444" stroke-width=".6"/>
<text x="418.30" y="279.30" font-size="5.6" fill="#4d4d4d" text-anchor="end">0.00</text>
<path d="M419.50 251.50H421.50" stroke="#444" stroke-width=".6"/>
<text x="418.30" y="253.50" font-size="5.6" fill="#4d4d4d" text-anchor="end">0.25</text>
<path d="M419.50 225.70H421.50" stroke="#444" stroke-width=".6"/>
<text x="418.30" y="227.70" font-size="5.6" fill="#4d4d4d" text-anchor="end">0.50</text>
<path d="M419.50 199.90H421.50" stroke="#444" stroke-width=".6"/>
<text x="418.30" y="201.90" font-size="5.6" fill="#4d4d4d" text-anchor="end">0.75</text>
<path d="M419.50 174.10H421.50" stroke="#444" stroke-width=".6"/>
<text x="418.30" y="176.10" font-size="5.6" fill="#4d4d4d" text-anchor="end">1.00</text>
<text x="403.60" y="225.50" font-size="7.2" fill="#1a1a1a" text-anchor="middle" transform="rotate(-90 403.60 225.50)">Fraction</text>
<rect x="426.10" y="174.10" width="9.3" height="103.20" fill="#a8cfde" stroke="#333" stroke-width=".7"/>
<rect x="426.10" y="273.17" width="9.3" height="4.13" fill="#3b7db2" stroke="#333" stroke-width=".7"/>
<path d="M430.75 282.2V284" stroke="#444" stroke-width=".6"/>
<text x="431.95" y="288.40" font-size="6.0" fill="#4d4d4d" text-anchor="end" transform="rotate(-33 431.95 288.40)">CD4 Tn</text>
<rect x="441.94" y="174.10" width="9.3" height="103.20" fill="#a8cfde" stroke="#333" stroke-width=".7"/>
<rect x="441.94" y="253.56" width="9.3" height="23.74" fill="#3b7db2" stroke="#333" stroke-width=".7"/>
<path d="M446.59 282.2V284" stroke="#444" stroke-width=".6"/>
<text x="447.79" y="288.40" font-size="6.0" fill="#4d4d4d" text-anchor="end" transform="rotate(-33 447.79 288.40)">CD4 Treg</text>
<rect x="457.78" y="174.10" width="9.3" height="103.20" fill="#a8cfde" stroke="#333" stroke-width=".7"/>
<rect x="457.78" y="265.95" width="9.3" height="11.35" fill="#3b7db2" stroke="#333" stroke-width=".7"/>
<path d="M462.43 282.2V284" stroke="#444" stroke-width=".6"/>
<text x="463.63" y="288.40" font-size="6.0" fill="#4d4d4d" text-anchor="end" transform="rotate(-33 463.63 288.40)">CD4 Th/Th1</text>
<rect x="473.62" y="174.10" width="9.3" height="103.20" fill="#a8cfde" stroke="#333" stroke-width=".7"/>
<rect x="473.62" y="246.34" width="9.3" height="30.96" fill="#3b7db2" stroke="#333" stroke-width=".7"/>
<path d="M478.27 282.2V284" stroke="#444" stroke-width=".6"/>
<text x="479.47" y="288.40" font-size="6.0" fill="#4d4d4d" text-anchor="end" transform="rotate(-33 479.47 288.40)">other CD4 T</text>
<rect x="489.46" y="174.10" width="9.3" height="103.20" fill="#a8cfde" stroke="#333" stroke-width=".7"/>
<rect x="489.46" y="247.37" width="9.3" height="29.93" fill="#3b7db2" stroke="#333" stroke-width=".7"/>
<path d="M494.11 282.2V284" stroke="#444" stroke-width=".6"/>
<text x="495.31" y="288.40" font-size="6.0" fill="#4d4d4d" text-anchor="end" transform="rotate(-33 495.31 288.40)">CD8 Tn</text>
<rect x="505.30" y="174.10" width="9.3" height="103.20" fill="#a8cfde" stroke="#333" stroke-width=".7"/>
<rect x="505.30" y="220.54" width="9.3" height="56.76" fill="#3b7db2" stroke="#333" stroke-width=".7"/>
<path d="M509.95 282.2V284" stroke="#444" stroke-width=".6"/>
<text x="511.15" y="288.40" font-size="6.0" fill="#4d4d4d" text-anchor="end" transform="rotate(-33 511.15 288.40)">CD8 Tem</text>
<rect x="521.14" y="174.10" width="9.3" height="103.20" fill="#a8cfde" stroke="#333" stroke-width=".7"/>
<rect x="521.14" y="222.60" width="9.3" height="54.70" fill="#3b7db2" stroke="#333" stroke-width=".7"/>
<path d="M525.79 282.2V284" stroke="#444" stroke-width=".6"/>
<text x="526.99" y="288.40" font-size="6.0" fill="#4d4d4d" text-anchor="end" transform="rotate(-33 526.99 288.40)">CD8 Teff</text>
<rect x="536.98" y="174.10" width="9.3" height="103.20" fill="#a8cfde" stroke="#333" stroke-width=".7"/>
<rect x="536.98" y="198.87" width="9.3" height="78.43" fill="#3b7db2" stroke="#333" stroke-width=".7"/>
<path d="M541.63 282.2V284" stroke="#444" stroke-width=".6"/>
<text x="542.83" y="288.40" font-size="6.0" fill="#4d4d4d" text-anchor="end" transform="rotate(-33 542.83 288.40)">Terminal CD8 Tex</text>
<rect x="552.82" y="174.10" width="9.3" height="103.20" fill="#a8cfde" stroke="#333" stroke-width=".7"/>
<rect x="552.82" y="203.00" width="9.3" height="74.30" fill="#3b7db2" stroke="#333" stroke-width=".7"/>
<path d="M557.47 282.2V284" stroke="#444" stroke-width=".6"/>
<text x="558.67" y="288.40" font-size="6.0" fill="#4d4d4d" text-anchor="end" transform="rotate(-33 558.67 288.40)">Proliferative CD8 Tex</text>
<rect x="568.66" y="174.10" width="9.3" height="103.20" fill="#a8cfde" stroke="#333" stroke-width=".7"/>
<rect x="568.66" y="237.05" width="9.3" height="40.25" fill="#3b7db2" stroke="#333" stroke-width=".7"/>
<path d="M573.31 282.2V284" stroke="#444" stroke-width=".6"/>
<text x="574.51" y="288.40" font-size="6.0" fill="#4d4d4d" text-anchor="end" transform="rotate(-33 574.51 288.40)">other CD8 T</text>
<text x="419.40" y="157.40" font-size="9.5" fill="#111" text-anchor="start">Post-NR</text>
<rect x="469.30" y="146.8" width="10.6" height="10.6" fill="#a8cfde" stroke="#333" stroke-width=".7"/>
<text x="482.60" y="154.80" font-size="8.2" fill="#333" text-anchor="start">n &lt; 3</text>
<rect x="505.80" y="146.8" width="10.6" height="10.6" fill="#3b7db2" stroke="#333" stroke-width=".7"/>
<text x="518.80" y="154.80" font-size="8.2" fill="#333" text-anchor="start">n ≥ 3</text>
<path d="M618.4 158V282.1H678.8" fill="none" stroke="#222" stroke-width=".8"/>
<path d="M616.6 276.60H618.4" stroke="#333" stroke-width=".6"/>
<text x="616.00" y="278.50" font-size="5.3" fill="#222" text-anchor="end" font-weight="bold">0.0</text>
<path d="M616.6 249.23H618.4" stroke="#333" stroke-width=".6"/>
<text x="616.00" y="251.13" font-size="5.3" fill="#222" text-anchor="end" font-weight="bold">0.1</text>
<path d="M616.6 221.86H618.4" stroke="#333" stroke-width=".6"/>
<text x="616.00" y="223.76" font-size="5.3" fill="#222" text-anchor="end" font-weight="bold">0.2</text>
<path d="M616.6 194.49H618.4" stroke="#333" stroke-width=".6"/>
<text x="616.00" y="196.39" font-size="5.3" fill="#222" text-anchor="end" font-weight="bold">0.3</text>
<path d="M616.6 167.12H618.4" stroke="#333" stroke-width=".6"/>
<text x="616.00" y="169.02" font-size="5.3" fill="#222" text-anchor="end" font-weight="bold">0.4</text>
<text x="604.60" y="211.00" font-size="8.1" fill="#111" text-anchor="middle" font-weight="bold" transform="rotate(-90 604.60 211.00)">Gini index</text>
<text x="648.50" y="152.00" font-size="6.5" fill="#111" text-anchor="middle" font-weight="bold">CD4 Treg</text>
<path d="M629.3 282.1V283.6" stroke="#333" stroke-width=".6"/>
<text x="623.70" y="289.80" font-size="5.6" fill="#222" text-anchor="start" font-weight="bold" textLength="9.2" lengthAdjust="spacingAndGlyphs">Pre</text>
<path d="M648.3 282.1V283.6" stroke="#333" stroke-width=".6"/>
<text x="636.00" y="289.80" font-size="5.6" fill="#222" text-anchor="start" font-weight="bold" textLength="17.8" lengthAdjust="spacingAndGlyphs">Post-R</text>
<path d="M667.4 282.1V283.6" stroke="#333" stroke-width=".6"/>
<text x="655.30" y="289.80" font-size="5.6" fill="#222" text-anchor="start" font-weight="bold" textLength="22.0" lengthAdjust="spacingAndGlyphs">Post-NR</text>
<path d="M629.3 226.7V238.1M629.3 261.5V276.6" stroke="#bba3d3" stroke-width=".8"/>
<rect x="623.1" y="238.1" width="13.5" height="23.4" fill="none" stroke="#bba3d3" stroke-width=".8"/>
<path d="M623.1 256.2H636.6" stroke="#bba3d3" stroke-width="1.0"/>
<path d="M641.9 276.6H654.5" stroke="#bba3d3" stroke-width="1.0"/>
<path d="M667.1 188.8V210.4M667.1 250.5V276.6" stroke="#bba3d3" stroke-width=".8"/>
<rect x="660.7" y="210.4" width="13.8" height="40.1" fill="none" stroke="#bba3d3" stroke-width=".8"/>
<path d="M660.7 233.5H674.5" stroke="#bba3d3" stroke-width="1.0"/>
<circle cx="629.3" cy="226.7" r="1.6" fill="#bba3d3"/>
<circle cx="629.8" cy="234.0" r="1.6" fill="#bba3d3"/>
<circle cx="629.3" cy="242.5" r="1.6" fill="#bba3d3"/>
<circle cx="629.3" cy="255.5" r="1.6" fill="#bba3d3"/>
<circle cx="629.8" cy="263.8" r="1.6" fill="#bba3d3"/>
<circle cx="629.3" cy="276.6" r="1.6" fill="#bba3d3"/>
<circle cx="648.3" cy="268.8" r="1.6" fill="#bba3d3"/>
<circle cx="648.3" cy="276.6" r="1.6" fill="#bba3d3"/>
<circle cx="667.1" cy="188.8" r="1.6" fill="#bba3d3"/>
<circle cx="667.1" cy="204.9" r="1.6" fill="#bba3d3"/>
<circle cx="667.1" cy="226.7" r="1.6" fill="#bba3d3"/>
<circle cx="667.1" cy="232.9" r="1.6" fill="#bba3d3"/>
<circle cx="667.1" cy="244.3" r="1.6" fill="#bba3d3"/>
<circle cx="667.1" cy="252.3" r="1.6" fill="#bba3d3"/>
<circle cx="667.1" cy="262.1" r="1.6" fill="#bba3d3"/>
<circle cx="667.1" cy="276.6" r="1.6" fill="#bba3d3"/>
<path d="M629.3 187.0V184.2H648.3V187.0M629.3 176.6V173.9H667.1V176.6M648.3 165.9V163.2H667.1V165.9" fill="none" stroke="#555" stroke-width=".6"/>
<text x="639.00" y="183.20" font-size="6.5" fill="#333" text-anchor="middle">*</text>
<text x="648.20" y="172.30" font-size="4.8" fill="#555" text-anchor="middle">ns</text>
<text x="657.70" y="162.30" font-size="6.5" fill="#333" text-anchor="middle">**</text>
<text x="95.00" y="326.30" font-size="8.5" fill="#111" text-anchor="start">Pre</text>
<rect x="49.64" y="329.20" width="20.04" height="17.34" fill="#3a70b5" stroke="#c8d4e6" stroke-width=".3"/>
<text x="59.66" y="339.37" font-size="4.3" fill="#fff" text-anchor="middle">0.19</text>
<rect x="69.68" y="329.20" width="20.04" height="17.34" fill="#223d78" stroke="#c8d4e6" stroke-width=".3"/>
<text x="79.70" y="339.37" font-size="4.3" fill="#fff" text-anchor="middle">0.03</text>
<rect x="89.72" y="329.20" width="20.04" height="17.34" fill="#3460a6" stroke="#c8d4e6" stroke-width=".3"/>
<text x="99.74" y="339.37" font-size="4.3" fill="#fff" text-anchor="middle">0.14</text>
<rect x="109.76" y="329.20" width="20.04" height="17.34" fill="#203a72" stroke="#c8d4e6" stroke-width=".3"/>
<text x="119.78" y="339.37" font-size="4.3" fill="#fff" text-anchor="middle">0.02</text>
<rect x="129.80" y="329.20" width="20.04" height="17.34" fill="#1f366d" stroke="#c8d4e6" stroke-width=".3"/>
<text x="139.82" y="339.37" font-size="4.3" fill="#fff" text-anchor="middle">0.01</text>
<rect x="149.84" y="329.20" width="20.04" height="17.34" fill="#274786" stroke="#c8d4e6" stroke-width=".3"/>
<text x="159.86" y="339.37" font-size="4.3" fill="#fff" text-anchor="middle">0.06</text>
<rect x="29.60" y="346.54" width="20.04" height="17.34" fill="#254482" stroke="#c8d4e6" stroke-width=".3"/>
<text x="39.62" y="356.71" font-size="4.3" fill="#fff" text-anchor="middle">0.05</text>
<rect x="69.68" y="346.54" width="20.04" height="17.34" fill="#223d78" stroke="#c8d4e6" stroke-width=".3"/>
<text x="79.70" y="356.71" font-size="4.3" fill="#fff" text-anchor="middle">0.03</text>
<rect x="89.72" y="346.54" width="20.04" height="17.34" fill="#325da2" stroke="#c8d4e6" stroke-width=".3"/>
<text x="99.74" y="356.71" font-size="4.3" fill="#fff" text-anchor="middle">0.13</text>
<rect x="109.76" y="346.54" width="20.04" height="17.34" fill="#23417d" stroke="#c8d4e6" stroke-width=".3"/>
<text x="119.78" y="356.71" font-size="4.3" fill="#fff" text-anchor="middle">0.04</text>
<rect x="129.80" y="346.54" width="20.04" height="17.34" fill="#203a72" stroke="#c8d4e6" stroke-width=".3"/>
<text x="139.82" y="356.71" font-size="4.3" fill="#fff" text-anchor="middle">0.02</text>
<rect x="149.84" y="346.54" width="20.04" height="17.34" fill="#254482" stroke="#c8d4e6" stroke-width=".3"/>
<text x="159.86" y="356.71" font-size="4.3" fill="#fff" text-anchor="middle">0.05</text>
<rect x="29.60" y="363.88" width="20.04" height="17.34" fill="#2f579a" stroke="#c8d4e6" stroke-width=".3"/>
<text x="39.62" y="374.05" font-size="4.3" fill="#fff" text-anchor="middle">0.11</text>
<rect x="49.64" y="363.88" width="20.04" height="17.34" fill="#5ea0cc" stroke="#c8d4e6" stroke-width=".3"/>
<text x="59.66" y="374.05" font-size="4.3" fill="#fff" text-anchor="middle">0.37</text>
<rect x="89.72" y="363.88" width="20.04" height="17.34" fill="#284a8a" stroke="#c8d4e6" stroke-width=".3"/>
<text x="99.74" y="374.05" font-size="4.3" fill="#fff" text-anchor="middle">0.07</text>
<rect x="109.76" y="363.88" width="20.04" height="17.34" fill="#1d3368" stroke="#c8d4e6" stroke-width=".3"/>
<text x="119.78" y="374.05" font-size="4.3" fill="#fff" text-anchor="middle">0.00</text>
<rect x="129.80" y="363.88" width="20.04" height="17.34" fill="#284a8a" stroke="#c8d4e6" stroke-width=".3"/>
<text x="139.82" y="374.05" font-size="4.3" fill="#fff" text-anchor="middle">0.07</text>
<rect x="149.84" y="363.88" width="20.04" height="17.34" fill="#23417d" stroke="#c8d4e6" stroke-width=".3"/>
<text x="159.86" y="374.05" font-size="4.3" fill="#fff" text-anchor="middle">0.04</text>
<rect x="29.60" y="381.22" width="20.04" height="17.34" fill="#254482" stroke="#c8d4e6" stroke-width=".3"/>
<text x="39.62" y="391.39" font-size="4.3" fill="#fff" text-anchor="middle">0.05</text>
<rect x="49.64" y="381.22" width="20.04" height="17.34" fill="#3664aa" stroke="#c8d4e6" stroke-width=".3"/>
<text x="59.66" y="391.39" font-size="4.3" fill="#fff" text-anchor="middle">0.15</text>
<rect x="69.68" y="381.22" width="20.04" height="17.34" fill="#1f366d" stroke="#c8d4e6" stroke-width=".3"/>
<text x="79.70" y="391.39" font-size="4.3" fill="#fff" text-anchor="middle">0.01</text>
<rect x="109.76" y="381.22" width="20.04" height="17.34" fill="#2d5496" stroke="#c8d4e6" stroke-width=".3"/>
<text x="119.78" y="391.39" font-size="4.3" fill="#fff" text-anchor="middle">0.10</text>
<rect x="129.80" y="381.22" width="20.04" height="17.34" fill="#203a72" stroke="#c8d4e6" stroke-width=".3"/>
<text x="139.82" y="391.39" font-size="4.3" fill="#fff" text-anchor="middle">0.02</text>
<rect x="149.84" y="381.22" width="20.04" height="17.34" fill="#284a8a" stroke="#c8d4e6" stroke-width=".3"/>
<text x="159.86" y="391.39" font-size="4.3" fill="#fff" text-anchor="middle">0.07</text>
<rect x="29.60" y="398.56" width="20.04" height="17.34" fill="#23417d" stroke="#c8d4e6" stroke-width=".3"/>
<text x="39.62" y="408.73" font-size="4.3" fill="#fff" text-anchor="middle">0.04</text>
<rect x="49.64" y="398.56" width="20.04" height="17.34" fill="#3b76b8" stroke="#c8d4e6" stroke-width=".3"/>
<text x="59.66" y="408.73" font-size="4.3" fill="#fff" text-anchor="middle">0.21</text>
<rect x="69.68" y="398.56" width="20.04" height="17.34" fill="#1d3368" stroke="#c8d4e6" stroke-width=".3"/>
<text x="79.70" y="408.73" font-size="4.3" fill="#fff" text-anchor="middle">0.00</text>
<rect x="89.72" y="398.56" width="20.04" height="17.34" fill="#67a8d0" stroke="#c8d4e6" stroke-width=".3"/>
<text x="99.74" y="408.73" font-size="4.3" fill="#fff" text-anchor="middle">0.40</text>
<rect x="129.80" y="398.56" width="20.04" height="17.34" fill="#203a72" stroke="#c8d4e6" stroke-width=".3"/>
<text x="139.82" y="408.73" font-size="4.3" fill="#fff" text-anchor="middle">0.02</text>
<rect x="149.84" y="398.56" width="20.04" height="17.34" fill="#2a4e8e" stroke="#c8d4e6" stroke-width=".3"/>
<text x="159.86" y="408.73" font-size="4.3" fill="#fff" text-anchor="middle">0.08</text>
<rect x="29.60" y="415.90" width="20.04" height="17.34" fill="#254482" stroke="#c8d4e6" stroke-width=".3"/>
<text x="39.62" y="426.07" font-size="4.3" fill="#fff" text-anchor="middle">0.05</text>
<rect x="49.64" y="415.90" width="20.04" height="17.34" fill="#6aabd1" stroke="#c8d4e6" stroke-width=".3"/>
<text x="59.66" y="426.07" font-size="4.3" fill="#fff" text-anchor="middle">0.41</text>
<rect x="69.68" y="415.90" width="20.04" height="17.34" fill="#315a9e" stroke="#c8d4e6" stroke-width=".3"/>
<text x="79.70" y="426.07" font-size="4.3" fill="#fff" text-anchor="middle">0.12</text>
<rect x="89.72" y="415.90" width="20.04" height="17.34" fill="#3d7fbd" stroke="#c8d4e6" stroke-width=".3"/>
<text x="99.74" y="426.07" font-size="4.3" fill="#fff" text-anchor="middle">0.24</text>
<rect x="109.76" y="415.90" width="20.04" height="17.34" fill="#254482" stroke="#c8d4e6" stroke-width=".3"/>
<text x="119.78" y="426.07" font-size="4.3" fill="#fff" text-anchor="middle">0.05</text>
<rect x="149.84" y="415.90" width="20.04" height="17.34" fill="#1d3368" stroke="#c8d4e6" stroke-width=".3"/>
<text x="159.86" y="426.07" font-size="4.3" fill="#fff" text-anchor="middle">0.00</text>
<rect x="29.60" y="433.24" width="20.04" height="17.34" fill="#2c5192" stroke="#c8d4e6" stroke-width=".3"/>
<text x="39.62" y="443.41" font-size="4.3" fill="#fff" text-anchor="middle">0.09</text>
<rect x="49.64" y="433.24" width="20.04" height="17.34" fill="#3b73b7" stroke="#c8d4e6" stroke-width=".3"/>
<text x="59.66" y="443.41" font-size="4.3" fill="#fff" text-anchor="middle">0.20</text>
<rect x="69.68" y="433.24" width="20.04" height="17.34" fill="#1f366d" stroke="#c8d4e6" stroke-width=".3"/>
<text x="79.70" y="443.41" font-size="4.3" fill="#fff" text-anchor="middle">0.01</text>
<rect x="89.72" y="433.24" width="20.04" height="17.34" fill="#396ab2" stroke="#c8d4e6" stroke-width=".3"/>
<text x="99.74" y="443.41" font-size="4.3" fill="#fff" text-anchor="middle">0.17</text>
<rect x="109.76" y="433.24" width="20.04" height="17.34" fill="#254482" stroke="#c8d4e6" stroke-width=".3"/>
<text x="119.78" y="443.41" font-size="4.3" fill="#fff" text-anchor="middle">0.05</text>
<rect x="129.80" y="433.24" width="20.04" height="17.34" fill="#1d3368" stroke="#c8d4e6" stroke-width=".3"/>
<text x="139.82" y="443.41" font-size="4.3" fill="#fff" text-anchor="middle">0.00</text>
<text x="171.08" y="339.87" font-size="5.8" fill="#e8221f" text-anchor="start">CD8_Tn_IL7R(88)</text>
<text x="171.08" y="357.21" font-size="5.8" fill="#e8221f" text-anchor="start">CD8_Tem_GZMK(310)</text>
<text x="171.08" y="374.55" font-size="5.8" fill="#e8221f" text-anchor="start">CD8_Teff_FGFBP2(27)</text>
<text x="171.08" y="391.89" font-size="5.8" fill="#e8221f" text-anchor="start">CD8_Tex_CXCL13(200)</text>
<text x="171.08" y="409.23" font-size="5.8" fill="#e8221f" text-anchor="start">CD8_Tex_STMN1(52)</text>
<text x="171.08" y="426.57" font-size="5.8" fill="#e8221f" text-anchor="start">CD8_Teff_TYROBP(17)</text>
<text x="171.08" y="443.91" font-size="5.8" fill="#e8221f" text-anchor="start">CD8_ISG_ISG15(80)</text>
<text x="41.62" y="452.80" font-size="5.8" fill="#3a52b5" text-anchor="end" transform="rotate(-90 41.62 452.80)">CD8_Tn_IL7R</text>
<text x="61.66" y="452.80" font-size="5.8" fill="#3a52b5" text-anchor="end" transform="rotate(-90 61.66 452.80)">CD8_Tem_GZMK</text>
<text x="81.70" y="452.80" font-size="5.8" fill="#3a52b5" text-anchor="end" transform="rotate(-90 81.70 452.80)">CD8_Teff_FGFBP2</text>
<text x="101.74" y="452.80" font-size="5.8" fill="#3a52b5" text-anchor="end" transform="rotate(-90 101.74 452.80)">CD8_Tex_CXCL13</text>
<text x="121.78" y="452.80" font-size="5.8" fill="#3a52b5" text-anchor="end" transform="rotate(-90 121.78 452.80)">CD8_Tex_STMN1</text>
<text x="141.82" y="452.80" font-size="5.8" fill="#3a52b5" text-anchor="end" transform="rotate(-90 141.82 452.80)">CD8_Teff_TYROBP</text>
<text x="161.86" y="452.80" font-size="5.8" fill="#3a52b5" text-anchor="end" transform="rotate(-90 161.86 452.80)">CD8_ISG_ISG15</text>
<text x="297.00" y="326.30" font-size="8.5" fill="#111" text-anchor="start">Post−R</text>
<rect x="256.84" y="329.20" width="20.04" height="17.34" fill="#3f82be" stroke="#c8d4e6" stroke-width=".3"/>
<text x="266.86" y="339.37" font-size="4.3" fill="#fff" text-anchor="middle">0.25</text>
<rect x="276.88" y="329.20" width="20.04" height="17.34" fill="#23417d" stroke="#c8d4e6" stroke-width=".3"/>
<text x="286.90" y="339.37" font-size="4.3" fill="#fff" text-anchor="middle">0.04</text>
<rect x="296.92" y="329.20" width="20.04" height="17.34" fill="#2f579a" stroke="#c8d4e6" stroke-width=".3"/>
<text x="306.94" y="339.37" font-size="4.3" fill="#fff" text-anchor="middle">0.11</text>
<rect x="316.96" y="329.20" width="20.04" height="17.34" fill="#23417d" stroke="#c8d4e6" stroke-width=".3"/>
<text x="326.98" y="339.37" font-size="4.3" fill="#fff" text-anchor="middle">0.04</text>
<rect x="337.00" y="329.20" width="20.04" height="17.34" fill="#254482" stroke="#c8d4e6" stroke-width=".3"/>
<text x="347.02" y="339.37" font-size="4.3" fill="#fff" text-anchor="middle">0.05</text>
<rect x="357.04" y="329.20" width="20.04" height="17.34" fill="#1f366d" stroke="#c8d4e6" stroke-width=".3"/>
<text x="367.06" y="339.37" font-size="4.3" fill="#fff" text-anchor="middle">0.01</text>
<rect x="236.80" y="346.54" width="20.04" height="17.34" fill="#396ab2" stroke="#c8d4e6" stroke-width=".3"/>
<text x="246.82" y="356.71" font-size="4.3" fill="#fff" text-anchor="middle">0.17</text>
<rect x="276.88" y="346.54" width="20.04" height="17.34" fill="#254482" stroke="#c8d4e6" stroke-width=".3"/>
<text x="286.90" y="356.71" font-size="4.3" fill="#fff" text-anchor="middle">0.05</text>
<rect x="296.92" y="346.54" width="20.04" height="17.34" fill="#315a9e" stroke="#c8d4e6" stroke-width=".3"/>
<text x="306.94" y="356.71" font-size="4.3" fill="#fff" text-anchor="middle">0.12</text>
<rect x="316.96" y="346.54" width="20.04" height="17.34" fill="#223d78" stroke="#c8d4e6" stroke-width=".3"/>
<text x="326.98" y="356.71" font-size="4.3" fill="#fff" text-anchor="middle">0.03</text>
<rect x="337.00" y="346.54" width="20.04" height="17.34" fill="#23417d" stroke="#c8d4e6" stroke-width=".3"/>
<text x="347.02" y="356.71" font-size="4.3" fill="#fff" text-anchor="middle">0.04</text>
<rect x="357.04" y="346.54" width="20.04" height="17.34" fill="#1f366d" stroke="#c8d4e6" stroke-width=".3"/>
<text x="367.06" y="356.71" font-size="4.3" fill="#fff" text-anchor="middle">0.01</text>
<rect x="236.80" y="363.88" width="20.04" height="17.34" fill="#3d7fbd" stroke="#c8d4e6" stroke-width=".3"/>
<text x="246.82" y="374.05" font-size="4.3" fill="#fff" text-anchor="middle">0.24</text>
<rect x="256.84" y="363.88" width="20.04" height="17.34" fill="#6aabd1" stroke="#c8d4e6" stroke-width=".3"/>
<text x="266.86" y="374.05" font-size="4.3" fill="#fff" text-anchor="middle">0.41</text>
<rect x="296.92" y="363.88" width="20.04" height="17.34" fill="#3c79ba" stroke="#c8d4e6" stroke-width=".3"/>
<text x="306.94" y="374.05" font-size="4.3" fill="#fff" text-anchor="middle">0.22</text>
<rect x="316.96" y="363.88" width="20.04" height="17.34" fill="#2a4e8e" stroke="#c8d4e6" stroke-width=".3"/>
<text x="326.98" y="374.05" font-size="4.3" fill="#fff" text-anchor="middle">0.08</text>
<rect x="337.00" y="363.88" width="20.04" height="17.34" fill="#3460a6" stroke="#c8d4e6" stroke-width=".3"/>
<text x="347.02" y="374.05" font-size="4.3" fill="#fff" text-anchor="middle">0.14</text>
<rect x="357.04" y="363.88" width="20.04" height="17.34" fill="#1d3368" stroke="#c8d4e6" stroke-width=".3"/>
<text x="367.06" y="374.05" font-size="4.3" fill="#fff" text-anchor="middle">0.00</text>
<rect x="236.80" y="381.22" width="20.04" height="17.34" fill="#3a6db4" stroke="#c8d4e6" stroke-width=".3"/>
<text x="246.82" y="391.39" font-size="4.3" fill="#fff" text-anchor="middle">0.18</text>
<rect x="256.84" y="381.22" width="20.04" height="17.34" fill="#4a8ec4" stroke="#c8d4e6" stroke-width=".3"/>
<text x="266.86" y="391.39" font-size="4.3" fill="#fff" text-anchor="middle">0.30</text>
<rect x="276.88" y="381.22" width="20.04" height="17.34" fill="#274786" stroke="#c8d4e6" stroke-width=".3"/>
<text x="286.90" y="391.39" font-size="4.3" fill="#fff" text-anchor="middle">0.06</text>
<rect x="316.96" y="381.22" width="20.04" height="17.34" fill="#254482" stroke="#c8d4e6" stroke-width=".3"/>
<text x="326.98" y="391.39" font-size="4.3" fill="#fff" text-anchor="middle">0.05</text>
<rect x="337.00" y="381.22" width="20.04" height="17.34" fill="#2d5496" stroke="#c8d4e6" stroke-width=".3"/>
<text x="347.02" y="391.39" font-size="4.3" fill="#fff" text-anchor="middle">0.10</text>
<rect x="357.04" y="381.22" width="20.04" height="17.34" fill="#1f366d" stroke="#c8d4e6" stroke-width=".3"/>
<text x="367.06" y="391.39" font-size="4.3" fill="#fff" text-anchor="middle">0.01</text>
<rect x="236.80" y="398.56" width="20.04" height="17.34" fill="#79b4d7" stroke="#c8d4e6" stroke-width=".3"/>
<text x="246.82" y="408.73" font-size="4.3" fill="#fff" text-anchor="middle">0.47</text>
<rect x="256.84" y="398.56" width="20.04" height="17.34" fill="#79b4d7" stroke="#c8d4e6" stroke-width=".3"/>
<text x="266.86" y="408.73" font-size="4.3" fill="#fff" text-anchor="middle">0.47</text>
<rect x="276.88" y="398.56" width="20.04" height="17.34" fill="#315a9e" stroke="#c8d4e6" stroke-width=".3"/>
<text x="286.90" y="408.73" font-size="4.3" fill="#fff" text-anchor="middle">0.12</text>
<rect x="296.92" y="398.56" width="20.04" height="17.34" fill="#599bca" stroke="#c8d4e6" stroke-width=".3"/>
<text x="306.94" y="408.73" font-size="4.3" fill="#fff" text-anchor="middle">0.35</text>
<rect x="337.00" y="398.56" width="20.04" height="17.34" fill="#3d7fbd" stroke="#c8d4e6" stroke-width=".3"/>
<text x="347.02" y="408.73" font-size="4.3" fill="#fff" text-anchor="middle">0.24</text>
<rect x="357.04" y="398.56" width="20.04" height="17.34" fill="#274786" stroke="#c8d4e6" stroke-width=".3"/>
<text x="367.06" y="408.73" font-size="4.3" fill="#fff" text-anchor="middle">0.06</text>
<rect x="236.80" y="415.90" width="20.04" height="17.34" fill="#74b1d5" stroke="#c8d4e6" stroke-width=".3"/>
<text x="246.82" y="426.07" font-size="4.3" fill="#fff" text-anchor="middle">0.45</text>
<rect x="256.84" y="415.90" width="20.04" height="17.34" fill="#8cc1e0" stroke="#c8d4e6" stroke-width=".3"/>
<text x="266.86" y="426.07" font-size="4.3" fill="#fff" text-anchor="middle">0.55</text>
<rect x="276.88" y="415.90" width="20.04" height="17.34" fill="#3c7cbb" stroke="#c8d4e6" stroke-width=".3"/>
<text x="286.90" y="426.07" font-size="4.3" fill="#fff" text-anchor="middle">0.23</text>
<rect x="296.92" y="415.90" width="20.04" height="17.34" fill="#80b9db" stroke="#c8d4e6" stroke-width=".3"/>
<text x="306.94" y="426.07" font-size="4.3" fill="#fff" text-anchor="middle">0.50</text>
<rect x="316.96" y="415.90" width="20.04" height="17.34" fill="#3a6db4" stroke="#c8d4e6" stroke-width=".3"/>
<text x="326.98" y="426.07" font-size="4.3" fill="#fff" text-anchor="middle">0.18</text>
<rect x="357.04" y="415.90" width="20.04" height="17.34" fill="#1d3368" stroke="#c8d4e6" stroke-width=".3"/>
<text x="367.06" y="426.07" font-size="4.3" fill="#fff" text-anchor="middle">0.00</text>
<rect x="236.80" y="433.24" width="20.04" height="17.34" fill="#396ab2" stroke="#c8d4e6" stroke-width=".3"/>
<text x="246.82" y="443.41" font-size="4.3" fill="#fff" text-anchor="middle">0.17</text>
<rect x="256.84" y="433.24" width="20.04" height="17.34" fill="#396ab2" stroke="#c8d4e6" stroke-width=".3"/>
<text x="266.86" y="443.41" font-size="4.3" fill="#fff" text-anchor="middle">0.17</text>
<rect x="276.88" y="433.24" width="20.04" height="17.34" fill="#1d3368" stroke="#c8d4e6" stroke-width=".3"/>
<text x="286.90" y="443.41" font-size="4.3" fill="#fff" text-anchor="middle">0.00</text>
<rect x="296.92" y="433.24" width="20.04" height="17.34" fill="#2a4e8e" stroke="#c8d4e6" stroke-width=".3"/>
<text x="306.94" y="443.41" font-size="4.3" fill="#fff" text-anchor="middle">0.08</text>
<rect x="316.96" y="433.24" width="20.04" height="17.34" fill="#2a4e8e" stroke="#c8d4e6" stroke-width=".3"/>
<text x="326.98" y="443.41" font-size="4.3" fill="#fff" text-anchor="middle">0.08</text>
<rect x="337.00" y="433.24" width="20.04" height="17.34" fill="#1d3368" stroke="#c8d4e6" stroke-width=".3"/>
<text x="347.02" y="443.41" font-size="4.3" fill="#fff" text-anchor="middle">0.00</text>
<text x="378.28" y="339.87" font-size="5.8" fill="#e8221f" text-anchor="start">CD8_Tn_IL7R(211)</text>
<text x="378.28" y="357.21" font-size="5.8" fill="#e8221f" text-anchor="start">CD8_Tem_GZMK(313)</text>
<text x="378.28" y="374.55" font-size="5.8" fill="#e8221f" text-anchor="start">CD8_Teff_FGFBP2(37)</text>
<text x="378.28" y="391.89" font-size="5.8" fill="#e8221f" text-anchor="start">CD8_Tex_CXCL13(130)</text>
<text x="378.28" y="409.23" font-size="5.8" fill="#e8221f" text-anchor="start">CD8_Tex_STMN1(17)</text>
<text x="378.28" y="426.57" font-size="5.8" fill="#e8221f" text-anchor="start">CD8_Teff_TYROBP(22)</text>
<text x="378.28" y="443.91" font-size="5.8" fill="#e8221f" text-anchor="start">CD8_ISG_ISG15(12)</text>
<text x="248.82" y="452.80" font-size="5.8" fill="#3a52b5" text-anchor="end" transform="rotate(-90 248.82 452.80)">CD8_Tn_IL7R</text>
<text x="268.86" y="452.80" font-size="5.8" fill="#3a52b5" text-anchor="end" transform="rotate(-90 268.86 452.80)">CD8_Tem_GZMK</text>
<text x="288.90" y="452.80" font-size="5.8" fill="#3a52b5" text-anchor="end" transform="rotate(-90 288.90 452.80)">CD8_Teff_FGFBP2</text>
<text x="308.94" y="452.80" font-size="5.8" fill="#3a52b5" text-anchor="end" transform="rotate(-90 308.94 452.80)">CD8_Tex_CXCL13</text>
<text x="328.98" y="452.80" font-size="5.8" fill="#3a52b5" text-anchor="end" transform="rotate(-90 328.98 452.80)">CD8_Tex_STMN1</text>
<text x="349.02" y="452.80" font-size="5.8" fill="#3a52b5" text-anchor="end" transform="rotate(-90 349.02 452.80)">CD8_Teff_TYROBP</text>
<text x="369.06" y="452.80" font-size="5.8" fill="#3a52b5" text-anchor="end" transform="rotate(-90 369.06 452.80)">CD8_ISG_ISG15</text>
<text x="502.00" y="326.30" font-size="8.5" fill="#111" text-anchor="start">Post−NR</text>
<rect x="464.34" y="329.20" width="20.04" height="17.34" fill="#3b76b8" stroke="#c8d4e6" stroke-width=".3"/>
<text x="474.36" y="339.37" font-size="4.3" fill="#fff" text-anchor="middle">0.21</text>
<rect x="484.38" y="329.20" width="20.04" height="17.34" fill="#223d78" stroke="#c8d4e6" stroke-width=".3"/>
<text x="494.40" y="339.37" font-size="4.3" fill="#fff" text-anchor="middle">0.03</text>
<rect x="504.42" y="329.20" width="20.04" height="17.34" fill="#315a9e" stroke="#c8d4e6" stroke-width=".3"/>
<text x="514.44" y="339.37" font-size="4.3" fill="#fff" text-anchor="middle">0.12</text>
<rect x="524.46" y="329.20" width="20.04" height="17.34" fill="#2c5192" stroke="#c8d4e6" stroke-width=".3"/>
<text x="534.48" y="339.37" font-size="4.3" fill="#fff" text-anchor="middle">0.09</text>
<rect x="544.50" y="329.20" width="20.04" height="17.34" fill="#23417d" stroke="#c8d4e6" stroke-width=".3"/>
<text x="554.52" y="339.37" font-size="4.3" fill="#fff" text-anchor="middle">0.04</text>
<rect x="564.54" y="329.20" width="20.04" height="17.34" fill="#223d78" stroke="#c8d4e6" stroke-width=".3"/>
<text x="574.56" y="339.37" font-size="4.3" fill="#fff" text-anchor="middle">0.03</text>
<rect x="444.30" y="346.54" width="20.04" height="17.34" fill="#2c5192" stroke="#c8d4e6" stroke-width=".3"/>
<text x="454.32" y="356.71" font-size="4.3" fill="#fff" text-anchor="middle">0.09</text>
<rect x="484.38" y="346.54" width="20.04" height="17.34" fill="#23417d" stroke="#c8d4e6" stroke-width=".3"/>
<text x="494.40" y="356.71" font-size="4.3" fill="#fff" text-anchor="middle">0.04</text>
<rect x="504.42" y="346.54" width="20.04" height="17.34" fill="#3460a6" stroke="#c8d4e6" stroke-width=".3"/>
<text x="514.44" y="356.71" font-size="4.3" fill="#fff" text-anchor="middle">0.14</text>
<rect x="524.46" y="346.54" width="20.04" height="17.34" fill="#2d5496" stroke="#c8d4e6" stroke-width=".3"/>
<text x="534.48" y="356.71" font-size="4.3" fill="#fff" text-anchor="middle">0.10</text>
<rect x="544.50" y="346.54" width="20.04" height="17.34" fill="#203a72" stroke="#c8d4e6" stroke-width=".3"/>
<text x="554.52" y="356.71" font-size="4.3" fill="#fff" text-anchor="middle">0.02</text>
<rect x="564.54" y="346.54" width="20.04" height="17.34" fill="#203a72" stroke="#c8d4e6" stroke-width=".3"/>
<text x="574.56" y="356.71" font-size="4.3" fill="#fff" text-anchor="middle">0.02</text>
<rect x="444.30" y="363.88" width="20.04" height="17.34" fill="#2f579a" stroke="#c8d4e6" stroke-width=".3"/>
<text x="454.32" y="374.05" font-size="4.3" fill="#fff" text-anchor="middle">0.11</text>
<rect x="464.34" y="363.88" width="20.04" height="17.34" fill="#5396c8" stroke="#c8d4e6" stroke-width=".3"/>
<text x="474.36" y="374.05" font-size="4.3" fill="#fff" text-anchor="middle">0.33</text>
<rect x="504.42" y="363.88" width="20.04" height="17.34" fill="#2d5496" stroke="#c8d4e6" stroke-width=".3"/>
<text x="514.44" y="374.05" font-size="4.3" fill="#fff" text-anchor="middle">0.10</text>
<rect x="524.46" y="363.88" width="20.04" height="17.34" fill="#2c5192" stroke="#c8d4e6" stroke-width=".3"/>
<text x="534.48" y="374.05" font-size="4.3" fill="#fff" text-anchor="middle">0.09</text>
<rect x="544.50" y="363.88" width="20.04" height="17.34" fill="#254482" stroke="#c8d4e6" stroke-width=".3"/>
<text x="554.52" y="374.05" font-size="4.3" fill="#fff" text-anchor="middle">0.05</text>
<rect x="564.54" y="363.88" width="20.04" height="17.34" fill="#23417d" stroke="#c8d4e6" stroke-width=".3"/>
<text x="574.56" y="374.05" font-size="4.3" fill="#fff" text-anchor="middle">0.04</text>
<rect x="444.30" y="381.22" width="20.04" height="17.34" fill="#2c5192" stroke="#c8d4e6" stroke-width=".3"/>
<text x="454.32" y="391.39" font-size="4.3" fill="#fff" text-anchor="middle">0.09</text>
<rect x="464.34" y="381.22" width="20.04" height="17.34" fill="#3d7fbd" stroke="#c8d4e6" stroke-width=".3"/>
<text x="474.36" y="391.39" font-size="4.3" fill="#fff" text-anchor="middle">0.24</text>
<rect x="484.38" y="381.22" width="20.04" height="17.34" fill="#203a72" stroke="#c8d4e6" stroke-width=".3"/>
<text x="494.40" y="391.39" font-size="4.3" fill="#fff" text-anchor="middle">0.02</text>
<rect x="524.46" y="381.22" width="20.04" height="17.34" fill="#3767ae" stroke="#c8d4e6" stroke-width=".3"/>
<text x="534.48" y="391.39" font-size="4.3" fill="#fff" text-anchor="middle">0.16</text>
<rect x="544.50" y="381.22" width="20.04" height="17.34" fill="#223d78" stroke="#c8d4e6" stroke-width=".3"/>
<text x="554.52" y="391.39" font-size="4.3" fill="#fff" text-anchor="middle">0.03</text>
<rect x="564.54" y="381.22" width="20.04" height="17.34" fill="#223d78" stroke="#c8d4e6" stroke-width=".3"/>
<text x="574.56" y="391.39" font-size="4.3" fill="#fff" text-anchor="middle">0.03</text>
<rect x="444.30" y="398.56" width="20.04" height="17.34" fill="#3767ae" stroke="#c8d4e6" stroke-width=".3"/>
<text x="454.32" y="408.73" font-size="4.3" fill="#fff" text-anchor="middle">0.16</text>
<rect x="464.34" y="398.56" width="20.04" height="17.34" fill="#67a8d0" stroke="#c8d4e6" stroke-width=".3"/>
<text x="474.36" y="408.73" font-size="4.3" fill="#fff" text-anchor="middle">0.40</text>
<rect x="484.38" y="398.56" width="20.04" height="17.34" fill="#23417d" stroke="#c8d4e6" stroke-width=".3"/>
<text x="494.40" y="408.73" font-size="4.3" fill="#fff" text-anchor="middle">0.04</text>
<rect x="504.42" y="398.56" width="20.04" height="17.34" fill="#6faed3" stroke="#c8d4e6" stroke-width=".3"/>
<text x="514.44" y="408.73" font-size="4.3" fill="#fff" text-anchor="middle">0.43</text>
<rect x="544.50" y="398.56" width="20.04" height="17.34" fill="#223d78" stroke="#c8d4e6" stroke-width=".3"/>
<text x="554.52" y="408.73" font-size="4.3" fill="#fff" text-anchor="middle">0.03</text>
<rect x="564.54" y="398.56" width="20.04" height="17.34" fill="#274786" stroke="#c8d4e6" stroke-width=".3"/>
<text x="574.56" y="408.73" font-size="4.3" fill="#fff" text-anchor="middle">0.06</text>
<rect x="444.30" y="415.90" width="20.04" height="17.34" fill="#3c79ba" stroke="#c8d4e6" stroke-width=".3"/>
<text x="454.32" y="426.07" font-size="4.3" fill="#fff" text-anchor="middle">0.22</text>
<rect x="464.34" y="415.90" width="20.04" height="17.34" fill="#4689c2" stroke="#c8d4e6" stroke-width=".3"/>
<text x="474.36" y="426.07" font-size="4.3" fill="#fff" text-anchor="middle">0.28</text>
<rect x="484.38" y="415.90" width="20.04" height="17.34" fill="#2a4e8e" stroke="#c8d4e6" stroke-width=".3"/>
<text x="494.40" y="426.07" font-size="4.3" fill="#fff" text-anchor="middle">0.08</text>
<rect x="504.42" y="415.90" width="20.04" height="17.34" fill="#3b76b8" stroke="#c8d4e6" stroke-width=".3"/>
<text x="514.44" y="426.07" font-size="4.3" fill="#fff" text-anchor="middle">0.21</text>
<rect x="524.46" y="415.90" width="20.04" height="17.34" fill="#2f579a" stroke="#c8d4e6" stroke-width=".3"/>
<text x="534.48" y="426.07" font-size="4.3" fill="#fff" text-anchor="middle">0.11</text>
<rect x="564.54" y="415.90" width="20.04" height="17.34" fill="#254482" stroke="#c8d4e6" stroke-width=".3"/>
<text x="574.56" y="426.07" font-size="4.3" fill="#fff" text-anchor="middle">0.05</text>
<rect x="444.30" y="433.24" width="20.04" height="17.34" fill="#315a9e" stroke="#c8d4e6" stroke-width=".3"/>
<text x="454.32" y="443.41" font-size="4.3" fill="#fff" text-anchor="middle">0.12</text>
<rect x="464.34" y="433.24" width="20.04" height="17.34" fill="#3c7cbb" stroke="#c8d4e6" stroke-width=".3"/>
<text x="474.36" y="443.41" font-size="4.3" fill="#fff" text-anchor="middle">0.23</text>
<rect x="484.38" y="433.24" width="20.04" height="17.34" fill="#23417d" stroke="#c8d4e6" stroke-width=".3"/>
<text x="494.40" y="443.41" font-size="4.3" fill="#fff" text-anchor="middle">0.04</text>
<rect x="504.42" y="433.24" width="20.04" height="17.34" fill="#3767ae" stroke="#c8d4e6" stroke-width=".3"/>
<text x="514.44" y="443.41" font-size="4.3" fill="#fff" text-anchor="middle">0.16</text>
<rect x="524.46" y="433.24" width="20.04" height="17.34" fill="#3767ae" stroke="#c8d4e6" stroke-width=".3"/>
<text x="534.48" y="443.41" font-size="4.3" fill="#fff" text-anchor="middle">0.16</text>
<rect x="544.50" y="433.24" width="20.04" height="17.34" fill="#23417d" stroke="#c8d4e6" stroke-width=".3"/>
<text x="554.52" y="443.41" font-size="4.3" fill="#fff" text-anchor="middle">0.04</text>
<text x="585.78" y="339.87" font-size="5.8" fill="#e8221f" text-anchor="start">CD8_Tn_IL7R(511)</text>
<text x="585.78" y="357.21" font-size="5.8" fill="#e8221f" text-anchor="start">CD8_Tem_GZMK(1132)</text>
<text x="585.78" y="374.55" font-size="5.8" fill="#e8221f" text-anchor="start">CD8_Teff_FGFBP2(141)</text>
<text x="585.78" y="391.89" font-size="5.8" fill="#e8221f" text-anchor="start">CD8_Tex_CXCL13(590)</text>
<text x="585.78" y="409.23" font-size="5.8" fill="#e8221f" text-anchor="start">CD8_Tex_STMN1(290)</text>
<text x="585.78" y="426.57" font-size="5.8" fill="#e8221f" text-anchor="start">CD8_Teff_TYROBP(87)</text>
<text x="585.78" y="443.91" font-size="5.8" fill="#e8221f" text-anchor="start">CD8_ISG_ISG15(112)</text>
<text x="456.32" y="452.80" font-size="5.8" fill="#3a52b5" text-anchor="end" transform="rotate(-90 456.32 452.80)">CD8_Tn_IL7R</text>
<text x="476.36" y="452.80" font-size="5.8" fill="#3a52b5" text-anchor="end" transform="rotate(-90 476.36 452.80)">CD8_Tem_GZMK</text>
<text x="496.40" y="452.80" font-size="5.8" fill="#3a52b5" text-anchor="end" transform="rotate(-90 496.40 452.80)">CD8_Teff_FGFBP2</text>
<text x="516.44" y="452.80" font-size="5.8" fill="#3a52b5" text-anchor="end" transform="rotate(-90 516.44 452.80)">CD8_Tex_CXCL13</text>
<text x="536.48" y="452.80" font-size="5.8" fill="#3a52b5" text-anchor="end" transform="rotate(-90 536.48 452.80)">CD8_Tex_STMN1</text>
<text x="556.52" y="452.80" font-size="5.8" fill="#3a52b5" text-anchor="end" transform="rotate(-90 556.52 452.80)">CD8_Teff_TYROBP</text>
<text x="576.56" y="452.80" font-size="5.8" fill="#3a52b5" text-anchor="end" transform="rotate(-90 576.56 452.80)">CD8_ISG_ISG15</text>
<text x="20.20" y="395.60" font-size="9.7" fill="#e8221f" text-anchor="middle" transform="rotate(-90 20.20 395.60)">Primary phenotype</text>
<defs><linearGradient id="cb" x1="0" x2="1" y1="0" y2="0"><stop offset="0.00" stop-color="#1d3368"/><stop offset="0.05" stop-color="#254482"/><stop offset="0.17" stop-color="#396ab2"/><stop offset="0.24" stop-color="#3d7fbd"/><stop offset="0.30" stop-color="#4a8ec4"/><stop offset="0.41" stop-color="#6aabd1"/><stop offset="0.55" stop-color="#8cc1e0"/><stop offset="0.70" stop-color="#b1d5ea"/><stop offset="0.85" stop-color="#d5e8f5"/><stop offset="1.00" stop-color="#fafcff"/></linearGradient></defs>
<rect x="272.8" y="513.2" width="67.2" height="5.6" fill="url(#cb)"/>
<text x="272.80" y="511.20" font-size="4.85" fill="#111" text-anchor="start" font-weight="bold">Fraction shared clonotypes</text>
<path d="M272.80 517.4V518.8" stroke="#fff" stroke-width=".4"/>
<text x="272.80" y="523.80" font-size="4.4" fill="#222" text-anchor="middle">0</text>
<path d="M306.40 517.4V518.8" stroke="#fff" stroke-width=".4"/>
<text x="306.40" y="523.80" font-size="4.4" fill="#222" text-anchor="middle">0.5</text>
<path d="M340.00 517.4V518.8" stroke="#fff" stroke-width=".4"/>
<text x="340.00" y="523.80" font-size="4.4" fill="#222" text-anchor="middle">1</text>
<path d="M530.5 524.5V644.1H625.6" fill="none" stroke="#222" stroke-width=".8"/>
<path d="M528.8 639.20H530.5" stroke="#333" stroke-width=".5"/>
<text x="527.80" y="640.90" font-size="4.9" fill="#444" text-anchor="end">0</text>
<path d="M528.8 611.65H530.5" stroke="#333" stroke-width=".5"/>
<text x="527.80" y="613.35" font-size="4.9" fill="#444" text-anchor="end">25</text>
<path d="M528.8 584.10H530.5" stroke="#333" stroke-width=".5"/>
<text x="527.80" y="585.80" font-size="4.9" fill="#444" text-anchor="end">50</text>
<path d="M528.8 556.55H530.5" stroke="#333" stroke-width=".5"/>
<text x="527.80" y="558.25" font-size="4.9" fill="#444" text-anchor="end">75</text>
<path d="M528.8 529.00H530.5" stroke="#333" stroke-width=".5"/>
<text x="527.80" y="530.70" font-size="4.9" fill="#444" text-anchor="end">100</text>
<text x="518.60" y="581.20" font-size="7.0" fill="#111" text-anchor="middle" transform="rotate(-90 518.60 581.20)">Fraction</text>
<rect x="537.00" y="529.00" width="13.9" height="78.79" fill="#e4c35f"/>
<rect x="537.00" y="607.79" width="13.9" height="31.41" fill="#e5714a"/>
<path d="M543.95 644.1V645.6" stroke="#333" stroke-width=".5"/>
<text x="543.95" y="650.80" font-size="5.4" fill="#444" text-anchor="middle">Pre−R</text>
<rect x="560.03" y="529.00" width="13.9" height="33.61" fill="#e4c35f"/>
<rect x="560.03" y="562.61" width="13.9" height="76.59" fill="#e5714a"/>
<path d="M566.98 644.1V645.6" stroke="#333" stroke-width=".5"/>
<text x="566.98" y="650.80" font-size="5.4" fill="#444" text-anchor="middle">Pre−NR</text>
<rect x="583.06" y="529.00" width="13.9" height="60.06" fill="#e4c35f"/>
<rect x="583.06" y="589.06" width="13.9" height="50.14" fill="#e5714a"/>
<path d="M590.01 644.1V645.6" stroke="#333" stroke-width=".5"/>
<text x="590.01" y="650.80" font-size="5.4" fill="#444" text-anchor="middle">Post−R</text>
<rect x="606.09" y="529.00" width="13.9" height="35.81" fill="#e4c35f"/>
<rect x="606.09" y="564.82" width="13.9" height="74.39" fill="#e5714a"/>
<path d="M613.04 644.1V645.6" stroke="#333" stroke-width=".5"/>
<text x="613.04" y="650.80" font-size="5.4" fill="#444" text-anchor="middle">Post−NR</text>
<rect x="627.7" y="577.6" width="7.4" height="7.6" fill="#e4c35f"/>
<rect x="627.7" y="587.9" width="7.4" height="7.6" fill="#e5714a"/>
<text x="637.30" y="583.40" font-size="5.3" fill="#222" text-anchor="start">Texp</text>
<text x="637.30" y="593.70" font-size="5.3" fill="#222" text-anchor="start">Terminal Tex</text>
<circle cx="17.4" cy="110.7" r="2.5" fill="#7ed3c9"/>
<text x="22.80" y="112.60" font-size="5.2" fill="#333" text-anchor="start">P1</text>
<circle cx="17.4" cy="116.8" r="2.5" fill="#d3409a"/>
<text x="22.80" y="118.70" font-size="5.2" fill="#333" text-anchor="start">P2</text>
<circle cx="17.4" cy="122.9" r="2.5" fill="#73c47e"/>
<text x="22.80" y="124.80" font-size="5.2" fill="#333" text-anchor="start">P3</text>
<circle cx="34.5" cy="110.7" r="2.5" fill="#c9d3e6"/>
<text x="39.90" y="112.60" font-size="5.2" fill="#333" text-anchor="start">P4</text>
<circle cx="34.5" cy="116.8" r="2.5" fill="#6d9bd3"/>
<text x="39.90" y="118.70" font-size="5.2" fill="#333" text-anchor="start">P5</text>
<circle cx="34.5" cy="122.9" r="2.5" fill="#9d48b3"/>
<text x="39.90" y="124.80" font-size="5.2" fill="#333" text-anchor="start">P6</text>
<circle cx="52.4" cy="110.7" r="2.5" fill="#c6d94d"/>
<text x="57.80" y="112.60" font-size="5.2" fill="#333" text-anchor="start">P7</text>
<circle cx="52.4" cy="116.8" r="2.5" fill="#5e8c7c"/>
<text x="57.80" y="118.70" font-size="5.2" fill="#333" text-anchor="start">P8</text>
<circle cx="52.4" cy="122.9" r="2.5" fill="#4b3aa3"/>
<text x="57.80" y="124.80" font-size="5.2" fill="#333" text-anchor="start">P9</text>
<circle cx="70.0" cy="110.7" r="2.5" fill="#6dc35a"/>
<text x="75.40" y="112.60" font-size="5.2" fill="#333" text-anchor="start">P10</text>
<circle cx="70.0" cy="116.8" r="2.5" fill="#c99b55"/>
<text x="75.40" y="118.70" font-size="5.2" fill="#333" text-anchor="start">P11</text>
<circle cx="70.0" cy="122.9" r="2.5" fill="#6b72c4"/>
<text x="75.40" y="124.80" font-size="5.2" fill="#333" text-anchor="start">P12</text>
<circle cx="89.4" cy="110.7" r="2.5" fill="#d24b41"/>
<text x="94.80" y="112.60" font-size="5.2" fill="#333" text-anchor="start">P13</text>
<circle cx="89.4" cy="116.8" r="2.5" fill="#dda3a1"/>
<text x="94.80" y="118.70" font-size="5.2" fill="#333" text-anchor="start">P14</text>
<circle cx="89.4" cy="122.9" r="2.5" fill="#c9e28c"/>
<text x="94.80" y="124.80" font-size="5.2" fill="#333" text-anchor="start">P15</text>
<circle cx="109.2" cy="110.7" r="2.5" fill="#cb93d3"/>
<text x="114.60" y="112.60" font-size="5.2" fill="#333" text-anchor="start">P16</text>
<circle cx="109.2" cy="116.8" r="2.5" fill="#cbe8c2"/>
<text x="114.60" y="118.70" font-size="5.2" fill="#333" text-anchor="start">P17</text>
<circle cx="109.2" cy="122.9" r="2.5" fill="#c272cb"/>
<text x="114.60" y="124.80" font-size="5.2" fill="#333" text-anchor="start">P18</text>
<circle cx="128.7" cy="110.7" r="2.3" fill="#bdbdbd"/>
<text x="133.70" y="112.60" font-size="5.0" fill="#333" text-anchor="start">Not detected</text>
<circle cx="225.4" cy="112.6" r="2.6" fill="#9ecde2"/>
<text x="230.00" y="115.00" font-size="6.4" fill="#333" text-anchor="start">Pre</text>
<circle cx="246.8" cy="112.6" r="2.6" fill="#3574ad"/>
<text x="251.40" y="115.00" font-size="6.4" fill="#333" text-anchor="start">Post</text>
<circle cx="270.4" cy="112.6" r="2.6" fill="#bdbdbd"/>
<text x="275.00" y="115.00" font-size="6.4" fill="#333" text-anchor="start" textLength="33.0" lengthAdjust="spacingAndGlyphs">Not detected</text>
<circle cx="352.9" cy="109.2" r="2.1" fill="#dd3b36"/>
<text x="358.50" y="111.00" font-size="4.75" fill="#333" text-anchor="start">Clonotype 1</text>
<circle cx="352.9" cy="115.0" r="2.1" fill="#7180d0"/>
<text x="358.50" y="116.80" font-size="4.75" fill="#333" text-anchor="start">Clonotype 2</text>
<circle cx="352.9" cy="121.0" r="2.1" fill="#d36630"/>
<text x="358.50" y="122.80" font-size="4.75" fill="#333" text-anchor="start">Clonotype 3</text>
<circle cx="389.1" cy="109.2" r="2.1" fill="#8a4fb0"/>
<text x="394.70" y="111.00" font-size="4.75" fill="#333" text-anchor="start">Clonotype 4</text>
<circle cx="389.1" cy="115.0" r="2.1" fill="#e0b3e0"/>
<text x="394.70" y="116.80" font-size="4.75" fill="#333" text-anchor="start">Clonotype 5</text>
<circle cx="389.1" cy="121.0" r="2.1" fill="#3f9a86"/>
<text x="394.70" y="122.80" font-size="4.75" fill="#333" text-anchor="start">Clonotype 6</text>
<circle cx="425.7" cy="109.2" r="2.1" fill="#e8b433"/>
<text x="431.30" y="111.00" font-size="4.75" fill="#333" text-anchor="start">Clonotype 7</text>
<circle cx="425.7" cy="115.0" r="2.1" fill="#c24b42"/>
<text x="431.30" y="116.80" font-size="4.75" fill="#333" text-anchor="start">Clonotype 8</text>
<circle cx="425.7" cy="121.0" r="2.1" fill="#96d45a"/>
<text x="431.30" y="122.80" font-size="4.75" fill="#333" text-anchor="start">Clonotype 9</text>
<circle cx="462.4" cy="109.2" r="2.1" fill="#e3e07e"/>
<text x="468.00" y="111.00" font-size="4.75" fill="#333" text-anchor="start">Clonotype 10</text>
<circle cx="462.4" cy="115.0" r="2.1" fill="#abd6e0"/>
<text x="468.00" y="116.80" font-size="4.75" fill="#333" text-anchor="start">Other Clonotypes</text>
<circle cx="462.4" cy="121.0" r="2.1" fill="#d0d0d0"/>
<text x="468.00" y="122.80" font-size="4.75" fill="#333" text-anchor="start">Not detected</text>
<circle cx="559.3" cy="110.9" r="2.6" fill="#3977b0"/>
<text x="563.70" y="113.30" font-size="6.4" fill="#333" text-anchor="start">n ≥ 3</text>
<circle cx="584.7" cy="110.9" r="2.6" fill="#a5d0e0"/>
<text x="589.10" y="113.30" font-size="6.4" fill="#333" text-anchor="start">n &lt; 3</text>
<circle cx="609.7" cy="110.9" r="2.6" fill="#bdbdbd"/>
<text x="614.10" y="113.30" font-size="6.4" fill="#333" text-anchor="start" textLength="33.0" lengthAdjust="spacingAndGlyphs">Not detected</text>
<circle cx="126.3" cy="526.7" r="2.7" fill="#e2a33a"/>
<text x="132.80" y="528.80" font-size="6.3" fill="#333" text-anchor="start">Tex−relevant cell</text>
<circle cx="126.3" cy="538.7" r="2.7" fill="#5cbad6"/>
<text x="132.80" y="540.80" font-size="6.3" fill="#333" text-anchor="start">Tex−irrelevant cell</text>
<circle cx="126.3" cy="551.4" r="2.7" fill="#d0d0d0"/>
<text x="132.80" y="553.50" font-size="6.3" fill="#333" text-anchor="start">Other T cells</text>
<circle cx="329.2" cy="543.4" r="2.7" fill="#e8744a"/>
<text x="333.70" y="545.50" font-size="5.8" fill="#222" text-anchor="start">Terminal Tex</text>
<circle cx="329.2" cy="554.8" r="2.7" fill="#e6c25a"/>
<text x="333.70" y="556.90" font-size="5.8" fill="#222" text-anchor="start">Texp</text>
<text transform="translate(2.69 14.65) scale(0.887 1)" font-size="16.27" fill="#000">a</text>
<text transform="translate(184.47 15.0) scale(0.978 1)" font-size="16.21" fill="#000">b</text>
<text transform="translate(351.66 14.76) scale(1.096 1)" font-size="16.09" fill="#000">c</text>
<text transform="translate(526.12 15.01) scale(1.024 1)" font-size="15.87" fill="#000">d</text>
<text transform="translate(5.16 161.05) scale(1.03 1)" font-size="17.18" fill="#000">e</text>
<text transform="translate(202.34 161.12) scale(1.065 1)" font-size="17.43" fill="#000">f</text>
<text transform="translate(394.66 157.26) scale(1.091 1)" font-size="16.13" fill="#000">g</text>
<text transform="translate(594.79 161.12) scale(0.983 1)" font-size="16.44" fill="#000">h</text>
<text transform="translate(11.3 333.22) scale(1.0 1)" font-size="16.44" fill="#000">i</text>
<text transform="translate(12.4 551.78) scale(1.0 1)" font-size="16.52" fill="#000">j</text>
<text transform="translate(212.2 555.42) scale(0.981 1)" font-size="16.71" fill="#000">k</text>
<text transform="translate(384.24 552.3) scale(1.0 1)" font-size="15.5" fill="#000">l</text>
<text transform="translate(500.66 535.42) scale(0.998 1)" font-size="17.32" fill="#000">m</text>
</svg></body></html>
